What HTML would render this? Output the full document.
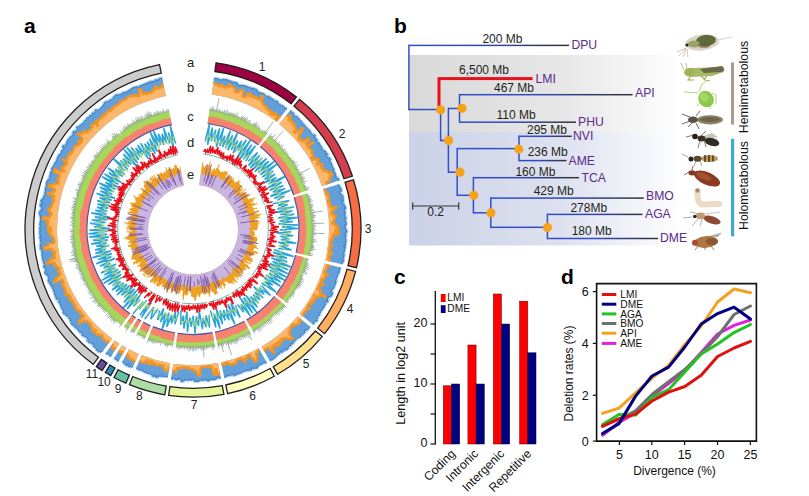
<!DOCTYPE html><html><head><meta charset="utf-8"><style>html,body{margin:0;padding:0;background:#fff;width:809px;height:496px;overflow:hidden;position:relative}</style></head><body><svg width="809" height="496" viewBox="0 0 809 496" style="position:absolute;left:0;top:0">
<rect width="809" height="496" fill="#fff"/>
<path d="M216.1,62.8A168.0,168.0 0 0 1 296.5,96.9L291.1,103.8A159.2,159.2 0 0 0 214.9,71.5Z" fill="#9e0142" stroke="#231f20" stroke-width="1.3"/>
<path d="M299.5,99.3A168.0,168.0 0 0 1 352.4,176.0L344.0,178.8A159.2,159.2 0 0 0 293.9,106.1Z" fill="#d53e4f" stroke="#231f20" stroke-width="1.3"/>
<path d="M353.5,179.7A168.0,168.0 0 0 1 356.5,267.7L348.0,265.7A159.2,159.2 0 0 0 345.1,182.3Z" fill="#f46d43" stroke="#231f20" stroke-width="1.3"/>
<path d="M355.6,271.4A168.0,168.0 0 0 1 324.6,333.7L317.7,328.2A159.2,159.2 0 0 0 347.1,269.2Z" fill="#fdae61" stroke="#231f20" stroke-width="1.3"/>
<path d="M322.2,336.6A168.0,168.0 0 0 1 277.6,374.3L273.2,366.7A159.2,159.2 0 0 0 315.4,331.0Z" fill="#fee08b" stroke="#231f20" stroke-width="1.3"/>
<path d="M274.3,376.2A168.0,168.0 0 0 1 227.6,393.6L225.8,385.0A159.2,159.2 0 0 0 270.1,368.5Z" fill="#ffffbf" stroke="#231f20" stroke-width="1.3"/>
<path d="M223.9,394.3A168.0,168.0 0 0 1 168.6,395.4L169.9,386.7A159.2,159.2 0 0 0 222.3,385.7Z" fill="#e6f598" stroke="#231f20" stroke-width="1.3"/>
<path d="M164.8,394.8A168.0,168.0 0 0 1 129.4,384.7L132.7,376.5A159.2,159.2 0 0 0 166.3,386.1Z" fill="#abdda4" stroke="#231f20" stroke-width="1.3"/>
<path d="M125.9,383.2A168.0,168.0 0 0 1 114.0,377.5L118.1,369.7A159.2,159.2 0 0 0 129.4,375.1Z" fill="#66c2a5" stroke="#231f20" stroke-width="1.3"/>
<path d="M110.7,375.6A168.0,168.0 0 0 1 105.3,372.5L109.9,365.0A159.2,159.2 0 0 0 115.0,368.0Z" fill="#3288bd" stroke="#231f20" stroke-width="1.3"/>
<path d="M102.1,370.5A168.0,168.0 0 0 1 96.3,366.6L101.3,359.4A159.2,159.2 0 0 0 106.9,363.1Z" fill="#5e4fa2" stroke="#231f20" stroke-width="1.3"/>
<path d="M93.2,364.3A168.0,168.0 0 0 1 159.5,64.6L161.3,73.2A159.2,159.2 0 0 0 98.4,357.3Z" fill="#cccccc" stroke="#231f20" stroke-width="1.3"/>
<path d="M213.9,78.5 L215.4,78.7 L215.4,78.3 L216.9,78.5 L216.9,78.8 L218.3,79.1 L218.3,79.2 L219.8,79.5 L219.7,79.9 L221.1,80.2 L221.2,79.9 L222.6,80.2 L222.8,79.3 L224.3,79.6 L224.3,79.7 L225.7,80.0 L225.8,79.6 L227.3,79.9 L227.2,80.3 L228.6,80.7 L228.6,80.7 L230.1,81.1 L230.0,81.2 L231.5,81.6 L231.1,82.8 L232.6,83.1 L232.9,82.0 L234.3,82.4 L234.4,82.2 L235.8,82.6 L235.8,82.6 L237.2,83.0 L236.8,84.3 L238.2,84.7 L238.1,85.2 L239.5,85.7 L239.6,85.3 L241.0,85.8 L241.1,85.4 L242.5,85.9 L242.7,85.3 L244.1,85.8 L244.1,85.8 L245.5,86.3 L245.7,86.0 L247.1,86.5 L246.8,87.1 L248.2,87.6 L248.4,87.2 L249.7,87.8 L249.8,87.6 L251.2,88.1 L251.0,88.7 L252.3,89.3 L252.8,88.1 L254.2,88.7 L254.1,88.9 L255.5,89.5 L255.6,89.2 L256.9,89.9 L256.5,90.8 L257.8,91.4 L257.7,91.8 L259.0,92.5 L259.0,92.4 L260.4,93.0 L260.4,92.9 L261.8,93.5 L262.0,93.1 L263.3,93.7 L263.3,93.8 L264.6,94.5 L264.4,94.9 L265.7,95.6 L265.5,96.0 L266.8,96.7 L266.8,96.6 L268.1,97.4 L268.7,96.4 L270.0,97.1 L269.5,97.9 L270.8,98.6 L271.0,98.3 L272.3,99.1 L272.4,98.9 L273.7,99.7 L273.0,100.6 L274.3,101.4 L274.6,100.9 L275.9,101.7 L276.4,100.9 L277.7,101.7 L276.7,103.2 L277.9,104.0 L278.2,103.6 L279.4,104.5 L279.5,104.2 L280.8,105.1 L280.6,105.3 L281.8,106.2 L282.2,105.6 L283.4,106.5 L283.3,106.6 L284.5,107.5 L283.9,108.2 L285.1,109.1 L285.8,108.2 L287.0,109.1" fill="none" stroke="#a6d0f0" stroke-width="2.8"/>
<path d="M213.9,78.5 L215.4,78.7 L215.4,78.3 L216.9,78.5 L216.9,78.8 L218.3,79.1 L218.3,79.2 L219.8,79.5 L219.7,79.9 L221.1,80.2 L221.2,79.9 L222.6,80.2 L222.8,79.3 L224.3,79.6 L224.3,79.7 L225.7,80.0 L225.8,79.6 L227.3,79.9 L227.2,80.3 L228.6,80.7 L228.6,80.7 L230.1,81.1 L230.0,81.2 L231.5,81.6 L231.1,82.8 L232.6,83.1 L232.9,82.0 L234.3,82.4 L234.4,82.2 L235.8,82.6 L235.8,82.6 L237.2,83.0 L236.8,84.3 L238.2,84.7 L238.1,85.2 L239.5,85.7 L239.6,85.3 L241.0,85.8 L241.1,85.4 L242.5,85.9 L242.7,85.3 L244.1,85.8 L244.1,85.8 L245.5,86.3 L245.7,86.0 L247.1,86.5 L246.8,87.1 L248.2,87.6 L248.4,87.2 L249.7,87.8 L249.8,87.6 L251.2,88.1 L251.0,88.7 L252.3,89.3 L252.8,88.1 L254.2,88.7 L254.1,88.9 L255.5,89.5 L255.6,89.2 L256.9,89.9 L256.5,90.8 L257.8,91.4 L257.7,91.8 L259.0,92.5 L259.0,92.4 L260.4,93.0 L260.4,92.9 L261.8,93.5 L262.0,93.1 L263.3,93.7 L263.3,93.8 L264.6,94.5 L264.4,94.9 L265.7,95.6 L265.5,96.0 L266.8,96.7 L266.8,96.6 L268.1,97.4 L268.7,96.4 L270.0,97.1 L269.5,97.9 L270.8,98.6 L271.0,98.3 L272.3,99.1 L272.4,98.9 L273.7,99.7 L273.0,100.6 L274.3,101.4 L274.6,100.9 L275.9,101.7 L276.4,100.9 L277.7,101.7 L276.7,103.2 L277.9,104.0 L278.2,103.6 L279.4,104.5 L279.5,104.2 L280.8,105.1 L280.6,105.3 L281.8,106.2 L282.2,105.6 L283.4,106.5 L283.3,106.6 L284.5,107.5 L283.9,108.2 L285.1,109.1 L285.8,108.2 L287.0,109.1 L276.8,122.1 A136.0,136.0 0 0 0 211.7,94.5Z" fill="#63a0d9"/>
<path d="M213.9,78.5 L215.4,78.7 L215.4,78.3 L216.9,78.5 L216.9,78.8 L218.3,79.1 L218.3,79.2 L219.8,79.5 L219.7,79.9 L221.1,80.2 L221.2,79.9 L222.6,80.2 L222.8,79.3 L224.3,79.6 L224.3,79.7 L225.7,80.0 L225.8,79.6 L227.3,79.9 L227.2,80.3 L228.6,80.7 L228.6,80.7 L230.1,81.1 L230.0,81.2 L231.5,81.6 L231.1,82.8 L232.6,83.1 L232.9,82.0 L234.3,82.4 L234.4,82.2 L235.8,82.6 L235.8,82.6 L237.2,83.0 L236.8,84.3 L238.2,84.7 L238.1,85.2 L239.5,85.7 L239.6,85.3 L241.0,85.8 L241.1,85.4 L242.5,85.9 L242.7,85.3 L244.1,85.8 L244.1,85.8 L245.5,86.3 L245.7,86.0 L247.1,86.5 L246.8,87.1 L248.2,87.6 L248.4,87.2 L249.7,87.8 L249.8,87.6 L251.2,88.1 L251.0,88.7 L252.3,89.3 L252.8,88.1 L254.2,88.7 L254.1,88.9 L255.5,89.5 L255.6,89.2 L256.9,89.9 L256.5,90.8 L257.8,91.4 L257.7,91.8 L259.0,92.5 L259.0,92.4 L260.4,93.0 L260.4,92.9 L261.8,93.5 L262.0,93.1 L263.3,93.7 L263.3,93.8 L264.6,94.5 L264.4,94.9 L265.7,95.6 L265.5,96.0 L266.8,96.7 L266.8,96.6 L268.1,97.4 L268.7,96.4 L270.0,97.1 L269.5,97.9 L270.8,98.6 L271.0,98.3 L272.3,99.1 L272.4,98.9 L273.7,99.7 L273.0,100.6 L274.3,101.4 L274.6,100.9 L275.9,101.7 L276.4,100.9 L277.7,101.7 L276.7,103.2 L277.9,104.0 L278.2,103.6 L279.4,104.5 L279.5,104.2 L280.8,105.1 L280.6,105.3 L281.8,106.2 L282.2,105.6 L283.4,106.5 L283.3,106.6 L284.5,107.5 L283.9,108.2 L285.1,109.1 L285.8,108.2 L287.0,109.1" fill="none" stroke="#3a7ac4" stroke-width="1.0"/>
<path d="M213.3,83.0 L214.7,83.2 L214.7,83.2 L216.1,83.4 L215.9,84.6 L217.4,84.8 L217.3,85.1 L218.7,85.4 L218.6,85.9 L220.0,86.2 L220.3,84.4 L221.7,84.7 L221.7,85.1 L223.1,85.4 L222.8,86.7 L224.2,87.0 L224.1,87.6 L225.4,87.9 L225.8,86.4 L227.2,86.8 L227.1,86.8 L228.5,87.2 L229.3,84.1 L230.7,84.5 L230.2,86.3 L231.6,86.7 L231.6,86.8 L233.0,87.2 L232.9,87.6 L234.2,88.0 L234.3,87.8 L235.7,88.2 L234.6,91.9 L235.9,92.3 L236.2,91.4 L237.5,91.8 L237.4,92.0 L238.8,92.5 L239.6,89.9 L241.0,90.4 L241.2,89.7 L242.6,90.2 L242.5,90.5 L243.8,91.0 L242.0,95.9 L243.3,96.4 L243.1,96.8 L244.4,97.3 L244.7,96.5 L246.0,97.0 L247.5,93.4 L248.8,93.9 L249.2,93.0 L250.5,93.6 L249.5,95.9 L250.8,96.5 L251.5,94.8 L252.8,95.4 L252.2,96.8 L253.5,97.3 L253.6,97.1 L254.9,97.7 L255.5,96.5 L256.8,97.1 L256.1,98.4 L257.4,99.0 L257.3,99.2 L258.6,99.9 L259.5,98.1 L260.7,98.8 L262.3,95.7 L263.6,96.4 L260.9,101.5 L262.1,102.2 L262.1,102.3 L263.3,103.0 L262.9,103.8 L264.1,104.4 L263.5,105.4 L264.7,106.1 L264.7,106.2 L265.9,106.9 L266.2,106.3 L267.4,107.0 L266.2,109.0 L267.4,109.7 L267.6,109.3 L268.8,110.0 L268.6,110.4 L269.7,111.1 L270.2,110.4 L271.4,111.1 L269.7,113.7 L270.8,114.4 L272.3,112.3 L273.4,113.0 L272.2,114.8 L273.3,115.6 L275.1,113.0 L276.2,113.8 L275.6,114.7 L276.7,115.5 L276.5,115.9 L277.6,116.7 L275.8,119.1 L276.9,119.9 L279.6,116.3 L280.7,117.2 L276.8,122.1 A136.0,136.0 0 0 0 211.7,94.5Z" fill="#fdb76b"/>
<path d="M213.3,83.0 L214.7,83.2 L214.7,83.2 L216.1,83.4 L215.9,84.6 L217.4,84.8 L217.3,85.1 L218.7,85.4 L218.6,85.9 L220.0,86.2 L220.3,84.4 L221.7,84.7 L221.7,85.1 L223.1,85.4 L222.8,86.7 L224.2,87.0 L224.1,87.6 L225.4,87.9 L225.8,86.4 L227.2,86.8 L227.1,86.8 L228.5,87.2 L229.3,84.1 L230.7,84.5 L230.2,86.3 L231.6,86.7 L231.6,86.8 L233.0,87.2 L232.9,87.6 L234.2,88.0 L234.3,87.8 L235.7,88.2 L234.6,91.9 L235.9,92.3 L236.2,91.4 L237.5,91.8 L237.4,92.0 L238.8,92.5 L239.6,89.9 L241.0,90.4 L241.2,89.7 L242.6,90.2 L242.5,90.5 L243.8,91.0 L242.0,95.9 L243.3,96.4 L243.1,96.8 L244.4,97.3 L244.7,96.5 L246.0,97.0 L247.5,93.4 L248.8,93.9 L249.2,93.0 L250.5,93.6 L249.5,95.9 L250.8,96.5 L251.5,94.8 L252.8,95.4 L252.2,96.8 L253.5,97.3 L253.6,97.1 L254.9,97.7 L255.5,96.5 L256.8,97.1 L256.1,98.4 L257.4,99.0 L257.3,99.2 L258.6,99.9 L259.5,98.1 L260.7,98.8 L262.3,95.7 L263.6,96.4 L260.9,101.5 L262.1,102.2 L262.1,102.3 L263.3,103.0 L262.9,103.8 L264.1,104.4 L263.5,105.4 L264.7,106.1 L264.7,106.2 L265.9,106.9 L266.2,106.3 L267.4,107.0 L266.2,109.0 L267.4,109.7 L267.6,109.3 L268.8,110.0 L268.6,110.4 L269.7,111.1 L270.2,110.4 L271.4,111.1 L269.7,113.7 L270.8,114.4 L272.3,112.3 L273.4,113.0 L272.2,114.8 L273.3,115.6 L275.1,113.0 L276.2,113.8 L275.6,114.7 L276.7,115.5 L276.5,115.9 L277.6,116.7 L275.8,119.1 L276.9,119.9 L279.6,116.3 L280.7,117.2" fill="none" stroke="#f39322" stroke-width="2.0"/>
<path d="M290.2,110.6 L291.4,111.6 L290.9,112.1 L292.0,113.1 L292.5,112.5 L293.7,113.5 L293.2,114.0 L294.3,115.0 L293.8,115.5 L294.9,116.5 L295.2,116.2 L296.3,117.2 L296.9,116.5 L298.0,117.5 L297.9,117.7 L298.9,118.7 L298.8,118.8 L299.9,119.8 L299.9,119.9 L300.9,120.9 L301.0,120.9 L302.0,121.9 L301.7,122.2 L302.7,123.3 L302.1,123.9 L303.1,124.9 L303.8,124.3 L304.8,125.4 L304.5,125.6 L305.5,126.7 L305.7,126.6 L306.7,127.7 L306.3,128.1 L307.2,129.2 L307.6,128.8 L308.6,129.9 L308.9,129.7 L309.8,130.8 L309.6,131.0 L310.6,132.1 L310.4,132.3 L311.3,133.4 L311.5,133.3 L312.4,134.4 L312.4,134.4 L313.4,135.6 L314.4,134.8 L315.3,136.0 L314.1,136.8 L315.0,138.0 L315.2,137.9 L316.1,139.0 L316.3,138.9 L317.2,140.1 L316.0,140.9 L316.9,142.1 L316.9,142.1 L317.8,143.3 L318.7,142.6 L319.6,143.9 L319.0,144.2 L319.8,145.5 L320.2,145.2 L321.1,146.4 L321.0,146.4 L321.8,147.7 L321.4,147.9 L322.2,149.2 L322.1,149.3 L322.8,150.5 L323.2,150.3 L324.0,151.5 L325.1,150.9 L325.8,152.2 L325.1,152.6 L325.8,153.9 L326.8,153.3 L327.6,154.6 L326.0,155.5 L326.7,156.8 L327.1,156.6 L327.8,157.9 L328.7,157.4 L329.4,158.7 L330.0,158.4 L330.7,159.7 L329.5,160.3 L330.1,161.7 L330.3,161.6 L330.9,162.9 L331.0,162.9 L331.7,164.2 L331.3,164.4 L331.9,165.7 L332.0,165.7 L332.6,167.0 L332.6,167.0 L333.2,168.4 L333.4,168.3 L334.0,169.7 L333.3,169.9 L333.9,171.3 L333.3,171.6 L333.8,172.9 L334.8,172.5 L335.3,173.9 L335.2,174.0 L335.7,175.4 L335.7,175.4 L336.2,176.8 L335.5,177.0 L336.0,178.4 L337.4,177.9 L337.9,179.3 L338.6,179.0 L339.1,180.5" fill="none" stroke="#a6d0f0" stroke-width="2.8"/>
<path d="M290.2,110.6 L291.4,111.6 L290.9,112.1 L292.0,113.1 L292.5,112.5 L293.7,113.5 L293.2,114.0 L294.3,115.0 L293.8,115.5 L294.9,116.5 L295.2,116.2 L296.3,117.2 L296.9,116.5 L298.0,117.5 L297.9,117.7 L298.9,118.7 L298.8,118.8 L299.9,119.8 L299.9,119.9 L300.9,120.9 L301.0,120.9 L302.0,121.9 L301.7,122.2 L302.7,123.3 L302.1,123.9 L303.1,124.9 L303.8,124.3 L304.8,125.4 L304.5,125.6 L305.5,126.7 L305.7,126.6 L306.7,127.7 L306.3,128.1 L307.2,129.2 L307.6,128.8 L308.6,129.9 L308.9,129.7 L309.8,130.8 L309.6,131.0 L310.6,132.1 L310.4,132.3 L311.3,133.4 L311.5,133.3 L312.4,134.4 L312.4,134.4 L313.4,135.6 L314.4,134.8 L315.3,136.0 L314.1,136.8 L315.0,138.0 L315.2,137.9 L316.1,139.0 L316.3,138.9 L317.2,140.1 L316.0,140.9 L316.9,142.1 L316.9,142.1 L317.8,143.3 L318.7,142.6 L319.6,143.9 L319.0,144.2 L319.8,145.5 L320.2,145.2 L321.1,146.4 L321.0,146.4 L321.8,147.7 L321.4,147.9 L322.2,149.2 L322.1,149.3 L322.8,150.5 L323.2,150.3 L324.0,151.5 L325.1,150.9 L325.8,152.2 L325.1,152.6 L325.8,153.9 L326.8,153.3 L327.6,154.6 L326.0,155.5 L326.7,156.8 L327.1,156.6 L327.8,157.9 L328.7,157.4 L329.4,158.7 L330.0,158.4 L330.7,159.7 L329.5,160.3 L330.1,161.7 L330.3,161.6 L330.9,162.9 L331.0,162.9 L331.7,164.2 L331.3,164.4 L331.9,165.7 L332.0,165.7 L332.6,167.0 L332.6,167.0 L333.2,168.4 L333.4,168.3 L334.0,169.7 L333.3,169.9 L333.9,171.3 L333.3,171.6 L333.8,172.9 L334.8,172.5 L335.3,173.9 L335.2,174.0 L335.7,175.4 L335.7,175.4 L336.2,176.8 L335.5,177.0 L336.0,178.4 L337.4,177.9 L337.9,179.3 L338.6,179.0 L339.1,180.5 L322.0,186.2 A136.0,136.0 0 0 0 279.2,124.0Z" fill="#63a0d9"/>
<path d="M290.2,110.6 L291.4,111.6 L290.9,112.1 L292.0,113.1 L292.5,112.5 L293.7,113.5 L293.2,114.0 L294.3,115.0 L293.8,115.5 L294.9,116.5 L295.2,116.2 L296.3,117.2 L296.9,116.5 L298.0,117.5 L297.9,117.7 L298.9,118.7 L298.8,118.8 L299.9,119.8 L299.9,119.9 L300.9,120.9 L301.0,120.9 L302.0,121.9 L301.7,122.2 L302.7,123.3 L302.1,123.9 L303.1,124.9 L303.8,124.3 L304.8,125.4 L304.5,125.6 L305.5,126.7 L305.7,126.6 L306.7,127.7 L306.3,128.1 L307.2,129.2 L307.6,128.8 L308.6,129.9 L308.9,129.7 L309.8,130.8 L309.6,131.0 L310.6,132.1 L310.4,132.3 L311.3,133.4 L311.5,133.3 L312.4,134.4 L312.4,134.4 L313.4,135.6 L314.4,134.8 L315.3,136.0 L314.1,136.8 L315.0,138.0 L315.2,137.9 L316.1,139.0 L316.3,138.9 L317.2,140.1 L316.0,140.9 L316.9,142.1 L316.9,142.1 L317.8,143.3 L318.7,142.6 L319.6,143.9 L319.0,144.2 L319.8,145.5 L320.2,145.2 L321.1,146.4 L321.0,146.4 L321.8,147.7 L321.4,147.9 L322.2,149.2 L322.1,149.3 L322.8,150.5 L323.2,150.3 L324.0,151.5 L325.1,150.9 L325.8,152.2 L325.1,152.6 L325.8,153.9 L326.8,153.3 L327.6,154.6 L326.0,155.5 L326.7,156.8 L327.1,156.6 L327.8,157.9 L328.7,157.4 L329.4,158.7 L330.0,158.4 L330.7,159.7 L329.5,160.3 L330.1,161.7 L330.3,161.6 L330.9,162.9 L331.0,162.9 L331.7,164.2 L331.3,164.4 L331.9,165.7 L332.0,165.7 L332.6,167.0 L332.6,167.0 L333.2,168.4 L333.4,168.3 L334.0,169.7 L333.3,169.9 L333.9,171.3 L333.3,171.6 L333.8,172.9 L334.8,172.5 L335.3,173.9 L335.2,174.0 L335.7,175.4 L335.7,175.4 L336.2,176.8 L335.5,177.0 L336.0,178.4 L337.4,177.9 L337.9,179.3 L338.6,179.0 L339.1,180.5" fill="none" stroke="#3a7ac4" stroke-width="1.0"/>
<path d="M286.4,115.2 L287.5,116.1 L287.5,116.1 L288.6,117.1 L290.1,115.3 L291.2,116.3 L288.1,119.8 L289.2,120.8 L290.3,119.5 L291.4,120.4 L291.4,120.4 L292.4,121.4 L291.8,122.0 L292.9,123.0 L292.2,123.7 L293.2,124.7 L294.4,123.4 L295.4,124.4 L294.3,125.6 L295.3,126.5 L294.7,127.1 L295.7,128.1 L295.4,128.4 L296.4,129.4 L293.7,132.0 L294.7,132.9 L296.1,131.6 L297.1,132.6 L302.0,128.0 L303.0,129.1 L300.8,131.0 L301.8,132.1 L298.9,134.6 L299.8,135.6 L298.6,136.7 L299.5,137.8 L298.3,138.7 L299.2,139.8 L300.6,138.6 L301.4,139.7 L301.1,139.9 L302.0,141.0 L302.7,140.4 L303.5,141.5 L308.2,137.8 L309.1,138.9 L308.3,139.5 L309.1,140.7 L305.6,143.3 L306.4,144.4 L306.5,144.4 L307.3,145.5 L312.4,141.8 L313.2,142.9 L307.7,146.9 L308.5,148.0 L309.1,147.6 L309.9,148.7 L310.0,148.6 L310.8,149.8 L311.0,149.6 L311.7,150.8 L312.2,150.5 L312.9,151.7 L311.2,152.8 L311.9,153.9 L312.1,153.8 L312.8,155.0 L312.7,155.1 L313.4,156.2 L311.2,157.6 L311.9,158.7 L311.5,158.9 L312.2,160.1 L315.1,158.4 L315.7,159.6 L318.0,158.3 L318.7,159.6 L317.0,160.5 L317.7,161.7 L318.2,161.4 L318.8,162.6 L316.7,163.8 L317.3,165.0 L319.9,163.6 L320.6,164.8 L322.1,164.0 L322.8,165.3 L320.5,166.4 L321.1,167.7 L321.4,167.5 L322.0,168.8 L322.9,168.3 L323.5,169.6 L322.9,169.8 L323.5,171.1 L325.6,170.2 L326.1,171.5 L327.7,170.8 L328.2,172.1 L328.3,172.1 L328.8,173.4 L331.2,172.4 L331.8,173.7 L331.5,173.8 L332.1,175.2 L330.0,176.0 L330.5,177.3 L329.3,177.8 L329.8,179.1 L329.3,179.3 L329.8,180.6 L326.2,181.9 L326.6,183.2 L326.3,183.3 L326.7,184.6 L322.0,186.2 A136.0,136.0 0 0 0 279.2,124.0Z" fill="#fdb76b"/>
<path d="M286.4,115.2 L287.5,116.1 L287.5,116.1 L288.6,117.1 L290.1,115.3 L291.2,116.3 L288.1,119.8 L289.2,120.8 L290.3,119.5 L291.4,120.4 L291.4,120.4 L292.4,121.4 L291.8,122.0 L292.9,123.0 L292.2,123.7 L293.2,124.7 L294.4,123.4 L295.4,124.4 L294.3,125.6 L295.3,126.5 L294.7,127.1 L295.7,128.1 L295.4,128.4 L296.4,129.4 L293.7,132.0 L294.7,132.9 L296.1,131.6 L297.1,132.6 L302.0,128.0 L303.0,129.1 L300.8,131.0 L301.8,132.1 L298.9,134.6 L299.8,135.6 L298.6,136.7 L299.5,137.8 L298.3,138.7 L299.2,139.8 L300.6,138.6 L301.4,139.7 L301.1,139.9 L302.0,141.0 L302.7,140.4 L303.5,141.5 L308.2,137.8 L309.1,138.9 L308.3,139.5 L309.1,140.7 L305.6,143.3 L306.4,144.4 L306.5,144.4 L307.3,145.5 L312.4,141.8 L313.2,142.9 L307.7,146.9 L308.5,148.0 L309.1,147.6 L309.9,148.7 L310.0,148.6 L310.8,149.8 L311.0,149.6 L311.7,150.8 L312.2,150.5 L312.9,151.7 L311.2,152.8 L311.9,153.9 L312.1,153.8 L312.8,155.0 L312.7,155.1 L313.4,156.2 L311.2,157.6 L311.9,158.7 L311.5,158.9 L312.2,160.1 L315.1,158.4 L315.7,159.6 L318.0,158.3 L318.7,159.6 L317.0,160.5 L317.7,161.7 L318.2,161.4 L318.8,162.6 L316.7,163.8 L317.3,165.0 L319.9,163.6 L320.6,164.8 L322.1,164.0 L322.8,165.3 L320.5,166.4 L321.1,167.7 L321.4,167.5 L322.0,168.8 L322.9,168.3 L323.5,169.6 L322.9,169.8 L323.5,171.1 L325.6,170.2 L326.1,171.5 L327.7,170.8 L328.2,172.1 L328.3,172.1 L328.8,173.4 L331.2,172.4 L331.8,173.7 L331.5,173.8 L332.1,175.2 L330.0,176.0 L330.5,177.3 L329.3,177.8 L329.8,179.1 L329.3,179.3 L329.8,180.6 L326.2,181.9 L326.6,183.2 L326.3,183.3 L326.7,184.6" fill="none" stroke="#f39322" stroke-width="2.0"/>
<path d="M338.0,184.4 L338.5,185.8 L339.2,185.6 L339.6,187.0 L339.6,187.0 L340.0,188.5 L340.8,188.2 L341.2,189.7 L341.1,189.7 L341.4,191.1 L339.2,191.7 L339.5,193.1 L340.2,192.9 L340.6,194.4 L341.1,194.2 L341.5,195.7 L342.5,195.4 L342.8,196.9 L342.9,196.9 L343.2,198.3 L342.8,198.4 L343.1,199.8 L343.2,199.8 L343.5,201.3 L341.3,201.7 L341.5,203.1 L342.7,202.9 L343.0,204.3 L344.1,204.2 L344.3,205.6 L344.1,205.7 L344.3,207.1 L345.5,206.9 L345.7,208.4 L344.1,208.6 L344.3,210.1 L344.7,210.0 L344.9,211.5 L345.0,211.5 L345.1,213.0 L345.0,213.0 L345.1,214.4 L344.6,214.5 L344.7,216.0 L344.5,216.0 L344.6,217.4 L345.8,217.3 L345.9,218.8 L345.2,218.9 L345.3,220.3 L345.1,220.3 L345.2,221.8 L345.9,221.8 L346.0,223.3 L346.2,223.2 L346.2,224.7 L344.6,224.8 L344.6,226.2 L345.4,226.2 L345.4,227.7 L345.4,227.7 L345.4,229.2 L345.9,229.2 L345.9,230.6 L346.7,230.6 L346.7,232.1 L345.8,232.1 L345.8,233.6 L344.9,233.6 L344.8,235.0 L346.0,235.1 L345.9,236.5 L345.2,236.5 L345.1,238.0 L345.7,238.0 L345.6,239.5 L345.9,239.5 L345.8,241.0 L345.9,241.0 L345.8,242.5 L345.2,242.4 L345.0,243.9 L345.6,243.9 L345.4,245.4 L343.9,245.2 L343.7,246.7 L345.3,246.9 L345.1,248.3 L344.8,248.3 L344.6,249.8 L344.6,249.8 L344.4,251.2 L344.2,251.2 L344.0,252.7 L343.5,252.6 L343.3,254.0 L344.2,254.2 L343.9,255.6 L343.9,255.6 L343.6,257.1 L343.6,257.1 L343.3,258.5 L342.9,258.4 L342.6,259.9 L343.6,260.1 L343.3,261.5 L342.2,261.3 L341.9,262.8 L342.3,262.8 L342.0,264.3" fill="none" stroke="#a6d0f0" stroke-width="2.8"/>
<path d="M338.0,184.4 L338.5,185.8 L339.2,185.6 L339.6,187.0 L339.6,187.0 L340.0,188.5 L340.8,188.2 L341.2,189.7 L341.1,189.7 L341.4,191.1 L339.2,191.7 L339.5,193.1 L340.2,192.9 L340.6,194.4 L341.1,194.2 L341.5,195.7 L342.5,195.4 L342.8,196.9 L342.9,196.9 L343.2,198.3 L342.8,198.4 L343.1,199.8 L343.2,199.8 L343.5,201.3 L341.3,201.7 L341.5,203.1 L342.7,202.9 L343.0,204.3 L344.1,204.2 L344.3,205.6 L344.1,205.7 L344.3,207.1 L345.5,206.9 L345.7,208.4 L344.1,208.6 L344.3,210.1 L344.7,210.0 L344.9,211.5 L345.0,211.5 L345.1,213.0 L345.0,213.0 L345.1,214.4 L344.6,214.5 L344.7,216.0 L344.5,216.0 L344.6,217.4 L345.8,217.3 L345.9,218.8 L345.2,218.9 L345.3,220.3 L345.1,220.3 L345.2,221.8 L345.9,221.8 L346.0,223.3 L346.2,223.2 L346.2,224.7 L344.6,224.8 L344.6,226.2 L345.4,226.2 L345.4,227.7 L345.4,227.7 L345.4,229.2 L345.9,229.2 L345.9,230.6 L346.7,230.6 L346.7,232.1 L345.8,232.1 L345.8,233.6 L344.9,233.6 L344.8,235.0 L346.0,235.1 L345.9,236.5 L345.2,236.5 L345.1,238.0 L345.7,238.0 L345.6,239.5 L345.9,239.5 L345.8,241.0 L345.9,241.0 L345.8,242.5 L345.2,242.4 L345.0,243.9 L345.6,243.9 L345.4,245.4 L343.9,245.2 L343.7,246.7 L345.3,246.9 L345.1,248.3 L344.8,248.3 L344.6,249.8 L344.6,249.8 L344.4,251.2 L344.2,251.2 L344.0,252.7 L343.5,252.6 L343.3,254.0 L344.2,254.2 L343.9,255.6 L343.9,255.6 L343.6,257.1 L343.6,257.1 L343.3,258.5 L342.9,258.4 L342.6,259.9 L343.6,260.1 L343.3,261.5 L342.2,261.3 L341.9,262.8 L342.3,262.8 L342.0,264.3 L325.4,260.4 A136.0,136.0 0 0 0 323.0,189.1Z" fill="#63a0d9"/>
<path d="M338.0,184.4 L338.5,185.8 L339.2,185.6 L339.6,187.0 L339.6,187.0 L340.0,188.5 L340.8,188.2 L341.2,189.7 L341.1,189.7 L341.4,191.1 L339.2,191.7 L339.5,193.1 L340.2,192.9 L340.6,194.4 L341.1,194.2 L341.5,195.7 L342.5,195.4 L342.8,196.9 L342.9,196.9 L343.2,198.3 L342.8,198.4 L343.1,199.8 L343.2,199.8 L343.5,201.3 L341.3,201.7 L341.5,203.1 L342.7,202.9 L343.0,204.3 L344.1,204.2 L344.3,205.6 L344.1,205.7 L344.3,207.1 L345.5,206.9 L345.7,208.4 L344.1,208.6 L344.3,210.1 L344.7,210.0 L344.9,211.5 L345.0,211.5 L345.1,213.0 L345.0,213.0 L345.1,214.4 L344.6,214.5 L344.7,216.0 L344.5,216.0 L344.6,217.4 L345.8,217.3 L345.9,218.8 L345.2,218.9 L345.3,220.3 L345.1,220.3 L345.2,221.8 L345.9,221.8 L346.0,223.3 L346.2,223.2 L346.2,224.7 L344.6,224.8 L344.6,226.2 L345.4,226.2 L345.4,227.7 L345.4,227.7 L345.4,229.2 L345.9,229.2 L345.9,230.6 L346.7,230.6 L346.7,232.1 L345.8,232.1 L345.8,233.6 L344.9,233.6 L344.8,235.0 L346.0,235.1 L345.9,236.5 L345.2,236.5 L345.1,238.0 L345.7,238.0 L345.6,239.5 L345.9,239.5 L345.8,241.0 L345.9,241.0 L345.8,242.5 L345.2,242.4 L345.0,243.9 L345.6,243.9 L345.4,245.4 L343.9,245.2 L343.7,246.7 L345.3,246.9 L345.1,248.3 L344.8,248.3 L344.6,249.8 L344.6,249.8 L344.4,251.2 L344.2,251.2 L344.0,252.7 L343.5,252.6 L343.3,254.0 L344.2,254.2 L343.9,255.6 L343.9,255.6 L343.6,257.1 L343.6,257.1 L343.3,258.5 L342.9,258.4 L342.6,259.9 L343.6,260.1 L343.3,261.5 L342.2,261.3 L341.9,262.8 L342.3,262.8 L342.0,264.3" fill="none" stroke="#3a7ac4" stroke-width="1.0"/>
<path d="M324.7,188.6 L325.1,189.8 L325.1,189.8 L325.4,191.1 L326.1,190.9 L326.4,192.2 L325.8,192.4 L326.1,193.7 L327.9,193.2 L328.2,194.5 L327.6,194.7 L327.9,196.0 L328.6,195.8 L328.9,197.1 L328.9,197.1 L329.2,198.4 L328.9,198.5 L329.2,199.8 L327.8,200.1 L328.1,201.4 L328.0,201.4 L328.2,202.7 L329.9,202.4 L330.2,203.7 L330.1,203.7 L330.3,205.1 L329.2,205.3 L329.5,206.6 L330.9,206.3 L331.1,207.7 L336.4,206.8 L336.6,208.2 L333.8,208.6 L334.0,210.0 L332.2,210.2 L332.4,211.6 L331.9,211.7 L332.0,213.0 L331.0,213.1 L331.2,214.4 L333.6,214.2 L333.8,215.5 L335.9,215.3 L336.1,216.7 L334.9,216.8 L335.0,218.2 L334.4,218.2 L334.5,219.6 L333.7,219.6 L333.8,221.0 L333.7,221.0 L333.7,222.4 L331.8,222.5 L331.9,223.8 L334.3,223.7 L334.3,225.1 L336.1,225.0 L336.1,226.4 L337.6,226.4 L337.6,227.8 L338.3,227.8 L338.3,229.2 L335.7,229.2 L335.7,230.5 L338.2,230.6 L338.2,232.0 L335.0,231.9 L335.0,233.3 L338.7,233.4 L338.6,234.8 L333.0,234.6 L332.9,235.9 L332.5,235.9 L332.5,237.2 L332.0,237.2 L331.9,238.6 L333.1,238.6 L333.0,240.0 L330.4,239.8 L330.3,241.1 L330.3,241.1 L330.2,242.4 L330.2,242.4 L330.0,243.8 L331.6,243.9 L331.4,245.3 L331.8,245.3 L331.7,246.6 L329.7,246.4 L329.6,247.7 L330.6,247.9 L330.4,249.2 L329.4,249.0 L329.2,250.3 L329.2,250.3 L329.0,251.7 L332.1,252.2 L331.9,253.5 L330.8,253.3 L330.6,254.7 L329.0,254.4 L328.8,255.7 L330.1,255.9 L329.8,257.3 L328.6,257.0 L328.3,258.3 L329.0,258.5 L328.7,259.8 L330.0,260.1 L329.7,261.4 L325.4,260.4 A136.0,136.0 0 0 0 323.0,189.1Z" fill="#fdb76b"/>
<path d="M324.7,188.6 L325.1,189.8 L325.1,189.8 L325.4,191.1 L326.1,190.9 L326.4,192.2 L325.8,192.4 L326.1,193.7 L327.9,193.2 L328.2,194.5 L327.6,194.7 L327.9,196.0 L328.6,195.8 L328.9,197.1 L328.9,197.1 L329.2,198.4 L328.9,198.5 L329.2,199.8 L327.8,200.1 L328.1,201.4 L328.0,201.4 L328.2,202.7 L329.9,202.4 L330.2,203.7 L330.1,203.7 L330.3,205.1 L329.2,205.3 L329.5,206.6 L330.9,206.3 L331.1,207.7 L336.4,206.8 L336.6,208.2 L333.8,208.6 L334.0,210.0 L332.2,210.2 L332.4,211.6 L331.9,211.7 L332.0,213.0 L331.0,213.1 L331.2,214.4 L333.6,214.2 L333.8,215.5 L335.9,215.3 L336.1,216.7 L334.9,216.8 L335.0,218.2 L334.4,218.2 L334.5,219.6 L333.7,219.6 L333.8,221.0 L333.7,221.0 L333.7,222.4 L331.8,222.5 L331.9,223.8 L334.3,223.7 L334.3,225.1 L336.1,225.0 L336.1,226.4 L337.6,226.4 L337.6,227.8 L338.3,227.8 L338.3,229.2 L335.7,229.2 L335.7,230.5 L338.2,230.6 L338.2,232.0 L335.0,231.9 L335.0,233.3 L338.7,233.4 L338.6,234.8 L333.0,234.6 L332.9,235.9 L332.5,235.9 L332.5,237.2 L332.0,237.2 L331.9,238.6 L333.1,238.6 L333.0,240.0 L330.4,239.8 L330.3,241.1 L330.3,241.1 L330.2,242.4 L330.2,242.4 L330.0,243.8 L331.6,243.9 L331.4,245.3 L331.8,245.3 L331.7,246.6 L329.7,246.4 L329.6,247.7 L330.6,247.9 L330.4,249.2 L329.4,249.0 L329.2,250.3 L329.2,250.3 L329.0,251.7 L332.1,252.2 L331.9,253.5 L330.8,253.3 L330.6,254.7 L329.0,254.4 L328.8,255.7 L330.1,255.9 L329.8,257.3 L328.6,257.0 L328.3,258.3 L329.0,258.5 L328.7,259.8 L330.0,260.1 L329.7,261.4" fill="none" stroke="#f39322" stroke-width="2.0"/>
<path d="M340.4,267.5 L340.0,268.9 L339.5,268.8 L339.1,270.2 L339.6,270.3 L339.2,271.7 L339.2,271.7 L338.8,273.1 L338.1,272.9 L337.7,274.3 L337.8,274.4 L337.4,275.8 L337.4,275.8 L336.9,277.2 L336.9,277.2 L336.4,278.6 L336.3,278.5 L335.9,279.9 L335.8,279.9 L335.3,281.3 L336.2,281.6 L335.7,283.0 L335.7,283.0 L335.1,284.4 L334.8,284.3 L334.3,285.6 L334.5,285.7 L333.9,287.1 L334.1,287.2 L333.5,288.5 L332.9,288.3 L332.4,289.6 L332.3,289.6 L331.7,290.9 L331.2,290.7 L330.6,292.1 L332.5,292.9 L331.8,294.3 L332.2,294.4 L331.5,295.8 L331.0,295.5 L330.3,296.8 L329.4,296.4 L328.7,297.7 L327.7,297.2 L327.0,298.5 L327.6,298.8 L326.9,300.1 L328.2,300.8 L327.5,302.1 L326.3,301.4 L325.6,302.7 L325.4,302.6 L324.7,303.9 L325.4,304.3 L324.7,305.6 L324.6,305.6 L323.9,306.8 L324.1,306.9 L323.3,308.2 L323.0,308.0 L322.3,309.3 L322.3,309.3 L321.5,310.5 L321.0,310.2 L320.2,311.5 L320.8,311.9 L320.0,313.1 L319.1,312.5 L318.3,313.7 L319.8,314.7 L318.9,315.9 L318.1,315.4 L317.3,316.6 L317.9,317.0 L317.0,318.2 L317.3,318.4 L316.4,319.6 L317.3,320.2 L316.4,321.4 L315.5,320.8 L314.6,322.0 L314.0,321.5 L313.1,322.7 L313.9,323.3 L313.0,324.5" fill="none" stroke="#a6d0f0" stroke-width="2.8"/>
<path d="M340.4,267.5 L340.0,268.9 L339.5,268.8 L339.1,270.2 L339.6,270.3 L339.2,271.7 L339.2,271.7 L338.8,273.1 L338.1,272.9 L337.7,274.3 L337.8,274.4 L337.4,275.8 L337.4,275.8 L336.9,277.2 L336.9,277.2 L336.4,278.6 L336.3,278.5 L335.9,279.9 L335.8,279.9 L335.3,281.3 L336.2,281.6 L335.7,283.0 L335.7,283.0 L335.1,284.4 L334.8,284.3 L334.3,285.6 L334.5,285.7 L333.9,287.1 L334.1,287.2 L333.5,288.5 L332.9,288.3 L332.4,289.6 L332.3,289.6 L331.7,290.9 L331.2,290.7 L330.6,292.1 L332.5,292.9 L331.8,294.3 L332.2,294.4 L331.5,295.8 L331.0,295.5 L330.3,296.8 L329.4,296.4 L328.7,297.7 L327.7,297.2 L327.0,298.5 L327.6,298.8 L326.9,300.1 L328.2,300.8 L327.5,302.1 L326.3,301.4 L325.6,302.7 L325.4,302.6 L324.7,303.9 L325.4,304.3 L324.7,305.6 L324.6,305.6 L323.9,306.8 L324.1,306.9 L323.3,308.2 L323.0,308.0 L322.3,309.3 L322.3,309.3 L321.5,310.5 L321.0,310.2 L320.2,311.5 L320.8,311.9 L320.0,313.1 L319.1,312.5 L318.3,313.7 L319.8,314.7 L318.9,315.9 L318.1,315.4 L317.3,316.6 L317.9,317.0 L317.0,318.2 L317.3,318.4 L316.4,319.6 L317.3,320.2 L316.4,321.4 L315.5,320.8 L314.6,322.0 L314.0,321.5 L313.1,322.7 L313.9,323.3 L313.0,324.5 L299.5,313.8 A136.0,136.0 0 0 0 324.6,263.4Z" fill="#63a0d9"/>
<path d="M340.4,267.5 L340.0,268.9 L339.5,268.8 L339.1,270.2 L339.6,270.3 L339.2,271.7 L339.2,271.7 L338.8,273.1 L338.1,272.9 L337.7,274.3 L337.8,274.4 L337.4,275.8 L337.4,275.8 L336.9,277.2 L336.9,277.2 L336.4,278.6 L336.3,278.5 L335.9,279.9 L335.8,279.9 L335.3,281.3 L336.2,281.6 L335.7,283.0 L335.7,283.0 L335.1,284.4 L334.8,284.3 L334.3,285.6 L334.5,285.7 L333.9,287.1 L334.1,287.2 L333.5,288.5 L332.9,288.3 L332.4,289.6 L332.3,289.6 L331.7,290.9 L331.2,290.7 L330.6,292.1 L332.5,292.9 L331.8,294.3 L332.2,294.4 L331.5,295.8 L331.0,295.5 L330.3,296.8 L329.4,296.4 L328.7,297.7 L327.7,297.2 L327.0,298.5 L327.6,298.8 L326.9,300.1 L328.2,300.8 L327.5,302.1 L326.3,301.4 L325.6,302.7 L325.4,302.6 L324.7,303.9 L325.4,304.3 L324.7,305.6 L324.6,305.6 L323.9,306.8 L324.1,306.9 L323.3,308.2 L323.0,308.0 L322.3,309.3 L322.3,309.3 L321.5,310.5 L321.0,310.2 L320.2,311.5 L320.8,311.9 L320.0,313.1 L319.1,312.5 L318.3,313.7 L319.8,314.7 L318.9,315.9 L318.1,315.4 L317.3,316.6 L317.9,317.0 L317.0,318.2 L317.3,318.4 L316.4,319.6 L317.3,320.2 L316.4,321.4 L315.5,320.8 L314.6,322.0 L314.0,321.5 L313.1,322.7 L313.9,323.3 L313.0,324.5" fill="none" stroke="#3a7ac4" stroke-width="1.0"/>
<path d="M329.8,264.7 L329.4,266.0 L326.9,265.4 L326.6,266.7 L327.2,266.8 L326.8,268.1 L326.7,268.1 L326.3,269.4 L326.0,269.3 L325.6,270.6 L325.4,270.5 L325.0,271.8 L324.3,271.6 L323.9,272.9 L328.0,274.2 L327.5,275.5 L325.8,274.9 L325.4,276.2 L324.8,276.0 L324.3,277.3 L325.1,277.6 L324.6,278.8 L323.7,278.5 L323.2,279.8 L321.5,279.1 L321.0,280.3 L322.1,280.8 L321.6,282.0 L321.2,281.9 L320.7,283.1 L323.9,284.5 L323.4,285.7 L319.8,284.2 L319.2,285.4 L319.5,285.5 L319.0,286.8 L320.0,287.2 L319.5,288.5 L317.8,287.7 L317.2,288.9 L321.3,290.8 L320.7,292.1 L320.1,291.8 L319.5,293.1 L325.7,296.2 L325.1,297.5 L320.1,294.9 L319.5,296.1 L319.3,296.0 L318.7,297.3 L314.2,294.8 L313.5,296.0 L315.9,297.3 L315.2,298.5 L314.4,298.0 L313.7,299.2 L314.7,299.8 L314.0,301.0 L312.2,299.9 L311.5,301.1 L311.5,301.0 L310.8,302.2 L312.7,303.4 L312.0,304.5 L309.6,303.0 L308.9,304.2 L308.8,304.1 L308.1,305.2 L308.3,305.4 L307.6,306.5 L310.1,308.2 L309.4,309.4 L307.3,307.9 L306.5,309.0 L306.9,309.3 L306.1,310.4 L306.0,310.3 L305.2,311.4 L305.4,311.5 L304.6,312.6 L304.2,312.3 L303.4,313.4 L304.1,313.9 L303.2,315.0 L303.3,315.0 L302.5,316.1 L299.5,313.8 A136.0,136.0 0 0 0 324.6,263.4Z" fill="#fdb76b"/>
<path d="M329.8,264.7 L329.4,266.0 L326.9,265.4 L326.6,266.7 L327.2,266.8 L326.8,268.1 L326.7,268.1 L326.3,269.4 L326.0,269.3 L325.6,270.6 L325.4,270.5 L325.0,271.8 L324.3,271.6 L323.9,272.9 L328.0,274.2 L327.5,275.5 L325.8,274.9 L325.4,276.2 L324.8,276.0 L324.3,277.3 L325.1,277.6 L324.6,278.8 L323.7,278.5 L323.2,279.8 L321.5,279.1 L321.0,280.3 L322.1,280.8 L321.6,282.0 L321.2,281.9 L320.7,283.1 L323.9,284.5 L323.4,285.7 L319.8,284.2 L319.2,285.4 L319.5,285.5 L319.0,286.8 L320.0,287.2 L319.5,288.5 L317.8,287.7 L317.2,288.9 L321.3,290.8 L320.7,292.1 L320.1,291.8 L319.5,293.1 L325.7,296.2 L325.1,297.5 L320.1,294.9 L319.5,296.1 L319.3,296.0 L318.7,297.3 L314.2,294.8 L313.5,296.0 L315.9,297.3 L315.2,298.5 L314.4,298.0 L313.7,299.2 L314.7,299.8 L314.0,301.0 L312.2,299.9 L311.5,301.1 L311.5,301.0 L310.8,302.2 L312.7,303.4 L312.0,304.5 L309.6,303.0 L308.9,304.2 L308.8,304.1 L308.1,305.2 L308.3,305.4 L307.6,306.5 L310.1,308.2 L309.4,309.4 L307.3,307.9 L306.5,309.0 L306.9,309.3 L306.1,310.4 L306.0,310.3 L305.2,311.4 L305.4,311.5 L304.6,312.6 L304.2,312.3 L303.4,313.4 L304.1,313.9 L303.2,315.0 L303.3,315.0 L302.5,316.1" fill="none" stroke="#f39322" stroke-width="2.0"/>
<path d="M309.9,326.4 L308.9,327.5 L309.1,327.7 L308.1,328.8 L308.2,328.8 L307.2,329.9 L306.8,329.6 L305.8,330.7 L304.8,329.8 L303.9,330.9 L305.1,332.0 L304.1,333.1 L304.1,333.1 L303.1,334.2 L302.9,334.0 L301.9,335.1 L301.7,334.9 L300.7,336.0 L300.9,336.2 L299.9,337.2 L299.6,336.9 L298.6,338.0 L298.2,337.6 L297.1,338.6 L297.1,338.6 L296.1,339.6 L296.1,339.7 L295.1,340.7 L295.1,340.7 L294.0,341.7 L293.8,341.4 L292.7,342.4 L293.4,343.2 L292.2,344.2 L291.7,343.5 L290.6,344.4 L291.2,345.2 L290.0,346.1 L289.6,345.5 L288.4,346.5 L288.8,347.0 L287.7,347.9 L288.2,348.6 L287.1,349.5 L286.8,349.1 L285.6,350.0 L285.2,349.4 L284.0,350.3 L284.1,350.5 L283.0,351.4 L283.0,351.5 L281.8,352.4 L281.2,351.4 L280.0,352.3 L280.2,352.5 L279.0,353.4 L279.3,353.9 L278.1,354.7 L278.0,354.5 L276.8,355.4 L276.9,355.6 L275.7,356.4 L276.0,356.8 L274.7,357.6 L274.8,357.8 L273.6,358.6 L273.7,358.7 L272.4,359.5 L272.3,359.4 L271.1,360.2 L270.8,359.6 L269.5,360.4" fill="none" stroke="#a6d0f0" stroke-width="2.8"/>
<path d="M309.9,326.4 L308.9,327.5 L309.1,327.7 L308.1,328.8 L308.2,328.8 L307.2,329.9 L306.8,329.6 L305.8,330.7 L304.8,329.8 L303.9,330.9 L305.1,332.0 L304.1,333.1 L304.1,333.1 L303.1,334.2 L302.9,334.0 L301.9,335.1 L301.7,334.9 L300.7,336.0 L300.9,336.2 L299.9,337.2 L299.6,336.9 L298.6,338.0 L298.2,337.6 L297.1,338.6 L297.1,338.6 L296.1,339.6 L296.1,339.7 L295.1,340.7 L295.1,340.7 L294.0,341.7 L293.8,341.4 L292.7,342.4 L293.4,343.2 L292.2,344.2 L291.7,343.5 L290.6,344.4 L291.2,345.2 L290.0,346.1 L289.6,345.5 L288.4,346.5 L288.8,347.0 L287.7,347.9 L288.2,348.6 L287.1,349.5 L286.8,349.1 L285.6,350.0 L285.2,349.4 L284.0,350.3 L284.1,350.5 L283.0,351.4 L283.0,351.5 L281.8,352.4 L281.2,351.4 L280.0,352.3 L280.2,352.5 L279.0,353.4 L279.3,353.9 L278.1,354.7 L278.0,354.5 L276.8,355.4 L276.9,355.6 L275.7,356.4 L276.0,356.8 L274.7,357.6 L274.8,357.8 L273.6,358.6 L273.7,358.7 L272.4,359.5 L272.3,359.4 L271.1,360.2 L270.8,359.6 L269.5,360.4 L261.5,346.7 A136.0,136.0 0 0 0 297.6,316.2Z" fill="#63a0d9"/>
<path d="M309.9,326.4 L308.9,327.5 L309.1,327.7 L308.1,328.8 L308.2,328.8 L307.2,329.9 L306.8,329.6 L305.8,330.7 L304.8,329.8 L303.9,330.9 L305.1,332.0 L304.1,333.1 L304.1,333.1 L303.1,334.2 L302.9,334.0 L301.9,335.1 L301.7,334.9 L300.7,336.0 L300.9,336.2 L299.9,337.2 L299.6,336.9 L298.6,338.0 L298.2,337.6 L297.1,338.6 L297.1,338.6 L296.1,339.6 L296.1,339.7 L295.1,340.7 L295.1,340.7 L294.0,341.7 L293.8,341.4 L292.7,342.4 L293.4,343.2 L292.2,344.2 L291.7,343.5 L290.6,344.4 L291.2,345.2 L290.0,346.1 L289.6,345.5 L288.4,346.5 L288.8,347.0 L287.7,347.9 L288.2,348.6 L287.1,349.5 L286.8,349.1 L285.6,350.0 L285.2,349.4 L284.0,350.3 L284.1,350.5 L283.0,351.4 L283.0,351.5 L281.8,352.4 L281.2,351.4 L280.0,352.3 L280.2,352.5 L279.0,353.4 L279.3,353.9 L278.1,354.7 L278.0,354.5 L276.8,355.4 L276.9,355.6 L275.7,356.4 L276.0,356.8 L274.7,357.6 L274.8,357.8 L273.6,358.6 L273.7,358.7 L272.4,359.5 L272.3,359.4 L271.1,360.2 L270.8,359.6 L269.5,360.4" fill="none" stroke="#3a7ac4" stroke-width="1.0"/>
<path d="M301.8,319.7 L300.9,320.7 L299.5,319.6 L298.7,320.6 L300.2,322.0 L299.3,323.0 L299.4,323.0 L298.5,324.1 L297.9,323.6 L297.0,324.6 L296.8,324.4 L295.9,325.4 L294.5,324.1 L293.5,325.1 L292.7,324.3 L291.8,325.3 L292.2,325.6 L291.2,326.6 L291.5,326.8 L290.5,327.7 L291.0,328.3 L290.1,329.2 L290.5,329.7 L289.6,330.7 L290.4,331.5 L289.4,332.5 L289.7,332.8 L288.7,333.7 L293.0,338.4 L291.9,339.3 L291.0,338.3 L289.9,339.3 L289.2,338.5 L288.1,339.4 L286.8,337.8 L285.7,338.8 L284.9,337.7 L283.8,338.6 L283.6,338.4 L282.6,339.2 L281.8,338.3 L280.7,339.2 L282.6,341.5 L281.5,342.3 L281.1,341.9 L280.0,342.8 L279.1,341.5 L278.0,342.3 L279.9,344.9 L278.8,345.7 L276.9,343.2 L275.8,344.0 L277.0,345.7 L275.9,346.5 L274.5,344.5 L273.4,345.3 L274.2,346.6 L273.1,347.3 L272.4,346.3 L271.2,347.0 L274.7,352.2 L273.5,353.0 L271.5,350.0 L270.3,350.7 L268.2,347.4 L267.1,348.1 L267.1,348.2 L266.0,348.9 L265.9,348.9 L264.8,349.6 L265.3,350.4 L264.1,351.1 L261.5,346.7 A136.0,136.0 0 0 0 297.6,316.2Z" fill="#fdb76b"/>
<path d="M301.8,319.7 L300.9,320.7 L299.5,319.6 L298.7,320.6 L300.2,322.0 L299.3,323.0 L299.4,323.0 L298.5,324.1 L297.9,323.6 L297.0,324.6 L296.8,324.4 L295.9,325.4 L294.5,324.1 L293.5,325.1 L292.7,324.3 L291.8,325.3 L292.2,325.6 L291.2,326.6 L291.5,326.8 L290.5,327.7 L291.0,328.3 L290.1,329.2 L290.5,329.7 L289.6,330.7 L290.4,331.5 L289.4,332.5 L289.7,332.8 L288.7,333.7 L293.0,338.4 L291.9,339.3 L291.0,338.3 L289.9,339.3 L289.2,338.5 L288.1,339.4 L286.8,337.8 L285.7,338.8 L284.9,337.7 L283.8,338.6 L283.6,338.4 L282.6,339.2 L281.8,338.3 L280.7,339.2 L282.6,341.5 L281.5,342.3 L281.1,341.9 L280.0,342.8 L279.1,341.5 L278.0,342.3 L279.9,344.9 L278.8,345.7 L276.9,343.2 L275.8,344.0 L277.0,345.7 L275.9,346.5 L274.5,344.5 L273.4,345.3 L274.2,346.6 L273.1,347.3 L272.4,346.3 L271.2,347.0 L274.7,352.2 L273.5,353.0 L271.5,350.0 L270.3,350.7 L268.2,347.4 L267.1,348.1 L267.1,348.2 L266.0,348.9 L265.9,348.9 L264.8,349.6 L265.3,350.4 L264.1,351.1" fill="none" stroke="#f39322" stroke-width="2.0"/>
<path d="M266.6,362.3 L265.3,363.1 L264.6,361.8 L263.3,362.5 L263.5,362.8 L262.1,363.5 L262.3,363.8 L261.0,364.5 L260.8,364.1 L259.4,364.8 L259.4,364.8 L258.1,365.4 L258.4,366.1 L257.0,366.7 L257.5,367.6 L256.1,368.3 L255.9,367.8 L254.5,368.4 L254.4,368.1 L253.0,368.7 L252.4,367.4 L251.1,368.0 L251.8,369.7 L250.4,370.2 L250.1,369.7 L248.7,370.3 L248.6,370.0 L247.2,370.6 L247.0,369.8 L245.6,370.4 L245.7,370.7 L244.3,371.2 L244.1,370.8 L242.7,371.3 L242.9,371.8 L241.5,372.3 L241.6,372.7 L240.2,373.2 L240.2,373.1 L238.7,373.5 L238.8,373.6 L237.3,374.1 L237.1,373.4 L235.7,373.9 L236.1,375.0 L234.6,375.5 L234.4,374.6 L232.9,375.0 L232.6,373.9 L231.2,374.3 L231.4,375.0 L229.9,375.4 L229.9,375.2 L228.4,375.6 L228.4,375.4 L226.9,375.7 L227.0,376.1 L225.5,376.4 L225.7,376.9 L224.2,377.2" fill="none" stroke="#a6d0f0" stroke-width="2.8"/>
<path d="M266.6,362.3 L265.3,363.1 L264.6,361.8 L263.3,362.5 L263.5,362.8 L262.1,363.5 L262.3,363.8 L261.0,364.5 L260.8,364.1 L259.4,364.8 L259.4,364.8 L258.1,365.4 L258.4,366.1 L257.0,366.7 L257.5,367.6 L256.1,368.3 L255.9,367.8 L254.5,368.4 L254.4,368.1 L253.0,368.7 L252.4,367.4 L251.1,368.0 L251.8,369.7 L250.4,370.2 L250.1,369.7 L248.7,370.3 L248.6,370.0 L247.2,370.6 L247.0,369.8 L245.6,370.4 L245.7,370.7 L244.3,371.2 L244.1,370.8 L242.7,371.3 L242.9,371.8 L241.5,372.3 L241.6,372.7 L240.2,373.2 L240.2,373.1 L238.7,373.5 L238.8,373.6 L237.3,374.1 L237.1,373.4 L235.7,373.9 L236.1,375.0 L234.6,375.5 L234.4,374.6 L232.9,375.0 L232.6,373.9 L231.2,374.3 L231.4,375.0 L229.9,375.4 L229.9,375.2 L228.4,375.6 L228.4,375.4 L226.9,375.7 L227.0,376.1 L225.5,376.4 L225.7,376.9 L224.2,377.2 L221.0,362.3 A136.0,136.0 0 0 0 258.8,348.2Z" fill="#63a0d9"/>
<path d="M266.6,362.3 L265.3,363.1 L264.6,361.8 L263.3,362.5 L263.5,362.8 L262.1,363.5 L262.3,363.8 L261.0,364.5 L260.8,364.1 L259.4,364.8 L259.4,364.8 L258.1,365.4 L258.4,366.1 L257.0,366.7 L257.5,367.6 L256.1,368.3 L255.9,367.8 L254.5,368.4 L254.4,368.1 L253.0,368.7 L252.4,367.4 L251.1,368.0 L251.8,369.7 L250.4,370.2 L250.1,369.7 L248.7,370.3 L248.6,370.0 L247.2,370.6 L247.0,369.8 L245.6,370.4 L245.7,370.7 L244.3,371.2 L244.1,370.8 L242.7,371.3 L242.9,371.8 L241.5,372.3 L241.6,372.7 L240.2,373.2 L240.2,373.1 L238.7,373.5 L238.8,373.6 L237.3,374.1 L237.1,373.4 L235.7,373.9 L236.1,375.0 L234.6,375.5 L234.4,374.6 L232.9,375.0 L232.6,373.9 L231.2,374.3 L231.4,375.0 L229.9,375.4 L229.9,375.2 L228.4,375.6 L228.4,375.4 L226.9,375.7 L227.0,376.1 L225.5,376.4 L225.7,376.9 L224.2,377.2" fill="none" stroke="#3a7ac4" stroke-width="1.0"/>
<path d="M259.7,349.8 L258.5,350.4 L258.5,350.4 L257.3,351.1 L257.8,352.0 L256.5,352.6 L257.2,353.8 L255.9,354.5 L257.5,357.6 L256.3,358.3 L257.2,360.3 L255.9,360.9 L256.1,361.3 L254.8,361.9 L253.1,358.2 L251.8,358.8 L249.9,354.7 L248.7,355.2 L248.7,355.2 L247.4,355.8 L247.7,356.3 L246.4,356.9 L247.4,359.2 L246.1,359.7 L245.6,358.4 L244.3,359.0 L245.3,361.6 L244.0,362.1 L242.8,359.0 L241.5,359.4 L241.1,358.3 L239.8,358.8 L239.8,358.9 L238.6,359.4 L238.5,359.3 L237.2,359.7 L237.4,360.2 L236.1,360.7 L237.0,363.4 L235.7,363.8 L235.4,363.1 L234.1,363.5 L234.1,363.3 L232.7,363.7 L232.9,364.4 L231.6,364.8 L231.3,363.7 L229.9,364.1 L230.0,364.2 L228.6,364.6 L228.1,362.5 L226.7,362.8 L226.7,362.8 L225.4,363.1 L225.7,364.2 L224.3,364.5 L224.4,364.8 L223.1,365.1 L222.8,363.9 L221.5,364.2 L221.0,362.3 A136.0,136.0 0 0 0 258.8,348.2Z" fill="#fdb76b"/>
<path d="M259.7,349.8 L258.5,350.4 L258.5,350.4 L257.3,351.1 L257.8,352.0 L256.5,352.6 L257.2,353.8 L255.9,354.5 L257.5,357.6 L256.3,358.3 L257.2,360.3 L255.9,360.9 L256.1,361.3 L254.8,361.9 L253.1,358.2 L251.8,358.8 L249.9,354.7 L248.7,355.2 L248.7,355.2 L247.4,355.8 L247.7,356.3 L246.4,356.9 L247.4,359.2 L246.1,359.7 L245.6,358.4 L244.3,359.0 L245.3,361.6 L244.0,362.1 L242.8,359.0 L241.5,359.4 L241.1,358.3 L239.8,358.8 L239.8,358.9 L238.6,359.4 L238.5,359.3 L237.2,359.7 L237.4,360.2 L236.1,360.7 L237.0,363.4 L235.7,363.8 L235.4,363.1 L234.1,363.5 L234.1,363.3 L232.7,363.7 L232.9,364.4 L231.6,364.8 L231.3,363.7 L229.9,364.1 L230.0,364.2 L228.6,364.6 L228.1,362.5 L226.7,362.8 L226.7,362.8 L225.4,363.1 L225.7,364.2 L224.3,364.5 L224.4,364.8 L223.1,365.1 L222.8,363.9 L221.5,364.2" fill="none" stroke="#f39322" stroke-width="2.0"/>
<path d="M220.8,377.8 L219.4,378.1 L219.2,377.0 L217.7,377.3 L217.8,377.6 L216.4,377.9 L216.5,378.7 L215.0,378.9 L215.1,379.6 L213.7,379.8 L213.6,379.4 L212.2,379.6 L212.1,378.9 L210.6,379.1 L210.7,379.8 L209.2,379.9 L209.3,380.7 L207.8,380.9 L207.7,379.9 L206.3,380.1 L206.2,378.9 L204.7,379.0 L204.8,380.2 L203.3,380.3 L203.3,379.8 L201.8,379.9 L201.9,380.3 L200.4,380.3 L200.4,380.3 L198.9,380.4 L198.9,381.3 L197.5,381.3 L197.5,381.3 L196.0,381.3 L196.0,381.3 L194.5,381.3 L194.5,379.8 L193.0,379.8 L193.0,379.1 L191.6,379.1 L191.6,380.1 L190.1,380.1 L190.1,379.6 L188.6,379.6 L188.6,380.2 L187.2,380.2 L187.2,379.3 L185.7,379.2 L185.7,380.0 L184.2,379.9 L184.2,380.7 L182.7,380.6 L182.6,381.6 L181.2,381.5 L181.3,379.2 L179.9,379.0 L180.0,378.2 L178.5,378.0 L178.4,379.5 L176.9,379.3 L176.8,379.8 L175.4,379.6 L175.5,378.9 L174.0,378.7 L174.1,378.0 L172.7,377.8 L172.5,379.1 L171.0,378.9" fill="none" stroke="#a6d0f0" stroke-width="2.8"/>
<path d="M220.8,377.8 L219.4,378.1 L219.2,377.0 L217.7,377.3 L217.8,377.6 L216.4,377.9 L216.5,378.7 L215.0,378.9 L215.1,379.6 L213.7,379.8 L213.6,379.4 L212.2,379.6 L212.1,378.9 L210.6,379.1 L210.7,379.8 L209.2,379.9 L209.3,380.7 L207.8,380.9 L207.7,379.9 L206.3,380.1 L206.2,378.9 L204.7,379.0 L204.8,380.2 L203.3,380.3 L203.3,379.8 L201.8,379.9 L201.9,380.3 L200.4,380.3 L200.4,380.3 L198.9,380.4 L198.9,381.3 L197.5,381.3 L197.5,381.3 L196.0,381.3 L196.0,381.3 L194.5,381.3 L194.5,379.8 L193.0,379.8 L193.0,379.1 L191.6,379.1 L191.6,380.1 L190.1,380.1 L190.1,379.6 L188.6,379.6 L188.6,380.2 L187.2,380.2 L187.2,379.3 L185.7,379.2 L185.7,380.0 L184.2,379.9 L184.2,380.7 L182.7,380.6 L182.6,381.6 L181.2,381.5 L181.3,379.2 L179.9,379.0 L180.0,378.2 L178.5,378.0 L178.4,379.5 L176.9,379.3 L176.8,379.8 L175.4,379.6 L175.5,378.9 L174.0,378.7 L174.1,378.0 L172.7,377.8 L172.5,379.1 L171.0,378.9 L173.3,363.8 A136.0,136.0 0 0 0 218.0,362.9Z" fill="#63a0d9"/>
<path d="M220.8,377.8 L219.4,378.1 L219.2,377.0 L217.7,377.3 L217.8,377.6 L216.4,377.9 L216.5,378.7 L215.0,378.9 L215.1,379.6 L213.7,379.8 L213.6,379.4 L212.2,379.6 L212.1,378.9 L210.6,379.1 L210.7,379.8 L209.2,379.9 L209.3,380.7 L207.8,380.9 L207.7,379.9 L206.3,380.1 L206.2,378.9 L204.7,379.0 L204.8,380.2 L203.3,380.3 L203.3,379.8 L201.8,379.9 L201.9,380.3 L200.4,380.3 L200.4,380.3 L198.9,380.4 L198.9,381.3 L197.5,381.3 L197.5,381.3 L196.0,381.3 L196.0,381.3 L194.5,381.3 L194.5,379.8 L193.0,379.8 L193.0,379.1 L191.6,379.1 L191.6,380.1 L190.1,380.1 L190.1,379.6 L188.6,379.6 L188.6,380.2 L187.2,380.2 L187.2,379.3 L185.7,379.2 L185.7,380.0 L184.2,379.9 L184.2,380.7 L182.7,380.6 L182.6,381.6 L181.2,381.5 L181.3,379.2 L179.9,379.0 L180.0,378.2 L178.5,378.0 L178.4,379.5 L176.9,379.3 L176.8,379.8 L175.4,379.6 L175.5,378.9 L174.0,378.7 L174.1,378.0 L172.7,377.8 L172.5,379.1 L171.0,378.9" fill="none" stroke="#3a7ac4" stroke-width="1.0"/>
<path d="M219.9,372.9 L218.5,373.2 L218.8,374.8 L217.4,375.1 L216.3,368.8 L215.0,369.0 L215.8,374.5 L214.4,374.8 L214.0,372.0 L212.6,372.2 L211.8,366.2 L210.5,366.4 L210.5,367.0 L209.2,367.2 L209.1,366.3 L207.8,366.4 L207.8,366.5 L206.4,366.6 L206.5,366.9 L205.1,367.0 L205.1,367.0 L203.8,367.1 L203.7,366.6 L202.4,366.7 L202.4,367.3 L201.1,367.3 L201.2,369.4 L199.9,369.4 L200.2,375.7 L198.7,375.8 L198.7,375.0 L197.3,375.0 L197.2,372.2 L195.8,372.2 L195.8,370.3 L194.4,370.4 L194.4,370.5 L193.0,370.5 L193.0,368.8 L191.7,368.8 L191.7,369.3 L190.3,369.3 L190.3,368.7 L189.0,368.7 L189.0,367.6 L187.6,367.6 L187.6,368.0 L186.3,367.9 L186.3,367.6 L184.9,367.5 L185.0,367.1 L183.6,367.0 L183.5,368.4 L182.2,368.3 L182.2,367.5 L180.9,367.4 L180.8,368.2 L179.5,368.1 L179.5,367.9 L178.1,367.8 L178.1,368.5 L176.7,368.4 L176.2,372.4 L174.8,372.2 L175.0,370.9 L173.6,370.8 L173.6,371.3 L172.2,371.1 L173.3,363.8 A136.0,136.0 0 0 0 218.0,362.9Z" fill="#fdb76b"/>
<path d="M219.9,372.9 L218.5,373.2 L218.8,374.8 L217.4,375.1 L216.3,368.8 L215.0,369.0 L215.8,374.5 L214.4,374.8 L214.0,372.0 L212.6,372.2 L211.8,366.2 L210.5,366.4 L210.5,367.0 L209.2,367.2 L209.1,366.3 L207.8,366.4 L207.8,366.5 L206.4,366.6 L206.5,366.9 L205.1,367.0 L205.1,367.0 L203.8,367.1 L203.7,366.6 L202.4,366.7 L202.4,367.3 L201.1,367.3 L201.2,369.4 L199.9,369.4 L200.2,375.7 L198.7,375.8 L198.7,375.0 L197.3,375.0 L197.2,372.2 L195.8,372.2 L195.8,370.3 L194.4,370.4 L194.4,370.5 L193.0,370.5 L193.0,368.8 L191.7,368.8 L191.7,369.3 L190.3,369.3 L190.3,368.7 L189.0,368.7 L189.0,367.6 L187.6,367.6 L187.6,368.0 L186.3,367.9 L186.3,367.6 L184.9,367.5 L185.0,367.1 L183.6,367.0 L183.5,368.4 L182.2,368.3 L182.2,367.5 L180.9,367.4 L180.8,368.2 L179.5,368.1 L179.5,367.9 L178.1,367.8 L178.1,368.5 L176.7,368.4 L176.2,372.4 L174.8,372.2 L175.0,370.9 L173.6,370.8 L173.6,371.3 L172.2,371.1" fill="none" stroke="#f39322" stroke-width="2.0"/>
<path d="M167.9,376.9 L166.4,376.6 L166.4,376.6 L164.9,376.3 L165.0,376.3 L163.5,376.0 L163.4,376.4 L161.9,376.1 L161.9,376.4 L160.4,376.1 L160.4,376.1 L158.9,375.7 L158.7,376.6 L157.3,376.2 L157.0,377.5 L155.5,377.1 L155.9,375.5 L154.4,375.1 L154.0,376.6 L152.6,376.2 L152.9,375.1 L151.4,374.7 L151.6,374.0 L150.2,373.6 L150.1,373.8 L148.7,373.4 L148.6,373.6 L147.2,373.1 L147.2,372.9 L145.8,372.4 L145.8,372.5 L144.3,372.1 L144.5,371.6 L143.1,371.1 L143.2,370.7 L141.8,370.2 L141.9,369.9 L140.5,369.4 L140.2,370.2 L138.8,369.7 L138.9,369.5 L137.5,369.0 L137.6,368.6 L136.2,368.1" fill="none" stroke="#a6d0f0" stroke-width="2.8"/>
<path d="M167.9,376.9 L166.4,376.6 L166.4,376.6 L164.9,376.3 L165.0,376.3 L163.5,376.0 L163.4,376.4 L161.9,376.1 L161.9,376.4 L160.4,376.1 L160.4,376.1 L158.9,375.7 L158.7,376.6 L157.3,376.2 L157.0,377.5 L155.5,377.1 L155.9,375.5 L154.4,375.1 L154.0,376.6 L152.6,376.2 L152.9,375.1 L151.4,374.7 L151.6,374.0 L150.2,373.6 L150.1,373.8 L148.7,373.4 L148.6,373.6 L147.2,373.1 L147.2,372.9 L145.8,372.4 L145.8,372.5 L144.3,372.1 L144.5,371.6 L143.1,371.1 L143.2,370.7 L141.8,370.2 L141.9,369.9 L140.5,369.4 L140.2,370.2 L138.8,369.7 L138.9,369.5 L137.5,369.0 L137.6,368.6 L136.2,368.1 L141.5,355.1 A136.0,136.0 0 0 0 170.2,363.3Z" fill="#63a0d9"/>
<path d="M167.9,376.9 L166.4,376.6 L166.4,376.6 L164.9,376.3 L165.0,376.3 L163.5,376.0 L163.4,376.4 L161.9,376.1 L161.9,376.4 L160.4,376.1 L160.4,376.1 L158.9,375.7 L158.7,376.6 L157.3,376.2 L157.0,377.5 L155.5,377.1 L155.9,375.5 L154.4,375.1 L154.0,376.6 L152.6,376.2 L152.9,375.1 L151.4,374.7 L151.6,374.0 L150.2,373.6 L150.1,373.8 L148.7,373.4 L148.6,373.6 L147.2,373.1 L147.2,372.9 L145.8,372.4 L145.8,372.5 L144.3,372.1 L144.5,371.6 L143.1,371.1 L143.2,370.7 L141.8,370.2 L141.9,369.9 L140.5,369.4 L140.2,370.2 L138.8,369.7 L138.9,369.5 L137.5,369.0 L137.6,368.6 L136.2,368.1" fill="none" stroke="#3a7ac4" stroke-width="1.0"/>
<path d="M169.4,367.9 L168.0,367.7 L167.4,370.9 L166.0,370.6 L166.0,370.6 L164.6,370.4 L164.9,369.1 L163.5,368.9 L164.1,365.7 L162.8,365.4 L162.6,366.0 L161.3,365.7 L161.4,365.0 L160.1,364.7 L160.1,364.6 L158.7,364.3 L158.4,365.7 L157.0,365.4 L157.0,365.4 L155.7,365.0 L156.0,363.6 L154.7,363.2 L154.6,363.7 L153.2,363.3 L152.8,364.8 L151.4,364.4 L152.4,361.3 L151.0,360.9 L149.9,364.4 L148.6,364.0 L149.0,362.6 L147.7,362.1 L148.3,360.3 L147.0,359.8 L146.2,362.3 L144.8,361.8 L144.3,363.3 L143.0,362.8 L143.0,362.8 L141.6,362.3 L141.7,362.1 L140.4,361.6 L140.5,361.4 L139.1,360.8 L141.5,355.1 A136.0,136.0 0 0 0 170.2,363.3Z" fill="#fdb76b"/>
<path d="M169.4,367.9 L168.0,367.7 L167.4,370.9 L166.0,370.6 L166.0,370.6 L164.6,370.4 L164.9,369.1 L163.5,368.9 L164.1,365.7 L162.8,365.4 L162.6,366.0 L161.3,365.7 L161.4,365.0 L160.1,364.7 L160.1,364.6 L158.7,364.3 L158.4,365.7 L157.0,365.4 L157.0,365.4 L155.7,365.0 L156.0,363.6 L154.7,363.2 L154.6,363.7 L153.2,363.3 L152.8,364.8 L151.4,364.4 L152.4,361.3 L151.0,360.9 L149.9,364.4 L148.6,364.0 L149.0,362.6 L147.7,362.1 L148.3,360.3 L147.0,359.8 L146.2,362.3 L144.8,361.8 L144.3,363.3 L143.0,362.8 L143.0,362.8 L141.6,362.3 L141.7,362.1 L140.4,361.6 L140.5,361.4 L139.1,360.8" fill="none" stroke="#f39322" stroke-width="2.0"/>
<path d="M132.8,367.2 L131.5,366.7 L131.5,366.7 L130.1,366.1 L129.7,366.9 L128.4,366.3 L129.6,363.7 L128.3,363.0 L127.1,365.6 L125.7,364.9 L126.0,364.5 L124.6,363.8 L124.8,363.5 L123.5,362.8 L123.6,362.5 L122.3,361.8" fill="none" stroke="#a6d0f0" stroke-width="2.8"/>
<path d="M132.8,367.2 L131.5,366.7 L131.5,366.7 L130.1,366.1 L129.7,366.9 L128.4,366.3 L129.6,363.7 L128.3,363.0 L127.1,365.6 L125.7,364.9 L126.0,364.5 L124.6,363.8 L124.8,363.5 L123.5,362.8 L123.6,362.5 L122.3,361.8 L129.0,349.2 A136.0,136.0 0 0 0 138.7,353.9Z" fill="#63a0d9"/>
<path d="M132.8,367.2 L131.5,366.7 L131.5,366.7 L130.1,366.1 L129.7,366.9 L128.4,366.3 L129.6,363.7 L128.3,363.0 L127.1,365.6 L125.7,364.9 L126.0,364.5 L124.6,363.8 L124.8,363.5 L123.5,362.8 L123.6,362.5 L122.3,361.8" fill="none" stroke="#3a7ac4" stroke-width="1.0"/>
<path d="M135.2,361.8 L133.9,361.3 L134.2,360.5 L133.0,359.9 L132.8,360.2 L131.5,359.6 L131.6,359.4 L130.3,358.8 L130.7,358.0 L129.5,357.4 L129.0,358.4 L127.7,357.8 L129.0,355.2 L127.8,354.5 L127.4,355.3 L126.2,354.6 L129.0,349.2 A136.0,136.0 0 0 0 138.7,353.9Z" fill="#fdb76b"/>
<path d="M135.2,361.8 L133.9,361.3 L134.2,360.5 L133.0,359.9 L132.8,360.2 L131.5,359.6 L131.6,359.4 L130.3,358.8 L130.7,358.0 L129.5,357.4 L129.0,358.4 L127.7,357.8 L129.0,355.2 L127.8,354.5 L127.4,355.3 L126.2,354.6" fill="none" stroke="#f39322" stroke-width="2.0"/>
<path d="M118.7,361.3 L117.5,360.6 L117.8,360.1 L116.6,359.4 L116.4,359.7 L115.2,359.0 L115.5,358.6 L114.3,357.8" fill="none" stroke="#a6d0f0" stroke-width="2.8"/>
<path d="M118.7,361.3 L117.5,360.6 L117.8,360.1 L116.6,359.4 L116.4,359.7 L115.2,359.0 L115.5,358.6 L114.3,357.8 L122.0,345.2 A136.0,136.0 0 0 0 126.3,347.7Z" fill="#63a0d9"/>
<path d="M118.7,361.3 L117.5,360.6 L117.8,360.1 L116.6,359.4 L116.4,359.7 L115.2,359.0 L115.5,358.6 L114.3,357.8" fill="none" stroke="#3a7ac4" stroke-width="1.0"/>
<path d="M123.4,352.9 L122.3,352.3 L122.5,352.0 L121.3,351.4 L120.5,352.8 L119.4,352.1 L119.8,351.4 L118.7,350.7 L122.0,345.2 A136.0,136.0 0 0 0 126.3,347.7Z" fill="#fdb76b"/>
<path d="M123.4,352.9 L122.3,352.3 L122.5,352.0 L121.3,351.4 L120.5,352.8 L119.4,352.1 L119.8,351.4 L118.7,350.7" fill="none" stroke="#f39322" stroke-width="2.0"/>
<path d="M111.1,356.6 L109.7,355.7 L110.5,354.6 L109.2,353.7 L108.8,354.3 L107.4,353.4 L107.0,354.1 L105.7,353.2" fill="none" stroke="#a6d0f0" stroke-width="2.8"/>
<path d="M111.1,356.6 L109.7,355.7 L110.5,354.6 L109.2,353.7 L108.8,354.3 L107.4,353.4 L107.0,354.1 L105.7,353.2 L114.7,340.4 A136.0,136.0 0 0 0 119.4,343.6Z" fill="#63a0d9"/>
<path d="M111.1,356.6 L109.7,355.7 L110.5,354.6 L109.2,353.7 L108.8,354.3 L107.4,353.4 L107.0,354.1 L105.7,353.2" fill="none" stroke="#3a7ac4" stroke-width="1.0"/>
<path d="M116.0,348.9 L114.7,348.1 L113.8,349.6 L112.5,348.8 L112.9,348.2 L111.7,347.3 L113.1,345.2 L111.9,344.4 L114.7,340.4 A136.0,136.0 0 0 0 119.4,343.6Z" fill="#fdb76b"/>
<path d="M116.0,348.9 L114.7,348.1 L113.8,349.6 L112.5,348.8 L112.9,348.2 L111.7,347.3 L113.1,345.2 L111.9,344.4" fill="none" stroke="#f39322" stroke-width="2.0"/>
<path d="M102.5,351.7 L101.3,350.9 L100.3,352.2 L99.2,351.3 L99.0,351.5 L97.8,350.6 L97.5,351.0 L96.4,350.0 L97.0,349.2 L95.8,348.3 L95.9,348.2 L94.8,347.3 L94.8,347.3 L93.6,346.4 L94.1,345.8 L93.0,344.9 L93.8,344.0 L92.7,343.0 L92.1,343.7 L91.0,342.7 L90.7,343.0 L89.6,342.0 L89.1,342.6 L88.0,341.6 L88.3,341.3 L87.2,340.3 L88.3,339.2 L87.2,338.2 L87.2,338.2 L86.1,337.2 L86.2,337.1 L85.2,336.1 L84.6,336.6 L83.6,335.6 L83.0,336.1 L82.0,335.1 L82.9,334.2 L81.9,333.1 L82.1,332.9 L81.1,331.9 L80.2,332.7 L79.2,331.6 L79.4,331.4 L78.4,330.4 L78.3,330.5 L77.3,329.4 L77.6,329.1 L76.7,328.0 L77.1,327.7 L76.1,326.5 L75.0,327.5 L74.0,326.4 L74.4,326.1 L73.4,325.0 L73.1,325.3 L72.1,324.1 L71.8,324.4 L70.9,323.2 L71.7,322.6 L70.8,321.5 L70.9,321.4 L70.0,320.2 L71.1,319.4 L70.2,318.2 L69.3,318.9 L68.5,317.7 L68.7,317.5 L67.9,316.3 L68.0,316.2 L67.2,315.0 L66.0,315.8 L65.2,314.6 L65.5,314.4 L64.7,313.1 L63.8,313.7 L63.0,312.5 L63.8,311.9 L63.1,310.7 L63.2,310.6 L62.4,309.3 L62.3,309.4 L61.5,308.2 L62.2,307.8 L61.4,306.5 L61.1,306.7 L60.4,305.4 L60.9,305.1 L60.2,303.9 L60.1,303.9 L59.4,302.6 L59.1,302.8 L58.4,301.5 L59.6,300.9 L58.9,299.6 L58.6,299.7 L58.0,298.4 L56.5,299.2 L55.9,297.8 L56.2,297.7 L55.5,296.4 L55.8,296.2 L55.2,294.9 L55.0,295.0 L54.3,293.7 L54.8,293.5 L54.2,292.1 L54.5,292.0 L53.9,290.7 L53.6,290.8 L53.0,289.5 L53.3,289.4 L52.7,288.0 L53.3,287.8 L52.7,286.4 L51.6,286.9 L51.1,285.5 L51.0,285.5 L50.5,284.2 L50.1,284.3 L49.6,282.9 L49.6,282.9 L49.1,281.5 L48.5,281.8 L48.0,280.4 L49.1,280.0 L48.6,278.6 L48.8,278.5 L48.3,277.1 L48.4,277.1 L47.9,275.7 L47.8,275.8 L47.4,274.4 L46.3,274.7 L45.9,273.3 L45.1,273.5 L44.7,272.1 L45.9,271.8 L45.5,270.4 L46.0,270.2 L45.6,268.8 L45.7,268.8 L45.3,267.3 L44.1,267.7 L43.7,266.2 L44.5,266.0 L44.2,264.6 L44.5,264.5 L44.2,263.1 L43.9,263.2 L43.6,261.7 L43.2,261.8 L42.9,260.4 L43.2,260.3 L42.9,258.9 L42.5,258.9 L42.3,257.5 L42.6,257.4 L42.3,256.0 L42.1,256.0 L41.9,254.6 L42.7,254.4 L42.5,253.0 L42.0,253.1 L41.7,251.6 L42.4,251.5 L42.2,250.1 L41.8,250.1 L41.7,248.7 L40.3,248.8 L40.1,247.4 L41.0,247.3 L40.8,245.8 L40.4,245.9 L40.3,244.4 L41.3,244.3 L41.1,242.8 L41.4,242.8 L41.3,241.4 L40.5,241.4 L40.4,240.0 L41.2,239.9 L41.1,238.4 L39.9,238.5 L39.8,237.0 L40.8,237.0 L40.7,235.5 L40.0,235.6 L39.9,234.1 L40.0,234.1 L39.9,232.6 L39.6,232.6 L39.6,231.2 L40.6,231.1 L40.6,229.7 L39.7,229.7 L39.7,228.2 L40.0,228.2 L40.0,226.7 L40.5,226.7 L40.5,225.3 L39.8,225.3 L39.9,223.8 L39.9,223.8 L40.0,222.3 L40.6,222.4 L40.6,220.9 L41.3,220.9 L41.4,219.5 L40.4,219.4 L40.5,217.9 L40.7,218.0 L40.8,216.5 L40.2,216.4 L40.3,215.0 L39.7,214.9 L39.9,213.5 L39.3,213.4 L39.4,211.9 L40.3,212.0 L40.5,210.5 L42.0,210.7 L42.2,209.3 L41.7,209.2 L41.9,207.8 L41.3,207.7 L41.5,206.2 L40.1,206.0 L40.3,204.5 L42.7,204.9 L42.9,203.5 L41.4,203.2 L41.7,201.8 L40.8,201.6 L41.1,200.2 L41.9,200.3 L42.2,198.9 L43.5,199.1 L43.8,197.7 L43.3,197.6 L43.7,196.2 L44.4,196.3 L44.7,194.9 L45.0,195.0 L45.3,193.5 L44.8,193.4 L45.2,192.0 L45.4,192.1 L45.8,190.6 L45.2,190.5 L45.6,189.1 L45.2,189.0 L45.6,187.6 L46.7,187.9 L47.1,186.5 L46.0,186.1 L46.4,184.7 L46.6,184.8 L47.0,183.4 L46.4,183.2 L46.9,181.8 L47.0,181.8 L47.5,180.4 L48.1,180.7 L48.6,179.3 L49.8,179.7 L50.3,178.3 L49.5,178.0 L50.0,176.6 L49.6,176.5 L50.1,175.1 L50.6,175.3 L51.1,173.9 L50.2,173.6 L50.7,172.2 L51.4,172.5 L52.0,171.1 L51.8,171.1 L52.4,169.7 L51.6,169.4 L52.2,168.0 L52.3,168.1 L52.9,166.7 L53.6,167.0 L54.2,165.7 L54.0,165.6 L54.7,164.3 L54.3,164.1 L54.9,162.8 L55.5,163.1 L56.1,161.8 L56.3,161.8 L56.9,160.5 L56.6,160.4 L57.3,159.1 L57.1,159.0 L57.8,157.7 L57.5,157.5 L58.2,156.2 L58.2,156.2 L58.9,154.9 L59.5,155.3 L60.2,154.0 L60.5,154.1 L61.2,152.9 L61.1,152.8 L61.8,151.5 L61.3,151.2 L62.1,150.0 L63.2,150.6 L63.9,149.4 L63.2,148.9 L64.0,147.7 L62.5,146.8 L63.3,145.5 L65.1,146.7 L65.9,145.5 L65.4,145.1 L66.3,143.9 L66.5,144.1 L67.4,142.9 L66.6,142.4 L67.5,141.2 L67.2,141.0 L68.1,139.8 L68.2,139.9 L69.0,138.7 L68.9,138.6 L69.8,137.4 L70.0,137.6 L70.9,136.4 L71.3,136.7 L72.2,135.5 L72.3,135.6 L73.2,134.4 L72.8,134.1 L73.7,133.0 L72.9,132.3 L73.8,131.2 L75.1,132.2 L76.0,131.1 L76.1,131.2 L77.1,130.1 L76.6,129.6 L77.5,128.5 L76.6,127.7 L77.5,126.6 L78.3,127.2 L79.3,126.1 L79.3,126.2 L80.3,125.1 L81.1,125.8 L82.1,124.7 L81.6,124.3 L82.6,123.2 L82.8,123.4 L83.8,122.3 L83.9,122.4 L84.9,121.3 L84.5,121.0 L85.6,119.9 L86.0,120.4 L87.1,119.4 L86.5,118.7 L87.5,117.7 L87.8,117.9 L88.8,116.9 L88.8,116.9 L89.9,115.9 L89.9,116.0 L91.0,115.0 L91.5,115.6 L92.6,114.6 L91.9,113.7 L93.0,112.8 L94.0,113.9 L95.1,113.0 L94.6,112.4 L95.7,111.5 L95.0,110.5 L96.1,109.6 L97.0,110.7 L98.1,109.8 L98.5,110.2 L99.7,109.3 L99.9,109.7 L101.1,108.8 L100.5,108.1 L101.7,107.2 L101.6,107.1 L102.8,106.2 L102.7,106.1 L103.9,105.3 L103.5,104.7 L104.7,103.9 L104.1,103.0 L105.3,102.2 L105.4,102.3 L106.6,101.4 L107.3,102.4 L108.5,101.6 L108.5,101.6 L109.8,100.8 L109.6,100.5 L110.8,99.7 L111.2,100.3 L112.4,99.6 L112.3,99.3 L113.5,98.5 L113.0,97.6 L114.2,96.9 L114.2,96.8 L115.5,96.0 L115.2,95.5 L116.4,94.7 L116.9,95.5 L118.2,94.8 L118.5,95.3 L119.8,94.6 L119.9,94.9 L121.2,94.2 L121.2,94.2 L122.5,93.5 L122.3,93.1 L123.6,92.4 L123.8,92.9 L125.1,92.2 L125.6,93.1 L126.9,92.4 L126.6,91.9 L127.9,91.2 L127.8,90.9 L129.1,90.3 L129.4,90.9 L130.7,90.3 L130.3,89.4 L131.7,88.8 L131.6,88.6 L132.9,88.1 L132.9,87.9 L134.2,87.3 L134.4,87.7 L135.7,87.1 L135.8,87.2 L137.1,86.7 L137.5,87.5 L138.8,87.0 L138.9,87.3 L140.3,86.8 L139.9,85.8 L141.3,85.3 L141.5,85.8 L142.9,85.3 L142.7,84.8 L144.1,84.3 L144.2,84.7 L145.6,84.3 L145.4,83.6 L146.8,83.1 L147.0,83.7 L148.4,83.3 L148.2,82.6 L149.6,82.2 L149.5,81.9 L150.9,81.5 L151.4,83.1 L152.8,82.7 L152.4,81.5 L153.9,81.1 L154.0,81.7 L155.4,81.3 L155.1,80.1 L156.6,79.7 L156.8,80.9 L158.3,80.5 L158.1,79.7 L159.5,79.3 L159.4,78.7 L160.8,78.4 L160.8,78.4 L162.3,78.1" fill="none" stroke="#a6d0f0" stroke-width="2.8"/>
<path d="M102.5,351.7 L101.3,350.9 L100.3,352.2 L99.2,351.3 L99.0,351.5 L97.8,350.6 L97.5,351.0 L96.4,350.0 L97.0,349.2 L95.8,348.3 L95.9,348.2 L94.8,347.3 L94.8,347.3 L93.6,346.4 L94.1,345.8 L93.0,344.9 L93.8,344.0 L92.7,343.0 L92.1,343.7 L91.0,342.7 L90.7,343.0 L89.6,342.0 L89.1,342.6 L88.0,341.6 L88.3,341.3 L87.2,340.3 L88.3,339.2 L87.2,338.2 L87.2,338.2 L86.1,337.2 L86.2,337.1 L85.2,336.1 L84.6,336.6 L83.6,335.6 L83.0,336.1 L82.0,335.1 L82.9,334.2 L81.9,333.1 L82.1,332.9 L81.1,331.9 L80.2,332.7 L79.2,331.6 L79.4,331.4 L78.4,330.4 L78.3,330.5 L77.3,329.4 L77.6,329.1 L76.7,328.0 L77.1,327.7 L76.1,326.5 L75.0,327.5 L74.0,326.4 L74.4,326.1 L73.4,325.0 L73.1,325.3 L72.1,324.1 L71.8,324.4 L70.9,323.2 L71.7,322.6 L70.8,321.5 L70.9,321.4 L70.0,320.2 L71.1,319.4 L70.2,318.2 L69.3,318.9 L68.5,317.7 L68.7,317.5 L67.9,316.3 L68.0,316.2 L67.2,315.0 L66.0,315.8 L65.2,314.6 L65.5,314.4 L64.7,313.1 L63.8,313.7 L63.0,312.5 L63.8,311.9 L63.1,310.7 L63.2,310.6 L62.4,309.3 L62.3,309.4 L61.5,308.2 L62.2,307.8 L61.4,306.5 L61.1,306.7 L60.4,305.4 L60.9,305.1 L60.2,303.9 L60.1,303.9 L59.4,302.6 L59.1,302.8 L58.4,301.5 L59.6,300.9 L58.9,299.6 L58.6,299.7 L58.0,298.4 L56.5,299.2 L55.9,297.8 L56.2,297.7 L55.5,296.4 L55.8,296.2 L55.2,294.9 L55.0,295.0 L54.3,293.7 L54.8,293.5 L54.2,292.1 L54.5,292.0 L53.9,290.7 L53.6,290.8 L53.0,289.5 L53.3,289.4 L52.7,288.0 L53.3,287.8 L52.7,286.4 L51.6,286.9 L51.1,285.5 L51.0,285.5 L50.5,284.2 L50.1,284.3 L49.6,282.9 L49.6,282.9 L49.1,281.5 L48.5,281.8 L48.0,280.4 L49.1,280.0 L48.6,278.6 L48.8,278.5 L48.3,277.1 L48.4,277.1 L47.9,275.7 L47.8,275.8 L47.4,274.4 L46.3,274.7 L45.9,273.3 L45.1,273.5 L44.7,272.1 L45.9,271.8 L45.5,270.4 L46.0,270.2 L45.6,268.8 L45.7,268.8 L45.3,267.3 L44.1,267.7 L43.7,266.2 L44.5,266.0 L44.2,264.6 L44.5,264.5 L44.2,263.1 L43.9,263.2 L43.6,261.7 L43.2,261.8 L42.9,260.4 L43.2,260.3 L42.9,258.9 L42.5,258.9 L42.3,257.5 L42.6,257.4 L42.3,256.0 L42.1,256.0 L41.9,254.6 L42.7,254.4 L42.5,253.0 L42.0,253.1 L41.7,251.6 L42.4,251.5 L42.2,250.1 L41.8,250.1 L41.7,248.7 L40.3,248.8 L40.1,247.4 L41.0,247.3 L40.8,245.8 L40.4,245.9 L40.3,244.4 L41.3,244.3 L41.1,242.8 L41.4,242.8 L41.3,241.4 L40.5,241.4 L40.4,240.0 L41.2,239.9 L41.1,238.4 L39.9,238.5 L39.8,237.0 L40.8,237.0 L40.7,235.5 L40.0,235.6 L39.9,234.1 L40.0,234.1 L39.9,232.6 L39.6,232.6 L39.6,231.2 L40.6,231.1 L40.6,229.7 L39.7,229.7 L39.7,228.2 L40.0,228.2 L40.0,226.7 L40.5,226.7 L40.5,225.3 L39.8,225.3 L39.9,223.8 L39.9,223.8 L40.0,222.3 L40.6,222.4 L40.6,220.9 L41.3,220.9 L41.4,219.5 L40.4,219.4 L40.5,217.9 L40.7,218.0 L40.8,216.5 L40.2,216.4 L40.3,215.0 L39.7,214.9 L39.9,213.5 L39.3,213.4 L39.4,211.9 L40.3,212.0 L40.5,210.5 L42.0,210.7 L42.2,209.3 L41.7,209.2 L41.9,207.8 L41.3,207.7 L41.5,206.2 L40.1,206.0 L40.3,204.5 L42.7,204.9 L42.9,203.5 L41.4,203.2 L41.7,201.8 L40.8,201.6 L41.1,200.2 L41.9,200.3 L42.2,198.9 L43.5,199.1 L43.8,197.7 L43.3,197.6 L43.7,196.2 L44.4,196.3 L44.7,194.9 L45.0,195.0 L45.3,193.5 L44.8,193.4 L45.2,192.0 L45.4,192.1 L45.8,190.6 L45.2,190.5 L45.6,189.1 L45.2,189.0 L45.6,187.6 L46.7,187.9 L47.1,186.5 L46.0,186.1 L46.4,184.7 L46.6,184.8 L47.0,183.4 L46.4,183.2 L46.9,181.8 L47.0,181.8 L47.5,180.4 L48.1,180.7 L48.6,179.3 L49.8,179.7 L50.3,178.3 L49.5,178.0 L50.0,176.6 L49.6,176.5 L50.1,175.1 L50.6,175.3 L51.1,173.9 L50.2,173.6 L50.7,172.2 L51.4,172.5 L52.0,171.1 L51.8,171.1 L52.4,169.7 L51.6,169.4 L52.2,168.0 L52.3,168.1 L52.9,166.7 L53.6,167.0 L54.2,165.7 L54.0,165.6 L54.7,164.3 L54.3,164.1 L54.9,162.8 L55.5,163.1 L56.1,161.8 L56.3,161.8 L56.9,160.5 L56.6,160.4 L57.3,159.1 L57.1,159.0 L57.8,157.7 L57.5,157.5 L58.2,156.2 L58.2,156.2 L58.9,154.9 L59.5,155.3 L60.2,154.0 L60.5,154.1 L61.2,152.9 L61.1,152.8 L61.8,151.5 L61.3,151.2 L62.1,150.0 L63.2,150.6 L63.9,149.4 L63.2,148.9 L64.0,147.7 L62.5,146.8 L63.3,145.5 L65.1,146.7 L65.9,145.5 L65.4,145.1 L66.3,143.9 L66.5,144.1 L67.4,142.9 L66.6,142.4 L67.5,141.2 L67.2,141.0 L68.1,139.8 L68.2,139.9 L69.0,138.7 L68.9,138.6 L69.8,137.4 L70.0,137.6 L70.9,136.4 L71.3,136.7 L72.2,135.5 L72.3,135.6 L73.2,134.4 L72.8,134.1 L73.7,133.0 L72.9,132.3 L73.8,131.2 L75.1,132.2 L76.0,131.1 L76.1,131.2 L77.1,130.1 L76.6,129.6 L77.5,128.5 L76.6,127.7 L77.5,126.6 L78.3,127.2 L79.3,126.1 L79.3,126.2 L80.3,125.1 L81.1,125.8 L82.1,124.7 L81.6,124.3 L82.6,123.2 L82.8,123.4 L83.8,122.3 L83.9,122.4 L84.9,121.3 L84.5,121.0 L85.6,119.9 L86.0,120.4 L87.1,119.4 L86.5,118.7 L87.5,117.7 L87.8,117.9 L88.8,116.9 L88.8,116.9 L89.9,115.9 L89.9,116.0 L91.0,115.0 L91.5,115.6 L92.6,114.6 L91.9,113.7 L93.0,112.8 L94.0,113.9 L95.1,113.0 L94.6,112.4 L95.7,111.5 L95.0,110.5 L96.1,109.6 L97.0,110.7 L98.1,109.8 L98.5,110.2 L99.7,109.3 L99.9,109.7 L101.1,108.8 L100.5,108.1 L101.7,107.2 L101.6,107.1 L102.8,106.2 L102.7,106.1 L103.9,105.3 L103.5,104.7 L104.7,103.9 L104.1,103.0 L105.3,102.2 L105.4,102.3 L106.6,101.4 L107.3,102.4 L108.5,101.6 L108.5,101.6 L109.8,100.8 L109.6,100.5 L110.8,99.7 L111.2,100.3 L112.4,99.6 L112.3,99.3 L113.5,98.5 L113.0,97.6 L114.2,96.9 L114.2,96.8 L115.5,96.0 L115.2,95.5 L116.4,94.7 L116.9,95.5 L118.2,94.8 L118.5,95.3 L119.8,94.6 L119.9,94.9 L121.2,94.2 L121.2,94.2 L122.5,93.5 L122.3,93.1 L123.6,92.4 L123.8,92.9 L125.1,92.2 L125.6,93.1 L126.9,92.4 L126.6,91.9 L127.9,91.2 L127.8,90.9 L129.1,90.3 L129.4,90.9 L130.7,90.3 L130.3,89.4 L131.7,88.8 L131.6,88.6 L132.9,88.1 L132.9,87.9 L134.2,87.3 L134.4,87.7 L135.7,87.1 L135.8,87.2 L137.1,86.7 L137.5,87.5 L138.8,87.0 L138.9,87.3 L140.3,86.8 L139.9,85.8 L141.3,85.3 L141.5,85.8 L142.9,85.3 L142.7,84.8 L144.1,84.3 L144.2,84.7 L145.6,84.3 L145.4,83.6 L146.8,83.1 L147.0,83.7 L148.4,83.3 L148.2,82.6 L149.6,82.2 L149.5,81.9 L150.9,81.5 L151.4,83.1 L152.8,82.7 L152.4,81.5 L153.9,81.1 L154.0,81.7 L155.4,81.3 L155.1,80.1 L156.6,79.7 L156.8,80.9 L158.3,80.5 L158.1,79.7 L159.5,79.3 L159.4,78.7 L160.8,78.4 L160.8,78.4 L162.3,78.1 L165.9,95.9 A136.0,136.0 0 0 0 112.2,338.6Z" fill="#63a0d9"/>
<path d="M102.5,351.7 L101.3,350.9 L100.3,352.2 L99.2,351.3 L99.0,351.5 L97.8,350.6 L97.5,351.0 L96.4,350.0 L97.0,349.2 L95.8,348.3 L95.9,348.2 L94.8,347.3 L94.8,347.3 L93.6,346.4 L94.1,345.8 L93.0,344.9 L93.8,344.0 L92.7,343.0 L92.1,343.7 L91.0,342.7 L90.7,343.0 L89.6,342.0 L89.1,342.6 L88.0,341.6 L88.3,341.3 L87.2,340.3 L88.3,339.2 L87.2,338.2 L87.2,338.2 L86.1,337.2 L86.2,337.1 L85.2,336.1 L84.6,336.6 L83.6,335.6 L83.0,336.1 L82.0,335.1 L82.9,334.2 L81.9,333.1 L82.1,332.9 L81.1,331.9 L80.2,332.7 L79.2,331.6 L79.4,331.4 L78.4,330.4 L78.3,330.5 L77.3,329.4 L77.6,329.1 L76.7,328.0 L77.1,327.7 L76.1,326.5 L75.0,327.5 L74.0,326.4 L74.4,326.1 L73.4,325.0 L73.1,325.3 L72.1,324.1 L71.8,324.4 L70.9,323.2 L71.7,322.6 L70.8,321.5 L70.9,321.4 L70.0,320.2 L71.1,319.4 L70.2,318.2 L69.3,318.9 L68.5,317.7 L68.7,317.5 L67.9,316.3 L68.0,316.2 L67.2,315.0 L66.0,315.8 L65.2,314.6 L65.5,314.4 L64.7,313.1 L63.8,313.7 L63.0,312.5 L63.8,311.9 L63.1,310.7 L63.2,310.6 L62.4,309.3 L62.3,309.4 L61.5,308.2 L62.2,307.8 L61.4,306.5 L61.1,306.7 L60.4,305.4 L60.9,305.1 L60.2,303.9 L60.1,303.9 L59.4,302.6 L59.1,302.8 L58.4,301.5 L59.6,300.9 L58.9,299.6 L58.6,299.7 L58.0,298.4 L56.5,299.2 L55.9,297.8 L56.2,297.7 L55.5,296.4 L55.8,296.2 L55.2,294.9 L55.0,295.0 L54.3,293.7 L54.8,293.5 L54.2,292.1 L54.5,292.0 L53.9,290.7 L53.6,290.8 L53.0,289.5 L53.3,289.4 L52.7,288.0 L53.3,287.8 L52.7,286.4 L51.6,286.9 L51.1,285.5 L51.0,285.5 L50.5,284.2 L50.1,284.3 L49.6,282.9 L49.6,282.9 L49.1,281.5 L48.5,281.8 L48.0,280.4 L49.1,280.0 L48.6,278.6 L48.8,278.5 L48.3,277.1 L48.4,277.1 L47.9,275.7 L47.8,275.8 L47.4,274.4 L46.3,274.7 L45.9,273.3 L45.1,273.5 L44.7,272.1 L45.9,271.8 L45.5,270.4 L46.0,270.2 L45.6,268.8 L45.7,268.8 L45.3,267.3 L44.1,267.7 L43.7,266.2 L44.5,266.0 L44.2,264.6 L44.5,264.5 L44.2,263.1 L43.9,263.2 L43.6,261.7 L43.2,261.8 L42.9,260.4 L43.2,260.3 L42.9,258.9 L42.5,258.9 L42.3,257.5 L42.6,257.4 L42.3,256.0 L42.1,256.0 L41.9,254.6 L42.7,254.4 L42.5,253.0 L42.0,253.1 L41.7,251.6 L42.4,251.5 L42.2,250.1 L41.8,250.1 L41.7,248.7 L40.3,248.8 L40.1,247.4 L41.0,247.3 L40.8,245.8 L40.4,245.9 L40.3,244.4 L41.3,244.3 L41.1,242.8 L41.4,242.8 L41.3,241.4 L40.5,241.4 L40.4,240.0 L41.2,239.9 L41.1,238.4 L39.9,238.5 L39.8,237.0 L40.8,237.0 L40.7,235.5 L40.0,235.6 L39.9,234.1 L40.0,234.1 L39.9,232.6 L39.6,232.6 L39.6,231.2 L40.6,231.1 L40.6,229.7 L39.7,229.7 L39.7,228.2 L40.0,228.2 L40.0,226.7 L40.5,226.7 L40.5,225.3 L39.8,225.3 L39.9,223.8 L39.9,223.8 L40.0,222.3 L40.6,222.4 L40.6,220.9 L41.3,220.9 L41.4,219.5 L40.4,219.4 L40.5,217.9 L40.7,218.0 L40.8,216.5 L40.2,216.4 L40.3,215.0 L39.7,214.9 L39.9,213.5 L39.3,213.4 L39.4,211.9 L40.3,212.0 L40.5,210.5 L42.0,210.7 L42.2,209.3 L41.7,209.2 L41.9,207.8 L41.3,207.7 L41.5,206.2 L40.1,206.0 L40.3,204.5 L42.7,204.9 L42.9,203.5 L41.4,203.2 L41.7,201.8 L40.8,201.6 L41.1,200.2 L41.9,200.3 L42.2,198.9 L43.5,199.1 L43.8,197.7 L43.3,197.6 L43.7,196.2 L44.4,196.3 L44.7,194.9 L45.0,195.0 L45.3,193.5 L44.8,193.4 L45.2,192.0 L45.4,192.1 L45.8,190.6 L45.2,190.5 L45.6,189.1 L45.2,189.0 L45.6,187.6 L46.7,187.9 L47.1,186.5 L46.0,186.1 L46.4,184.7 L46.6,184.8 L47.0,183.4 L46.4,183.2 L46.9,181.8 L47.0,181.8 L47.5,180.4 L48.1,180.7 L48.6,179.3 L49.8,179.7 L50.3,178.3 L49.5,178.0 L50.0,176.6 L49.6,176.5 L50.1,175.1 L50.6,175.3 L51.1,173.9 L50.2,173.6 L50.7,172.2 L51.4,172.5 L52.0,171.1 L51.8,171.1 L52.4,169.7 L51.6,169.4 L52.2,168.0 L52.3,168.1 L52.9,166.7 L53.6,167.0 L54.2,165.7 L54.0,165.6 L54.7,164.3 L54.3,164.1 L54.9,162.8 L55.5,163.1 L56.1,161.8 L56.3,161.8 L56.9,160.5 L56.6,160.4 L57.3,159.1 L57.1,159.0 L57.8,157.7 L57.5,157.5 L58.2,156.2 L58.2,156.2 L58.9,154.9 L59.5,155.3 L60.2,154.0 L60.5,154.1 L61.2,152.9 L61.1,152.8 L61.8,151.5 L61.3,151.2 L62.1,150.0 L63.2,150.6 L63.9,149.4 L63.2,148.9 L64.0,147.7 L62.5,146.8 L63.3,145.5 L65.1,146.7 L65.9,145.5 L65.4,145.1 L66.3,143.9 L66.5,144.1 L67.4,142.9 L66.6,142.4 L67.5,141.2 L67.2,141.0 L68.1,139.8 L68.2,139.9 L69.0,138.7 L68.9,138.6 L69.8,137.4 L70.0,137.6 L70.9,136.4 L71.3,136.7 L72.2,135.5 L72.3,135.6 L73.2,134.4 L72.8,134.1 L73.7,133.0 L72.9,132.3 L73.8,131.2 L75.1,132.2 L76.0,131.1 L76.1,131.2 L77.1,130.1 L76.6,129.6 L77.5,128.5 L76.6,127.7 L77.5,126.6 L78.3,127.2 L79.3,126.1 L79.3,126.2 L80.3,125.1 L81.1,125.8 L82.1,124.7 L81.6,124.3 L82.6,123.2 L82.8,123.4 L83.8,122.3 L83.9,122.4 L84.9,121.3 L84.5,121.0 L85.6,119.9 L86.0,120.4 L87.1,119.4 L86.5,118.7 L87.5,117.7 L87.8,117.9 L88.8,116.9 L88.8,116.9 L89.9,115.9 L89.9,116.0 L91.0,115.0 L91.5,115.6 L92.6,114.6 L91.9,113.7 L93.0,112.8 L94.0,113.9 L95.1,113.0 L94.6,112.4 L95.7,111.5 L95.0,110.5 L96.1,109.6 L97.0,110.7 L98.1,109.8 L98.5,110.2 L99.7,109.3 L99.9,109.7 L101.1,108.8 L100.5,108.1 L101.7,107.2 L101.6,107.1 L102.8,106.2 L102.7,106.1 L103.9,105.3 L103.5,104.7 L104.7,103.9 L104.1,103.0 L105.3,102.2 L105.4,102.3 L106.6,101.4 L107.3,102.4 L108.5,101.6 L108.5,101.6 L109.8,100.8 L109.6,100.5 L110.8,99.7 L111.2,100.3 L112.4,99.6 L112.3,99.3 L113.5,98.5 L113.0,97.6 L114.2,96.9 L114.2,96.8 L115.5,96.0 L115.2,95.5 L116.4,94.7 L116.9,95.5 L118.2,94.8 L118.5,95.3 L119.8,94.6 L119.9,94.9 L121.2,94.2 L121.2,94.2 L122.5,93.5 L122.3,93.1 L123.6,92.4 L123.8,92.9 L125.1,92.2 L125.6,93.1 L126.9,92.4 L126.6,91.9 L127.9,91.2 L127.8,90.9 L129.1,90.3 L129.4,90.9 L130.7,90.3 L130.3,89.4 L131.7,88.8 L131.6,88.6 L132.9,88.1 L132.9,87.9 L134.2,87.3 L134.4,87.7 L135.7,87.1 L135.8,87.2 L137.1,86.7 L137.5,87.5 L138.8,87.0 L138.9,87.3 L140.3,86.8 L139.9,85.8 L141.3,85.3 L141.5,85.8 L142.9,85.3 L142.7,84.8 L144.1,84.3 L144.2,84.7 L145.6,84.3 L145.4,83.6 L146.8,83.1 L147.0,83.7 L148.4,83.3 L148.2,82.6 L149.6,82.2 L149.5,81.9 L150.9,81.5 L151.4,83.1 L152.8,82.7 L152.4,81.5 L153.9,81.1 L154.0,81.7 L155.4,81.3 L155.1,80.1 L156.6,79.7 L156.8,80.9 L158.3,80.5 L158.1,79.7 L159.5,79.3 L159.4,78.7 L160.8,78.4 L160.8,78.4 L162.3,78.1" fill="none" stroke="#3a7ac4" stroke-width="1.0"/>
<path d="M108.7,343.3 L107.6,342.5 L108.5,341.4 L107.4,340.6 L106.6,341.6 L105.6,340.7 L105.5,340.8 L104.4,340.0 L104.7,339.6 L103.6,338.8 L103.4,339.1 L102.3,338.2 L102.9,337.5 L101.9,336.6 L102.7,335.7 L101.7,334.8 L100.9,335.8 L99.8,334.9 L99.6,335.1 L98.6,334.2 L97.6,335.3 L96.6,334.4 L96.6,334.4 L95.6,333.5 L95.8,333.2 L94.9,332.3 L96.4,330.7 L95.4,329.7 L93.5,331.7 L92.5,330.7 L92.5,330.7 L91.6,329.7 L92.5,328.8 L91.5,327.9 L92.3,327.1 L91.3,326.2 L91.1,326.4 L90.1,325.4 L91.2,324.5 L90.3,323.5 L90.4,323.4 L89.5,322.4 L88.9,322.9 L88.0,321.9 L88.1,321.8 L87.2,320.8 L85.9,321.9 L85.0,320.9 L84.7,321.2 L83.8,320.2 L79.8,323.5 L78.9,322.4 L79.9,321.6 L79.0,320.5 L84.1,316.4 L83.3,315.4 L83.2,315.4 L82.4,314.4 L82.3,314.4 L81.5,313.4 L80.4,314.2 L79.6,313.1 L80.9,312.1 L80.1,311.0 L79.1,311.8 L78.3,310.7 L78.4,310.6 L77.6,309.5 L76.9,310.0 L76.1,308.9 L76.0,309.0 L75.2,307.9 L75.4,307.7 L74.7,306.6 L75.9,305.8 L75.1,304.7 L74.5,305.1 L73.8,304.0 L74.0,303.8 L73.3,302.7 L72.9,302.9 L72.2,301.8 L73.1,301.2 L72.4,300.1 L71.3,300.7 L70.6,299.6 L69.6,300.2 L68.9,299.0 L71.0,297.8 L70.3,296.6 L70.3,296.6 L69.7,295.5 L69.0,295.8 L68.4,294.6 L65.7,296.0 L65.1,294.8 L67.2,293.7 L66.6,292.5 L66.2,292.7 L65.6,291.4 L66.0,291.3 L65.4,290.0 L64.6,290.4 L64.0,289.2 L65.4,288.5 L64.8,287.3 L64.4,287.5 L63.9,286.3 L62.9,286.7 L62.4,285.4 L62.4,285.4 L61.8,284.2 L64.0,283.2 L63.5,282.0 L63.4,282.1 L62.9,280.8 L62.9,280.8 L62.4,279.5 L54.2,282.7 L53.7,281.4 L55.3,280.8 L54.8,279.5 L57.1,278.6 L56.6,277.3 L59.6,276.3 L59.1,275.0 L60.5,274.5 L60.1,273.3 L60.0,273.3 L59.6,272.0 L58.4,272.4 L58.0,271.1 L58.9,270.8 L58.5,269.5 L59.6,269.2 L59.2,267.9 L58.0,268.2 L57.7,266.9 L56.6,267.2 L56.2,265.9 L54.0,266.5 L53.7,265.2 L55.3,264.8 L54.9,263.5 L54.4,263.6 L54.1,262.3 L46.7,264.0 L46.4,262.6 L49.1,262.0 L48.8,260.6 L51.5,260.0 L51.2,258.7 L55.0,257.9 L54.8,256.5 L53.3,256.8 L53.0,255.5 L54.1,255.3 L53.9,253.9 L55.0,253.7 L54.8,252.4 L54.8,252.4 L54.5,251.1 L51.8,251.5 L51.6,250.2 L52.1,250.1 L51.9,248.7 L44.6,249.7 L44.4,248.3 L43.9,248.4 L43.7,247.0 L48.0,246.4 L47.8,245.1 L48.2,245.0 L48.0,243.6 L54.1,243.0 L54.0,241.7 L54.4,241.6 L54.3,240.3 L54.0,240.3 L53.9,239.0 L53.8,239.0 L53.7,237.7 L52.6,237.7 L52.5,236.4 L51.2,236.5 L51.2,235.1 L50.1,235.1 L50.1,233.8 L50.5,233.8 L50.5,232.4 L48.8,232.4 L48.8,231.0 L51.2,231.0 L51.2,229.6 L47.8,229.7 L47.8,228.3 L50.8,228.3 L50.8,226.9 L47.4,226.9 L47.5,225.5 L47.5,225.5 L47.6,224.1 L48.3,224.1 L48.3,222.7 L46.7,222.6 L46.7,221.2 L48.5,221.3 L48.6,219.9 L42.6,219.5 L42.7,218.1 L43.8,218.2 L43.9,216.8 L50.2,217.3 L50.3,215.9 L50.1,215.9 L50.2,214.5 L51.7,214.7 L51.8,213.3 L50.4,213.1 L50.5,211.8 L49.2,211.6 L49.4,210.2 L48.1,210.1 L48.3,208.7 L49.7,208.9 L49.9,207.5 L51.4,207.7 L51.6,206.4 L51.3,206.3 L51.5,205.0 L51.9,205.0 L52.2,203.7 L52.6,203.8 L52.9,202.4 L52.8,202.4 L53.1,201.1 L53.9,201.2 L54.2,199.9 L52.8,199.6 L53.1,198.3 L52.6,198.1 L52.9,196.8 L54.1,197.1 L54.4,195.7 L47.6,194.1 L47.9,192.7 L50.9,193.4 L51.2,192.1 L53.3,192.6 L53.7,191.3 L54.6,191.5 L55.0,190.2 L54.3,190.0 L54.7,188.7 L48.1,186.7 L48.5,185.4 L50.1,185.9 L50.6,184.5 L52.3,185.0 L52.8,183.7 L55.2,184.5 L55.7,183.2 L58.3,184.1 L58.7,182.8 L58.3,182.6 L58.7,181.3 L57.9,181.0 L58.3,179.7 L57.4,179.4 L57.9,178.1 L59.3,178.6 L59.8,177.3 L58.6,176.8 L59.1,175.6 L59.3,175.6 L59.8,174.3 L53.8,171.9 L54.4,170.6 L53.7,170.3 L54.2,168.9 L60.9,171.8 L61.5,170.6 L64.0,171.7 L64.5,170.4 L61.5,169.1 L62.1,167.8 L61.5,167.5 L62.1,166.3 L63.5,166.9 L64.1,165.7 L64.5,165.9 L65.1,164.6 L66.2,165.2 L66.9,164.0 L66.3,163.7 L66.9,162.5 L62.6,160.2 L63.3,159.0 L66.8,160.9 L67.5,159.7 L67.0,159.4 L67.7,158.2 L67.2,157.9 L67.9,156.7 L67.9,156.7 L68.6,155.5 L68.0,155.2 L68.7,154.0 L70.2,154.9 L70.9,153.7 L70.4,153.4 L71.1,152.2 L72.1,152.8 L72.8,151.7 L72.3,151.3 L73.1,150.2 L73.1,150.2 L73.8,149.0 L73.8,149.0 L74.5,147.8 L74.0,147.5 L74.8,146.4 L75.0,146.5 L75.8,145.4 L76.8,146.0 L77.6,144.9 L78.3,145.4 L79.1,144.3 L79.3,144.5 L80.1,143.4 L77.7,141.6 L78.5,140.5 L81.4,142.7 L82.2,141.6 L80.9,140.6 L81.8,139.5 L82.0,139.7 L82.9,138.6 L77.6,134.3 L78.6,133.2 L79.7,134.2 L80.7,133.1 L81.7,134.0 L82.6,132.9 L83.1,133.3 L84.0,132.3 L83.2,131.6 L84.1,130.5 L86.5,132.7 L87.5,131.7 L87.4,131.7 L88.4,130.7 L88.6,130.9 L89.6,129.9 L90.0,130.3 L91.0,129.4 L90.4,128.8 L91.4,127.8 L91.4,127.9 L92.4,126.9 L90.9,125.3 L91.9,124.4 L92.5,125.0 L93.5,124.0 L93.7,124.3 L94.8,123.3 L97.2,126.0 L98.2,125.1 L95.2,121.8 L96.2,120.8 L97.5,122.2 L98.5,121.3 L97.8,120.5 L98.8,119.5 L98.9,119.7 L100.0,118.8 L100.4,119.2 L101.4,118.3 L100.8,117.6 L101.9,116.7 L102.2,117.2 L103.3,116.3 L102.5,115.2 L103.6,114.3 L104.4,115.4 L105.5,114.6 L105.3,114.4 L106.4,113.5 L105.8,112.7 L106.9,111.8 L107.2,112.2 L108.3,111.4 L108.0,111.0 L109.2,110.2 L110.0,111.4 L111.2,110.6 L110.9,110.3 L112.1,109.5 L111.3,108.3 L112.5,107.6 L112.7,107.9 L113.9,107.2 L113.7,106.8 L114.8,106.1 L114.6,105.6 L115.8,104.9 L116.3,105.8 L117.5,105.1 L117.6,105.1 L118.7,104.4 L118.5,104.0 L119.7,103.3 L119.5,103.0 L120.7,102.3 L120.1,101.2 L121.4,100.5 L121.8,101.3 L123.0,100.6 L123.1,100.7 L124.3,100.1 L124.4,100.2 L125.6,99.6 L125.6,99.6 L126.9,98.9 L126.4,97.9 L127.6,97.3 L127.5,96.9 L128.7,96.3 L129.0,96.8 L130.2,96.2 L130.3,96.4 L131.6,95.8 L131.8,96.3 L133.1,95.7 L132.9,95.2 L134.2,94.6 L134.8,96.1 L136.1,95.6 L136.1,95.5 L137.4,94.9 L138.1,96.6 L139.4,96.1 L138.9,94.9 L140.2,94.4 L138.3,89.6 L139.6,89.1 L139.7,89.4 L141.1,88.9 L143.2,94.5 L144.5,94.0 L144.1,93.1 L145.4,92.6 L146.0,94.2 L147.3,93.8 L147.0,92.8 L148.3,92.4 L148.7,93.5 L150.0,93.1 L149.9,93.0 L151.2,92.6 L151.1,92.2 L152.4,91.8 L152.0,90.5 L153.4,90.1 L153.5,90.6 L154.8,90.2 L154.3,88.3 L155.7,87.9 L155.3,86.4 L156.7,86.1 L157.4,89.0 L158.7,88.7 L158.6,88.0 L159.9,87.7 L159.9,87.6 L161.3,87.3 L161.3,87.5 L162.7,87.2 L162.0,84.2 L163.4,83.9 L165.9,95.9 A136.0,136.0 0 0 0 112.2,338.6Z" fill="#fdb76b"/>
<path d="M108.7,343.3 L107.6,342.5 L108.5,341.4 L107.4,340.6 L106.6,341.6 L105.6,340.7 L105.5,340.8 L104.4,340.0 L104.7,339.6 L103.6,338.8 L103.4,339.1 L102.3,338.2 L102.9,337.5 L101.9,336.6 L102.7,335.7 L101.7,334.8 L100.9,335.8 L99.8,334.9 L99.6,335.1 L98.6,334.2 L97.6,335.3 L96.6,334.4 L96.6,334.4 L95.6,333.5 L95.8,333.2 L94.9,332.3 L96.4,330.7 L95.4,329.7 L93.5,331.7 L92.5,330.7 L92.5,330.7 L91.6,329.7 L92.5,328.8 L91.5,327.9 L92.3,327.1 L91.3,326.2 L91.1,326.4 L90.1,325.4 L91.2,324.5 L90.3,323.5 L90.4,323.4 L89.5,322.4 L88.9,322.9 L88.0,321.9 L88.1,321.8 L87.2,320.8 L85.9,321.9 L85.0,320.9 L84.7,321.2 L83.8,320.2 L79.8,323.5 L78.9,322.4 L79.9,321.6 L79.0,320.5 L84.1,316.4 L83.3,315.4 L83.2,315.4 L82.4,314.4 L82.3,314.4 L81.5,313.4 L80.4,314.2 L79.6,313.1 L80.9,312.1 L80.1,311.0 L79.1,311.8 L78.3,310.7 L78.4,310.6 L77.6,309.5 L76.9,310.0 L76.1,308.9 L76.0,309.0 L75.2,307.9 L75.4,307.7 L74.7,306.6 L75.9,305.8 L75.1,304.7 L74.5,305.1 L73.8,304.0 L74.0,303.8 L73.3,302.7 L72.9,302.9 L72.2,301.8 L73.1,301.2 L72.4,300.1 L71.3,300.7 L70.6,299.6 L69.6,300.2 L68.9,299.0 L71.0,297.8 L70.3,296.6 L70.3,296.6 L69.7,295.5 L69.0,295.8 L68.4,294.6 L65.7,296.0 L65.1,294.8 L67.2,293.7 L66.6,292.5 L66.2,292.7 L65.6,291.4 L66.0,291.3 L65.4,290.0 L64.6,290.4 L64.0,289.2 L65.4,288.5 L64.8,287.3 L64.4,287.5 L63.9,286.3 L62.9,286.7 L62.4,285.4 L62.4,285.4 L61.8,284.2 L64.0,283.2 L63.5,282.0 L63.4,282.1 L62.9,280.8 L62.9,280.8 L62.4,279.5 L54.2,282.7 L53.7,281.4 L55.3,280.8 L54.8,279.5 L57.1,278.6 L56.6,277.3 L59.6,276.3 L59.1,275.0 L60.5,274.5 L60.1,273.3 L60.0,273.3 L59.6,272.0 L58.4,272.4 L58.0,271.1 L58.9,270.8 L58.5,269.5 L59.6,269.2 L59.2,267.9 L58.0,268.2 L57.7,266.9 L56.6,267.2 L56.2,265.9 L54.0,266.5 L53.7,265.2 L55.3,264.8 L54.9,263.5 L54.4,263.6 L54.1,262.3 L46.7,264.0 L46.4,262.6 L49.1,262.0 L48.8,260.6 L51.5,260.0 L51.2,258.7 L55.0,257.9 L54.8,256.5 L53.3,256.8 L53.0,255.5 L54.1,255.3 L53.9,253.9 L55.0,253.7 L54.8,252.4 L54.8,252.4 L54.5,251.1 L51.8,251.5 L51.6,250.2 L52.1,250.1 L51.9,248.7 L44.6,249.7 L44.4,248.3 L43.9,248.4 L43.7,247.0 L48.0,246.4 L47.8,245.1 L48.2,245.0 L48.0,243.6 L54.1,243.0 L54.0,241.7 L54.4,241.6 L54.3,240.3 L54.0,240.3 L53.9,239.0 L53.8,239.0 L53.7,237.7 L52.6,237.7 L52.5,236.4 L51.2,236.5 L51.2,235.1 L50.1,235.1 L50.1,233.8 L50.5,233.8 L50.5,232.4 L48.8,232.4 L48.8,231.0 L51.2,231.0 L51.2,229.6 L47.8,229.7 L47.8,228.3 L50.8,228.3 L50.8,226.9 L47.4,226.9 L47.5,225.5 L47.5,225.5 L47.6,224.1 L48.3,224.1 L48.3,222.7 L46.7,222.6 L46.7,221.2 L48.5,221.3 L48.6,219.9 L42.6,219.5 L42.7,218.1 L43.8,218.2 L43.9,216.8 L50.2,217.3 L50.3,215.9 L50.1,215.9 L50.2,214.5 L51.7,214.7 L51.8,213.3 L50.4,213.1 L50.5,211.8 L49.2,211.6 L49.4,210.2 L48.1,210.1 L48.3,208.7 L49.7,208.9 L49.9,207.5 L51.4,207.7 L51.6,206.4 L51.3,206.3 L51.5,205.0 L51.9,205.0 L52.2,203.7 L52.6,203.8 L52.9,202.4 L52.8,202.4 L53.1,201.1 L53.9,201.2 L54.2,199.9 L52.8,199.6 L53.1,198.3 L52.6,198.1 L52.9,196.8 L54.1,197.1 L54.4,195.7 L47.6,194.1 L47.9,192.7 L50.9,193.4 L51.2,192.1 L53.3,192.6 L53.7,191.3 L54.6,191.5 L55.0,190.2 L54.3,190.0 L54.7,188.7 L48.1,186.7 L48.5,185.4 L50.1,185.9 L50.6,184.5 L52.3,185.0 L52.8,183.7 L55.2,184.5 L55.7,183.2 L58.3,184.1 L58.7,182.8 L58.3,182.6 L58.7,181.3 L57.9,181.0 L58.3,179.7 L57.4,179.4 L57.9,178.1 L59.3,178.6 L59.8,177.3 L58.6,176.8 L59.1,175.6 L59.3,175.6 L59.8,174.3 L53.8,171.9 L54.4,170.6 L53.7,170.3 L54.2,168.9 L60.9,171.8 L61.5,170.6 L64.0,171.7 L64.5,170.4 L61.5,169.1 L62.1,167.8 L61.5,167.5 L62.1,166.3 L63.5,166.9 L64.1,165.7 L64.5,165.9 L65.1,164.6 L66.2,165.2 L66.9,164.0 L66.3,163.7 L66.9,162.5 L62.6,160.2 L63.3,159.0 L66.8,160.9 L67.5,159.7 L67.0,159.4 L67.7,158.2 L67.2,157.9 L67.9,156.7 L67.9,156.7 L68.6,155.5 L68.0,155.2 L68.7,154.0 L70.2,154.9 L70.9,153.7 L70.4,153.4 L71.1,152.2 L72.1,152.8 L72.8,151.7 L72.3,151.3 L73.1,150.2 L73.1,150.2 L73.8,149.0 L73.8,149.0 L74.5,147.8 L74.0,147.5 L74.8,146.4 L75.0,146.5 L75.8,145.4 L76.8,146.0 L77.6,144.9 L78.3,145.4 L79.1,144.3 L79.3,144.5 L80.1,143.4 L77.7,141.6 L78.5,140.5 L81.4,142.7 L82.2,141.6 L80.9,140.6 L81.8,139.5 L82.0,139.7 L82.9,138.6 L77.6,134.3 L78.6,133.2 L79.7,134.2 L80.7,133.1 L81.7,134.0 L82.6,132.9 L83.1,133.3 L84.0,132.3 L83.2,131.6 L84.1,130.5 L86.5,132.7 L87.5,131.7 L87.4,131.7 L88.4,130.7 L88.6,130.9 L89.6,129.9 L90.0,130.3 L91.0,129.4 L90.4,128.8 L91.4,127.8 L91.4,127.9 L92.4,126.9 L90.9,125.3 L91.9,124.4 L92.5,125.0 L93.5,124.0 L93.7,124.3 L94.8,123.3 L97.2,126.0 L98.2,125.1 L95.2,121.8 L96.2,120.8 L97.5,122.2 L98.5,121.3 L97.8,120.5 L98.8,119.5 L98.9,119.7 L100.0,118.8 L100.4,119.2 L101.4,118.3 L100.8,117.6 L101.9,116.7 L102.2,117.2 L103.3,116.3 L102.5,115.2 L103.6,114.3 L104.4,115.4 L105.5,114.6 L105.3,114.4 L106.4,113.5 L105.8,112.7 L106.9,111.8 L107.2,112.2 L108.3,111.4 L108.0,111.0 L109.2,110.2 L110.0,111.4 L111.2,110.6 L110.9,110.3 L112.1,109.5 L111.3,108.3 L112.5,107.6 L112.7,107.9 L113.9,107.2 L113.7,106.8 L114.8,106.1 L114.6,105.6 L115.8,104.9 L116.3,105.8 L117.5,105.1 L117.6,105.1 L118.7,104.4 L118.5,104.0 L119.7,103.3 L119.5,103.0 L120.7,102.3 L120.1,101.2 L121.4,100.5 L121.8,101.3 L123.0,100.6 L123.1,100.7 L124.3,100.1 L124.4,100.2 L125.6,99.6 L125.6,99.6 L126.9,98.9 L126.4,97.9 L127.6,97.3 L127.5,96.9 L128.7,96.3 L129.0,96.8 L130.2,96.2 L130.3,96.4 L131.6,95.8 L131.8,96.3 L133.1,95.7 L132.9,95.2 L134.2,94.6 L134.8,96.1 L136.1,95.6 L136.1,95.5 L137.4,94.9 L138.1,96.6 L139.4,96.1 L138.9,94.9 L140.2,94.4 L138.3,89.6 L139.6,89.1 L139.7,89.4 L141.1,88.9 L143.2,94.5 L144.5,94.0 L144.1,93.1 L145.4,92.6 L146.0,94.2 L147.3,93.8 L147.0,92.8 L148.3,92.4 L148.7,93.5 L150.0,93.1 L149.9,93.0 L151.2,92.6 L151.1,92.2 L152.4,91.8 L152.0,90.5 L153.4,90.1 L153.5,90.6 L154.8,90.2 L154.3,88.3 L155.7,87.9 L155.3,86.4 L156.7,86.1 L157.4,89.0 L158.7,88.7 L158.6,88.0 L159.9,87.7 L159.9,87.6 L161.3,87.3 L161.3,87.5 L162.7,87.2 L162.0,84.2 L163.4,83.9" fill="none" stroke="#f39322" stroke-width="2.0"/>
<path d="M209.5,109.3 L210.8,109.5 L210.9,109.1 L212.1,109.3 L212.2,108.8 L213.5,109.0 L213.3,109.8 L214.6,110.1 L214.6,109.7 L215.9,109.9 L215.9,109.9 L217.1,110.2 L217.0,110.7 L218.2,111.0 L218.4,110.3 L219.6,110.6 L219.5,111.3 L220.7,111.6 L220.7,111.7 L221.9,112.0 L221.9,111.8 L223.2,112.1 L223.2,111.9 L224.4,112.3 L224.3,112.7 L225.5,113.0 L225.5,113.0 L226.8,113.4 L227.0,112.5 L228.2,112.8 L228.2,113.0 L229.4,113.3 L229.4,113.3 L230.6,113.7 L230.6,113.9 L231.8,114.3 L231.9,113.8 L233.1,114.2 L233.3,113.8 L234.5,114.3 L234.3,114.8 L235.5,115.3 L235.6,115.0 L236.8,115.5 L236.5,116.2 L237.6,116.7 L237.7,116.6 L238.8,117.1 L238.6,117.7 L239.8,118.2 L239.8,118.2 L240.9,118.7 L241.8,116.7 L243.0,117.2 L242.5,118.4 L243.6,118.9 L243.9,118.3 L245.0,118.8 L244.9,119.1 L246.1,119.6 L246.0,119.8 L247.1,120.3 L246.5,121.6 L247.6,122.2 L247.9,121.6 L249.0,122.2 L248.7,122.8 L249.8,123.4 L249.9,123.3 L251.0,123.9 L251.0,123.9 L252.1,124.5 L252.2,124.3 L253.3,124.9 L254.0,123.7 L255.1,124.4 L255.4,123.8 L256.5,124.5 L255.6,126.0 L256.7,126.6 L256.7,126.7 L257.8,127.3 L257.6,127.6 L258.7,128.3 L258.9,127.9 L259.9,128.6 L259.5,129.3 L260.5,130.0 L260.3,130.3 L261.4,131.0 L261.7,130.5 L262.8,131.2 L262.7,131.2 L263.7,132.0 L264.4,131.1 L265.4,131.9 L265.2,132.1 L266.2,132.9 L266.3,132.8 L267.3,133.5 L258.5,144.8 A106.3,106.3 0 0 0 207.6,123.2Z" fill="#a6d75b"/>
<path d="M208.5,116.8 L209.7,117.0 L209.7,116.7 L210.9,116.8 L210.9,116.5 L212.1,116.7 L212.1,117.0 L213.3,117.2 L213.3,116.9 L214.5,117.1 L214.5,117.2 L215.6,117.4 L215.7,117.3 L216.8,117.5 L216.8,117.5 L218.0,117.8 L218.0,117.9 L219.1,118.2 L219.1,118.4 L220.2,118.7 L220.3,118.4 L221.5,118.7 L221.4,119.0 L222.5,119.3 L222.5,119.3 L223.7,119.6 L223.7,119.5 L224.9,119.9 L224.7,120.3 L225.9,120.7 L225.9,120.4 L227.1,120.8 L227.0,120.9 L228.2,121.2 L228.2,121.3 L229.3,121.6 L229.3,121.5 L230.5,121.9 L230.5,121.9 L231.6,122.3 L231.6,122.2 L232.7,122.6 L232.7,122.8 L233.8,123.2 L233.7,123.4 L234.8,123.8 L234.8,123.8 L235.9,124.2 L235.9,124.2 L237.0,124.7 L237.0,124.8 L238.0,125.3 L238.2,124.9 L239.3,125.4 L239.4,125.1 L240.5,125.6 L240.3,126.0 L241.4,126.5 L241.4,126.5 L242.5,127.0 L242.6,126.8 L243.6,127.4 L243.4,127.9 L244.4,128.4 L244.6,128.1 L245.7,128.6 L245.7,128.6 L246.7,129.2 L246.8,129.0 L247.9,129.6 L247.9,129.4 L249.0,130.0 L249.1,129.8 L250.1,130.4 L249.9,130.8 L250.9,131.4 L251.0,131.3 L252.0,131.9 L252.0,131.9 L253.0,132.6 L253.1,132.5 L254.1,133.1 L253.8,133.4 L254.8,134.1 L254.8,134.2 L255.7,134.9 L255.9,134.7 L256.9,135.3 L257.0,135.1 L258.0,135.8 L258.2,135.5 L259.1,136.2 L258.8,136.7 L259.8,137.4 L260.0,137.1 L260.9,137.8 L260.8,138.0 L261.8,138.7 L261.7,138.8 L262.7,139.5 L258.5,144.8 A106.3,106.3 0 0 0 207.6,123.2Z" fill="#f8826f"/>
<path d="M210.1,111.2L210.5,108.1M211.6,111.5L212.5,106.1M213.1,111.7L213.9,107.5M214.7,112.0L215.2,109.0M216.2,112.3L216.8,109.2M217.7,112.6L218.4,109.3M219.3,112.9L220.2,108.7M220.8,113.3L221.4,110.8M222.3,113.7L223.0,110.7M223.8,114.1L224.9,109.8M225.3,114.5L226.5,110.1M226.8,114.9L228.1,110.6M228.3,115.4L229.2,112.5M229.8,115.8L231.1,111.7M231.2,116.3L232.4,112.9M232.7,116.9L234.2,112.8M234.2,117.4L235.3,114.5M235.6,117.9L237.7,112.7M237.1,118.5L238.2,115.7M238.5,119.1L239.6,116.4M240.0,119.7L241.5,116.3M241.4,120.3L243.5,115.7M242.8,121.0L244.7,117.0M244.2,121.6L246.4,117.0M245.6,122.3L247.8,117.9M247.0,123.0L248.5,120.2M248.4,123.7L250.4,119.9M249.8,124.5L250.9,122.4M251.1,125.2L252.2,123.4M252.5,126.0L254.6,122.4M253.8,126.8L256.8,121.9M255.2,127.6L257.7,123.6M256.5,128.4L258.6,125.2M257.8,129.3L259.8,126.2M259.1,130.1L260.4,128.2M260.4,131.0L261.2,129.8M261.7,131.9L263.2,129.8M262.9,132.8L264.9,130.2M264.2,133.8L266.6,130.6M265.4,134.7L267.8,131.6" stroke="#8c99ad" stroke-width="0.8" fill="none"/>
<path d="M216.4,111.3L219.1,97.7M264.8,133.0L273.4,121.5" stroke="#9aae92" stroke-width="0.9" fill="none"/>
<path d="M269.4,135.3 L270.4,136.1 L270.4,136.2 L271.3,137.0 L272.4,135.7 L273.4,136.6 L272.2,137.9 L273.2,138.8 L273.2,138.8 L274.1,139.6 L273.7,140.1 L274.6,140.9 L275.4,140.1 L276.4,140.9 L275.8,141.5 L276.7,142.4 L276.9,142.3 L277.8,143.1 L278.0,143.0 L278.9,143.9 L278.7,144.1 L279.6,145.0 L279.6,145.0 L280.4,145.9 L280.3,146.1 L281.2,147.0 L281.0,147.2 L281.8,148.1 L281.7,148.3 L282.5,149.2 L282.9,148.9 L283.7,149.8 L283.7,149.9 L284.5,150.8 L284.2,151.1 L285.0,152.1 L285.1,152.0 L285.9,153.0 L287.1,152.0 L287.9,153.0 L287.0,153.8 L287.8,154.8 L287.6,154.9 L288.4,155.9 L288.3,155.9 L289.1,157.0 L289.3,156.8 L290.0,157.8 L290.5,157.5 L291.3,158.5 L290.8,158.8 L291.5,159.9 L291.8,159.7 L292.5,160.8 L292.7,160.6 L293.4,161.7 L294.1,161.2 L294.8,162.3 L294.1,162.8 L294.8,163.9 L294.3,164.1 L295.0,165.2 L295.5,164.9 L296.1,166.0 L296.0,166.1 L296.7,167.2 L296.3,167.4 L297.0,168.5 L296.9,168.5 L297.6,169.6 L298.4,169.1 L299.0,170.3 L297.9,170.9 L298.5,172.0 L298.7,171.9 L299.3,173.0 L300.4,172.5 L300.9,173.6 L300.8,173.7 L301.4,174.8 L300.7,175.2 L301.2,176.3 L301.0,176.4 L301.5,177.6 L302.3,177.2 L302.8,178.4 L302.9,178.4 L303.4,179.5 L303.0,179.7 L303.5,180.9 L303.2,181.0 L303.7,182.2 L303.1,182.4 L303.6,183.6 L303.3,183.7 L303.8,184.9 L304.6,184.6 L305.0,185.8 L305.5,185.6 L306.0,186.8 L305.6,186.9 L306.1,188.1 L306.6,187.9 L307.0,189.1 L306.5,189.3 L306.9,190.5 L293.8,194.9 A106.3,106.3 0 0 0 260.4,146.3Z" fill="#a6d75b"/>
<path d="M264.8,140.9 L265.8,141.7 L265.8,141.6 L266.7,142.4 L266.6,142.5 L267.5,143.3 L267.3,143.5 L268.2,144.3 L268.3,144.2 L269.2,145.0 L269.3,145.0 L270.1,145.8 L270.3,145.6 L271.2,146.4 L271.3,146.3 L272.2,147.1 L272.3,147.0 L273.2,147.8 L273.2,147.8 L274.0,148.7 L273.7,149.0 L274.5,149.9 L274.6,149.8 L275.4,150.7 L275.1,150.9 L276.0,151.8 L275.8,151.9 L276.7,152.8 L276.6,152.9 L277.4,153.8 L277.2,153.9 L278.0,154.8 L278.0,154.8 L278.8,155.7 L279.1,155.4 L279.9,156.3 L279.9,156.3 L280.7,157.2 L280.9,157.0 L281.7,157.9 L281.6,158.0 L282.4,158.9 L282.0,159.2 L282.7,160.2 L282.7,160.2 L283.4,161.2 L283.8,160.9 L284.5,161.9 L284.6,161.8 L285.3,162.7 L285.2,162.8 L285.9,163.8 L285.8,163.9 L286.5,164.8 L286.7,164.7 L287.4,165.7 L287.4,165.7 L288.0,166.7 L287.9,166.8 L288.6,167.8 L288.7,167.7 L289.4,168.7 L289.3,168.8 L289.9,169.8 L289.6,170.0 L290.3,171.0 L290.0,171.1 L290.6,172.2 L290.3,172.4 L290.9,173.4 L291.5,173.0 L292.1,174.1 L292.1,174.1 L292.7,175.1 L293.0,174.9 L293.6,176.0 L293.5,176.0 L294.0,177.1 L294.0,177.2 L294.5,178.2 L294.5,178.2 L295.0,179.3 L295.0,179.3 L295.5,180.4 L295.2,180.6 L295.7,181.6 L295.7,181.6 L296.2,182.7 L296.4,182.6 L296.9,183.7 L297.3,183.5 L297.8,184.7 L297.6,184.8 L298.0,185.9 L298.0,185.9 L298.5,187.0 L298.5,187.0 L299.0,188.1 L299.2,188.0 L299.6,189.1 L299.5,189.2 L299.9,190.3 L299.7,190.4 L300.1,191.5 L300.4,191.4 L300.8,192.5 L293.8,194.9 A106.3,106.3 0 0 0 260.4,146.3Z" fill="#f8826f"/>
<path d="M268.6,137.5L271.7,133.8M269.8,138.5L271.9,136.1M271.0,139.6L275.6,134.3M272.2,140.6L274.0,138.7M273.4,141.7L276.5,138.4M274.5,142.8L277.0,140.2M275.7,143.9L277.5,142.1M276.8,145.0L279.9,141.9M277.9,146.1L280.3,143.8M279.0,147.3L282.2,144.3M280.1,148.4L283.7,145.1M281.1,149.6L283.1,147.8M282.2,150.8L285.3,148.1M283.2,152.0L286.0,149.7M284.2,153.2L286.5,151.3M285.2,154.4L286.8,153.2M286.2,155.7L288.7,153.7M287.2,156.9L289.1,155.5M288.1,158.2L290.0,156.8M289.1,159.5L291.3,157.9M290.0,160.8L292.2,159.2M290.9,162.1L294.1,159.9M291.8,163.4L294.9,161.3M292.6,164.7L297.0,161.9M293.5,166.0L295.9,164.6M294.3,167.4L298.7,164.7M295.1,168.8L298.0,167.1M295.9,170.1L298.4,168.7M296.7,171.5L299.5,169.9M297.4,172.9L300.1,171.5M298.2,174.3L300.9,172.9M298.9,175.7L303.2,173.5M299.6,177.1L303.0,175.5M300.2,178.6L304.5,176.6M300.9,180.0L305.3,178.0M301.5,181.5L304.6,180.1M302.2,182.9L306.6,181.1M302.8,184.4L305.2,183.4M303.3,185.8L304.9,185.2M303.9,187.3L306.4,186.4M304.4,188.8L309.0,187.2M305.0,190.3L309.2,188.9" stroke="#8c99ad" stroke-width="0.8" fill="none"/>
<path d="M274.1,141.0L283.7,130.5M299.0,173.8L309.9,168.3" stroke="#9aae92" stroke-width="0.9" fill="none"/>
<path d="M307.3,193.2 L307.6,194.5 L307.1,194.6 L307.5,195.8 L309.0,195.4 L309.3,196.6 L308.5,196.9 L308.8,198.1 L309.6,197.9 L309.9,199.1 L310.0,199.1 L310.3,200.3 L310.7,200.2 L310.9,201.5 L309.7,201.8 L309.9,203.0 L310.5,202.9 L310.8,204.2 L311.0,204.1 L311.3,205.4 L311.2,205.4 L311.4,206.6 L311.6,206.6 L311.9,207.9 L311.0,208.0 L311.2,209.3 L312.3,209.1 L312.5,210.3 L311.6,210.5 L311.8,211.7 L311.9,211.7 L312.0,213.0 L312.7,212.9 L312.8,214.2 L313.0,214.2 L313.1,215.4 L313.8,215.4 L313.9,216.6 L313.3,216.7 L313.4,218.0 L312.5,218.1 L312.6,219.3 L313.0,219.3 L313.1,220.6 L313.4,220.6 L313.4,221.8 L312.3,221.9 L312.4,223.2 L313.3,223.1 L313.4,224.4 L314.0,224.4 L314.1,225.7 L313.2,225.7 L313.2,227.0 L313.8,227.0 L313.8,228.2 L313.6,228.2 L313.6,229.5 L314.0,229.5 L314.0,230.8 L313.3,230.8 L313.3,232.1 L313.8,232.1 L313.7,233.4 L313.9,233.4 L313.8,234.6 L313.5,234.6 L313.4,235.9 L313.1,235.9 L313.0,237.2 L312.9,237.2 L312.8,238.4 L313.3,238.5 L313.1,239.7 L313.8,239.8 L313.7,241.1 L313.1,241.0 L313.0,242.3 L313.3,242.3 L313.1,243.6 L312.8,243.6 L312.6,244.8 L313.5,245.0 L313.4,246.2 L313.4,246.2 L313.2,247.5 L313.0,247.5 L312.8,248.8 L312.4,248.7 L312.2,250.0 L311.5,249.8 L311.3,251.1 L310.3,250.9 L310.0,252.2 L311.0,252.3 L310.7,253.6 L310.3,253.5 L310.0,254.7 L309.8,254.7 L309.5,255.9 L296.5,252.9 A106.3,106.3 0 0 0 294.6,197.2Z" fill="#a6d75b"/>
<path d="M301.5,195.0 L301.8,196.2 L302.0,196.1 L302.3,197.3 L302.6,197.2 L302.9,198.4 L303.0,198.3 L303.4,199.5 L303.3,199.5 L303.6,200.7 L303.0,200.9 L303.2,202.0 L303.6,201.9 L303.9,203.1 L303.9,203.1 L304.2,204.3 L303.9,204.3 L304.2,205.5 L304.5,205.5 L304.7,206.6 L304.4,206.7 L304.7,207.9 L304.6,207.9 L304.8,209.1 L304.8,209.1 L305.0,210.3 L305.0,210.3 L305.2,211.5 L305.2,211.5 L305.4,212.6 L304.9,212.7 L305.1,213.9 L304.9,213.9 L305.1,215.1 L305.2,215.1 L305.4,216.3 L305.7,216.2 L305.8,217.4 L305.8,217.4 L306.0,218.6 L305.7,218.7 L305.8,219.9 L305.7,219.9 L305.7,221.1 L305.6,221.1 L305.7,222.3 L306.1,222.2 L306.2,223.4 L306.0,223.5 L306.1,224.6 L306.4,224.6 L306.4,225.8 L306.2,225.8 L306.2,227.1 L306.0,227.1 L306.1,228.3 L306.0,228.3 L306.0,229.5 L306.5,229.5 L306.5,230.7 L306.3,230.7 L306.3,231.9 L306.3,231.9 L306.2,233.1 L306.2,233.1 L306.1,234.3 L306.1,234.3 L306.0,235.5 L306.3,235.5 L306.2,236.7 L306.1,236.7 L306.0,237.9 L306.0,237.9 L305.9,239.1 L305.6,239.0 L305.5,240.2 L305.5,240.2 L305.3,241.4 L305.5,241.4 L305.3,242.6 L305.8,242.7 L305.6,243.9 L306.0,243.9 L305.8,245.1 L305.4,245.1 L305.2,246.3 L305.1,246.2 L304.9,247.4 L304.5,247.4 L304.3,248.5 L304.3,248.6 L304.1,249.7 L304.2,249.8 L304.0,250.9 L304.2,251.0 L304.0,252.2 L304.1,252.2 L303.8,253.4 L303.6,253.3 L303.3,254.5 L296.5,252.9 A106.3,106.3 0 0 0 294.6,197.2Z" fill="#f8826f"/>
<path d="M306.3,194.4L308.1,193.8M306.7,195.9L308.9,195.3M307.1,197.4L310.6,196.4M307.5,198.9L311.1,198.0M307.9,200.4L311.6,199.5M308.3,201.9L312.9,200.9M308.6,203.5L311.0,203.0M308.9,205.0L313.2,204.2M309.2,206.6L313.6,205.7M309.5,208.1L312.5,207.6M309.8,209.6L312.8,209.2M310.0,211.2L314.4,210.5M310.2,212.8L314.5,212.2M310.4,214.3L314.5,213.8M310.6,215.9L315.9,215.3M310.8,217.4L315.7,217.0M310.9,219.0L314.2,218.7M311.0,220.6L314.9,220.3M311.1,222.1L315.8,221.9M311.2,223.7L314.0,223.6M311.3,225.3L316.1,225.1M311.3,226.8L315.8,226.8M311.3,228.4L314.9,228.4M311.3,230.0L316.3,230.0M311.3,231.5L314.0,231.6M311.2,233.1L315.8,233.3M311.1,234.7L316.2,234.9M311.0,236.2L314.1,236.4M310.9,237.8L314.5,238.1M310.8,239.4L316.3,239.9M310.6,240.9L316.5,241.5M310.5,242.5L314.3,242.9M310.3,244.0L313.2,244.4M310.1,245.6L314.6,246.3M309.8,247.1L314.5,247.9M309.6,248.7L315.5,249.7M309.3,250.2L313.2,251.0M309.0,251.8L310.7,252.1M308.7,253.3L313.4,254.3M308.3,254.9L312.6,255.8" stroke="#8c99ad" stroke-width="0.8" fill="none"/>
<path d="M311.2,212.6L322.5,211.1M312.2,223.6L324.3,223.2M312.2,233.1L324.3,233.6" stroke="#9aae92" stroke-width="0.9" fill="none"/>
<path d="M308.0,258.4 L307.7,259.6 L307.6,259.6 L307.3,260.8 L306.9,260.7 L306.5,261.9 L307.0,262.0 L306.6,263.2 L307.3,263.5 L306.9,264.7 L307.1,264.7 L306.7,265.9 L306.3,265.8 L305.9,267.0 L306.3,267.2 L305.9,268.4 L305.6,268.3 L305.2,269.5 L305.4,269.6 L305.0,270.8 L305.0,270.8 L304.6,272.0 L304.8,272.1 L304.3,273.2 L302.7,272.6 L302.3,273.8 L302.1,273.7 L301.6,274.9 L302.7,275.3 L302.2,276.5 L302.2,276.5 L301.7,277.7 L303.0,278.3 L302.4,279.5 L301.8,279.1 L301.2,280.3 L300.7,280.1 L300.2,281.2 L301.0,281.6 L300.4,282.8 L300.3,282.7 L299.7,283.9 L300.4,284.2 L299.8,285.4 L299.4,285.1 L298.8,286.3 L298.2,286.0 L297.6,287.1 L297.8,287.2 L297.2,288.3 L296.5,287.9 L295.9,289.0 L295.7,289.0 L295.0,290.0 L294.9,290.0 L294.2,291.1 L294.3,291.1 L293.7,292.2 L294.2,292.5 L293.5,293.6 L293.2,293.4 L292.5,294.5 L292.7,294.6 L292.0,295.7 L291.7,295.5 L291.0,296.5 L291.5,296.9 L290.8,297.9 L289.3,296.9 L288.5,297.9 L289.0,298.3 L288.3,299.3 L288.7,299.6 L287.9,300.6 L287.5,300.3 L286.8,301.3 L287.5,301.9 L286.7,302.9 L276.2,294.6 A106.3,106.3 0 0 0 295.9,255.2Z" fill="#a6d75b"/>
<path d="M303.4,257.1 L303.1,258.3 L303.1,258.3 L302.8,259.5 L302.6,259.5 L302.2,260.6 L302.2,260.6 L301.9,261.8 L301.7,261.7 L301.3,262.9 L301.5,262.9 L301.1,264.1 L301.0,264.1 L300.6,265.2 L300.6,265.2 L300.2,266.4 L300.3,266.4 L299.9,267.5 L299.8,267.5 L299.4,268.7 L299.7,268.8 L299.3,269.9 L299.1,269.9 L298.7,271.0 L298.9,271.1 L298.4,272.2 L298.4,272.2 L298.0,273.3 L297.7,273.2 L297.2,274.3 L297.2,274.3 L296.7,275.5 L296.6,275.4 L296.1,276.5 L296.1,276.5 L295.6,277.6 L295.6,277.6 L295.1,278.7 L295.5,278.9 L295.0,280.0 L294.8,279.9 L294.3,281.0 L294.5,281.2 L294.0,282.3 L294.0,282.3 L293.4,283.3 L293.0,283.1 L292.4,284.2 L292.0,284.0 L291.4,285.0 L291.7,285.2 L291.0,286.2 L290.7,286.0 L290.1,287.1 L290.4,287.2 L289.8,288.3 L290.0,288.4 L289.4,289.5 L289.4,289.5 L288.8,290.5 L288.7,290.5 L288.0,291.5 L288.0,291.5 L287.3,292.5 L287.4,292.5 L286.7,293.5 L286.6,293.5 L285.9,294.5 L285.8,294.4 L285.1,295.4 L285.1,295.4 L284.4,296.4 L284.6,296.6 L283.9,297.5 L283.7,297.4 L283.0,298.4 L283.1,298.5 L282.3,299.4 L276.2,294.6 A106.3,106.3 0 0 0 295.9,255.2Z" fill="#f8826f"/>
<path d="M306.5,258.8L308.9,259.4M306.1,260.3L308.0,260.8M305.7,261.8L308.8,262.8M305.2,263.3L308.7,264.4M304.7,264.8L309.4,266.4M304.2,266.3L308.8,267.9M303.7,267.8L308.7,269.6M303.2,269.3L306.2,270.4M302.6,270.8L307.1,272.5M302.0,272.3L307.1,274.3M301.4,273.7L303.8,274.7M300.8,275.2L303.3,276.3M300.2,276.6L302.5,277.7M299.5,278.1L303.6,280.0M298.9,279.5L303.6,281.8M298.2,280.9L302.5,283.1M297.4,282.3L301.8,284.6M296.7,283.7L301.0,286.0M296.0,285.1L300.6,287.7M295.2,286.5L298.5,288.4M294.4,287.9L297.0,289.4M293.6,289.2L295.8,290.6M292.8,290.6L295.1,292.1M291.9,291.9L295.0,293.9M291.1,293.2L294.3,295.4M290.2,294.6L293.7,296.9M289.3,295.9L291.2,297.2M288.4,297.2L290.9,299.0M287.4,298.4L289.1,299.6M286.5,299.7L289.0,301.6M285.5,300.9L288.3,303.1" stroke="#8c99ad" stroke-width="0.8" fill="none"/>
<path d="M285.6,305.6 L284.8,306.5 L284.6,306.4 L283.8,307.3 L283.8,307.3 L283.0,308.3 L283.1,308.4 L282.3,309.4 L282.0,309.1 L281.2,310.1 L280.6,309.5 L279.7,310.5 L279.7,310.5 L278.9,311.4 L279.1,311.6 L278.2,312.5 L278.0,312.3 L277.1,313.2 L276.9,313.0 L276.0,313.9 L276.0,313.9 L275.1,314.8 L274.6,314.3 L273.7,315.1 L273.7,315.1 L272.8,315.9 L273.1,316.3 L272.2,317.2 L272.2,317.2 L271.3,318.1 L271.5,318.3 L270.5,319.1 L271.1,319.8 L270.2,320.6 L270.1,320.5 L269.1,321.3 L268.9,321.1 L267.9,321.9 L267.4,321.3 L266.4,322.1 L266.2,321.8 L265.2,322.6 L265.6,323.1 L264.6,323.9 L264.4,323.5 L263.4,324.3 L263.7,324.7 L262.7,325.5 L262.4,325.0 L261.3,325.7 L261.6,326.1 L260.5,326.8 L260.6,326.9 L259.5,327.6 L259.9,328.1 L258.8,328.8 L258.6,328.4 L257.5,329.1 L257.4,328.9 L256.3,329.6 L256.5,329.8 L255.4,330.5 L255.4,330.5 L254.3,331.1 L254.8,332.0 L253.7,332.6 L246.6,320.3 A106.3,106.3 0 0 0 274.7,296.5Z" fill="#a6d75b"/>
<path d="M280.9,301.6 L280.1,302.5 L280.4,302.8 L279.6,303.7 L279.3,303.4 L278.5,304.3 L278.7,304.5 L277.9,305.4 L277.9,305.4 L277.1,306.3 L276.8,306.1 L276.0,307.0 L276.0,307.0 L275.2,307.8 L275.2,307.8 L274.3,308.7 L274.3,308.7 L273.5,309.6 L273.4,309.5 L272.5,310.3 L272.3,310.1 L271.4,310.9 L271.5,311.0 L270.6,311.8 L270.8,312.0 L269.9,312.8 L270.0,312.9 L269.1,313.7 L269.1,313.8 L268.2,314.6 L268.3,314.7 L267.4,315.5 L267.2,315.2 L266.3,316.0 L266.2,315.9 L265.3,316.7 L265.3,316.8 L264.4,317.5 L264.5,317.7 L263.6,318.4 L263.5,318.4 L262.6,319.1 L262.6,319.1 L261.6,319.9 L261.6,319.8 L260.6,320.6 L260.9,320.9 L259.9,321.6 L259.5,321.0 L258.5,321.7 L258.5,321.7 L257.5,322.4 L257.9,322.9 L256.9,323.6 L256.8,323.5 L255.8,324.2 L255.5,323.7 L254.5,324.4 L254.5,324.4 L253.5,325.1 L253.3,324.8 L252.3,325.4 L252.3,325.4 L251.3,326.0 L251.4,326.2 L250.3,326.8 L246.6,320.3 A106.3,106.3 0 0 0 274.7,296.5Z" fill="#f8826f"/>
<path d="M282.8,304.2L286.9,307.7M281.8,305.4L285.0,308.2M280.8,306.6L283.6,309.2M279.7,307.8L282.9,310.7M278.6,309.0L282.3,312.4M277.5,310.1L280.2,312.6M276.4,311.2L279.8,314.5M275.3,312.3L278.4,315.5M274.2,313.4L276.0,315.3M273.0,314.5L275.6,317.2M271.9,315.6L273.0,316.8M270.7,316.6L272.6,318.7M269.5,317.7L272.7,321.4M268.3,318.7L271.7,322.7M267.1,319.7L270.4,323.8M265.9,320.7L268.6,324.1M264.6,321.6L267.0,324.7M263.4,322.6L265.7,325.7M262.1,323.5L264.5,326.9M260.8,324.5L263.2,327.9M259.5,325.4L262.3,329.4M258.2,326.2L260.9,330.3M256.9,327.1L259.9,331.8M255.6,328.0L257.1,330.5M254.2,328.8L255.9,331.5M252.9,329.6L254.8,332.9" stroke="#8c99ad" stroke-width="0.8" fill="none"/>
<path d="M250.5,332.4 L249.4,333.1 L250.0,334.2 L248.9,334.8 L248.6,334.2 L247.4,334.8 L247.3,334.5 L246.2,335.1 L246.4,335.6 L245.3,336.2 L245.4,336.3 L244.2,336.9 L244.1,336.5 L242.9,337.1 L242.6,336.5 L241.5,337.0 L241.4,336.8 L240.2,337.3 L240.0,336.8 L238.9,337.3 L239.4,338.6 L238.2,339.1 L238.5,339.7 L237.3,340.2 L237.6,340.9 L236.4,341.3 L236.2,341.0 L235.0,341.4 L234.9,341.1 L233.7,341.6 L233.8,341.7 L232.6,342.1 L232.6,342.2 L231.4,342.7 L231.2,342.1 L230.0,342.5 L230.0,342.5 L228.8,342.9 L229.1,343.9 L227.9,344.3 L227.4,342.7 L226.2,343.0 L226.0,342.4 L224.8,342.7 L224.8,342.6 L223.5,343.0 L223.8,343.9 L222.6,344.2 L222.7,344.9 L221.5,345.2 L221.4,344.7 L220.2,345.0 L220.2,345.3 L219.0,345.6 L218.9,345.4 L217.7,345.6 L214.9,332.5 A106.3,106.3 0 0 0 244.5,321.5Z" fill="#a6d75b"/>
<path d="M247.9,327.8 L246.9,328.4 L247.0,328.5 L245.9,329.1 L245.9,329.1 L244.8,329.6 L244.7,329.4 L243.6,330.0 L243.6,329.9 L242.5,330.4 L242.7,330.8 L241.6,331.3 L241.7,331.5 L240.6,332.0 L240.4,331.7 L239.3,332.2 L239.6,332.7 L238.5,333.2 L238.4,333.0 L237.3,333.5 L237.2,333.4 L236.1,333.9 L236.2,334.0 L235.0,334.4 L234.9,334.2 L233.8,334.6 L233.7,334.4 L232.6,334.8 L232.6,334.8 L231.5,335.2 L231.6,335.6 L230.5,336.0 L230.5,336.3 L229.4,336.7 L229.3,336.3 L228.1,336.7 L228.2,337.0 L227.1,337.4 L227.1,337.4 L225.9,337.7 L225.9,337.8 L224.8,338.1 L224.8,338.1 L223.6,338.4 L223.6,338.5 L222.4,338.8 L222.4,338.5 L221.2,338.9 L221.2,338.7 L220.0,339.0 L220.0,338.9 L218.8,339.2 L218.8,339.2 L217.6,339.5 L217.7,339.7 L216.5,340.0 L214.9,332.5 A106.3,106.3 0 0 0 244.5,321.5Z" fill="#f8826f"/>
<path d="M249.2,331.7L251.1,335.2M247.8,332.5L249.9,336.4M246.4,333.2L248.6,337.6M244.9,333.9L246.8,337.8M243.5,334.6L245.2,338.0M242.1,335.3L243.7,338.9M240.6,335.9L241.9,338.9M239.2,336.5L240.8,340.3M237.7,337.2L239.3,341.1M236.2,337.8L238.0,342.2M234.7,338.3L237.1,344.4M233.3,338.9L235.0,343.6M231.8,339.4L233.2,343.5M230.3,339.9L231.9,344.9M228.7,340.4L230.0,344.4M227.2,340.9L229.1,347.2M225.7,341.4L226.8,345.3M224.2,341.8L224.9,344.4M222.6,342.2L223.6,345.9M221.1,342.6L222.3,347.6M219.6,343.0L220.2,345.9M218.0,343.3L219.1,348.5" stroke="#8c99ad" stroke-width="0.8" fill="none"/>
<path d="M248.2,333.3L251.8,340.0M227.5,341.9L231.5,354.8M221.3,343.6L223.5,352.2" stroke="#9aae92" stroke-width="0.9" fill="none"/>
<path d="M215.1,346.4 L213.8,346.6 L213.9,346.9 L212.6,347.1 L212.6,346.9 L211.3,347.1 L211.1,345.7 L209.8,345.9 L210.0,347.4 L208.8,347.6 L208.8,347.6 L207.5,347.8 L207.5,347.4 L206.2,347.5 L206.1,346.9 L204.8,347.0 L205.0,348.6 L203.7,348.7 L203.7,348.3 L202.4,348.4 L202.4,348.5 L201.1,348.6 L201.1,347.9 L199.8,348.0 L199.8,348.0 L198.5,348.1 L198.5,347.9 L197.3,348.0 L197.3,348.6 L196.0,348.6 L196.0,347.1 L194.7,347.1 L194.7,348.6 L193.4,348.6 L193.4,348.3 L192.2,348.3 L192.2,348.5 L190.9,348.5 L190.9,348.8 L189.6,348.8 L189.6,348.0 L188.3,348.0 L188.3,348.4 L187.0,348.3 L187.1,347.4 L185.8,347.3 L185.8,347.6 L184.5,347.5 L184.6,347.1 L183.3,347.0 L183.2,347.9 L181.9,347.8 L181.9,348.5 L180.6,348.3 L180.7,347.1 L179.5,347.0 L179.4,347.2 L178.2,347.1 L178.2,346.6 L177.0,346.4 L177.1,345.8 L175.8,345.6 L177.6,333.7 A106.3,106.3 0 0 0 212.6,333.0Z" fill="#a6d75b"/>
<path d="M213.9,340.3 L212.7,340.5 L212.7,340.4 L211.5,340.6 L211.6,341.0 L210.4,341.2 L210.4,341.2 L209.2,341.4 L209.2,341.4 L208.0,341.5 L207.9,341.2 L206.7,341.4 L206.7,341.4 L205.5,341.5 L205.6,342.0 L204.4,342.1 L204.3,342.0 L203.1,342.1 L203.2,342.4 L201.9,342.5 L201.9,341.8 L200.7,341.9 L200.7,342.3 L199.5,342.4 L199.5,342.1 L198.3,342.2 L198.3,341.9 L197.0,342.0 L197.0,342.0 L195.8,342.0 L195.8,342.0 L194.6,342.0 L194.6,342.5 L193.4,342.5 L193.4,342.4 L192.2,342.4 L192.2,342.4 L191.0,342.4 L191.0,342.2 L189.8,342.2 L189.8,342.4 L188.6,342.4 L188.5,342.7 L187.3,342.6 L187.3,342.7 L186.1,342.6 L186.1,342.2 L184.9,342.1 L184.9,342.1 L183.7,342.0 L183.7,342.1 L182.5,342.0 L182.5,341.5 L181.3,341.4 L181.3,341.5 L180.1,341.4 L180.1,341.7 L178.9,341.6 L178.8,341.9 L177.6,341.7 L177.6,341.7 L176.4,341.6 L177.6,333.7 A106.3,106.3 0 0 0 212.6,333.0Z" fill="#f8826f"/>
<path d="M213.8,344.1L214.5,347.8M212.3,344.4L213.3,350.0M210.8,344.6L211.4,348.4M209.2,344.9L209.6,347.1M207.7,345.1L208.1,348.3M206.2,345.3L206.6,349.5M204.6,345.4L205.1,350.0M203.1,345.6L203.4,349.9M201.5,345.7L201.9,351.0M200.0,345.8L200.2,349.6M198.4,345.9L198.6,348.9M196.9,345.9L197.0,350.2M195.3,346.0L195.4,350.8M193.8,346.0L193.8,351.2M192.2,346.0L192.2,351.3M190.6,346.0L190.6,349.9M189.1,345.9L188.9,351.4M187.5,345.9L187.4,349.3M186.0,345.8L185.8,349.2M184.4,345.7L184.1,349.8M182.9,345.6L182.7,347.8M181.3,345.4L181.0,349.1M179.8,345.3L179.4,348.8M178.2,345.1L177.7,349.3M176.7,344.9L176.3,347.9" stroke="#8c99ad" stroke-width="0.8" fill="none"/>
<path d="M203.2,346.6L204.1,357.5" stroke="#9aae92" stroke-width="0.9" fill="none"/>
<path d="M173.1,345.4 L171.8,345.2 L171.9,345.0 L170.6,344.7 L170.5,345.2 L169.2,345.0 L169.1,345.7 L167.8,345.4 L167.8,345.4 L166.5,345.1 L166.5,345.3 L165.2,345.0 L165.4,344.2 L164.1,343.9 L164.4,342.7 L163.1,342.4 L162.9,343.4 L161.6,343.1 L161.7,342.9 L160.4,342.5 L160.3,342.9 L159.0,342.5 L159.0,342.6 L157.8,342.2 L157.6,342.7 L156.4,342.3 L156.5,341.8 L155.3,341.4 L154.9,342.4 L153.7,342.0 L153.8,341.7 L152.5,341.3 L152.5,341.4 L151.3,341.0 L151.2,341.1 L150.0,340.6 L149.9,340.9 L148.6,340.4 L148.7,340.2 L147.5,339.7 L152.7,326.9 A106.3,106.3 0 0 0 175.2,333.3Z" fill="#a6d75b"/>
<path d="M173.9,340.6 L172.7,340.4 L172.6,340.9 L171.4,340.6 L171.4,340.6 L170.2,340.4 L170.3,339.8 L169.0,339.6 L169.0,339.8 L167.8,339.6 L167.7,339.8 L166.5,339.5 L166.5,339.4 L165.3,339.1 L165.4,338.8 L164.2,338.5 L164.1,338.9 L162.8,338.6 L163.0,338.2 L161.7,337.9 L161.7,337.9 L160.5,337.5 L160.7,337.1 L159.5,336.8 L159.5,336.6 L158.3,336.2 L158.4,336.1 L157.2,335.7 L157.0,336.1 L155.9,335.7 L155.7,336.1 L154.6,335.7 L154.6,335.6 L153.4,335.1 L153.5,334.9 L152.4,334.4 L152.3,334.5 L151.2,334.1 L151.1,334.2 L149.9,333.7 L152.7,326.9 A106.3,106.3 0 0 0 175.2,333.3Z" fill="#f8826f"/>
<path d="M172.5,344.2L172.0,347.3M170.9,343.9L170.6,345.4M169.3,343.6L168.9,345.7M167.8,343.3L166.8,347.5M166.2,342.9L165.3,346.5M164.6,342.5L164.0,345.0M163.0,342.1L162.7,343.4M161.5,341.7L160.4,345.5M159.9,341.3L159.4,343.2M158.4,340.8L157.8,342.8M156.8,340.3L155.7,343.8M155.3,339.8L154.1,343.4M153.8,339.3L152.3,343.4M152.3,338.7L150.8,342.8M150.8,338.1L149.4,341.6M149.3,337.6L147.0,343.2" stroke="#8c99ad" stroke-width="0.8" fill="none"/>
<path d="M145.0,338.6 L143.8,338.0 L143.9,337.7 L142.7,337.2 L143.0,336.6 L141.8,336.0 L141.7,336.2 L140.5,335.6 L140.2,336.1 L139.0,335.5 L139.2,335.1 L138.0,334.5 L137.8,334.9 L136.6,334.3 L143.0,322.3 A106.3,106.3 0 0 0 150.5,325.9Z" fill="#a6d75b"/>
<path d="M147.6,332.7 L146.4,332.2 L146.4,332.1 L145.3,331.6 L145.3,331.6 L144.1,331.1 L144.1,331.1 L143.0,330.5 L143.1,330.4 L141.9,329.8 L141.9,329.8 L140.8,329.2 L140.9,329.0 L139.8,328.4 L143.0,322.3 A106.3,106.3 0 0 0 150.5,325.9Z" fill="#f8826f"/>
<path d="M145.1,336.1L143.7,339.1M143.4,335.3L141.8,338.8M141.7,334.6L140.7,336.7M140.1,333.7L138.7,336.5M138.4,332.9L136.7,336.1" stroke="#8c99ad" stroke-width="0.8" fill="none"/>
<path d="M134.4,332.8 L133.4,332.2 L133.8,331.5 L132.9,330.9 L132.4,331.7 L131.5,331.2 L131.4,331.3 L130.4,330.8 L137.5,319.2 A106.3,106.3 0 0 0 140.9,321.2Z" fill="#a6d75b"/>
<path d="M137.2,327.8 L136.3,327.2 L136.4,327.1 L135.5,326.6 L135.2,326.9 L134.3,326.4 L134.5,326.1 L133.6,325.6 L137.5,319.2 A106.3,106.3 0 0 0 140.9,321.2Z" fill="#f8826f"/>
<path d="M134.6,330.8L133.5,332.9M133.4,330.1L131.7,333.1M132.2,329.4L130.6,332.0" stroke="#8c99ad" stroke-width="0.8" fill="none"/>
<path d="M128.0,329.6 L126.9,328.9 L127.0,328.8 L125.9,328.1 L126.5,327.3 L125.4,326.6 L124.7,327.7 L123.6,327.0 L131.8,315.4 A106.3,106.3 0 0 0 135.5,317.9Z" fill="#a6d75b"/>
<path d="M131.5,324.1 L130.5,323.5 L130.4,323.6 L129.4,323.0 L129.3,323.0 L128.4,322.4 L128.4,322.2 L127.5,321.6 L131.8,315.4 A106.3,106.3 0 0 0 135.5,317.9Z" fill="#f8826f"/>
<path d="M128.6,327.1L125.8,331.3M127.2,326.2L125.5,328.8M125.9,325.3L124.6,327.1" stroke="#8c99ad" stroke-width="0.8" fill="none"/>
<path d="M121.4,325.4 L120.4,324.6 L120.8,324.1 L119.8,323.3 L119.5,323.7 L118.5,322.9 L119.0,322.4 L118.0,321.6 L117.6,322.1 L116.6,321.3 L116.1,321.9 L115.2,321.1 L114.6,321.7 L113.7,320.9 L113.9,320.6 L112.9,319.8 L113.1,319.7 L112.1,318.8 L111.9,319.0 L111.0,318.1 L110.7,318.5 L109.7,317.6 L110.3,317.1 L109.3,316.2 L110.0,315.5 L109.1,314.6 L109.2,314.5 L108.3,313.6 L108.6,313.3 L107.7,312.4 L107.7,312.5 L106.8,311.6 L106.5,311.9 L105.6,311.0 L105.2,311.3 L104.4,310.4 L104.3,310.5 L103.4,309.6 L103.4,309.6 L102.5,308.7 L102.7,308.5 L101.9,307.5 L101.6,307.8 L100.8,306.8 L100.5,307.1 L99.6,306.1 L99.5,306.2 L98.7,305.2 L98.3,305.6 L97.5,304.6 L98.2,304.1 L97.4,303.1 L97.7,302.8 L96.9,301.8 L96.1,302.4 L95.3,301.4 L95.7,301.2 L94.9,300.1 L95.0,300.1 L94.2,299.1 L94.6,298.8 L93.9,297.7 L93.5,298.0 L92.7,297.0 L93.2,296.7 L92.5,295.6 L93.0,295.3 L92.3,294.2 L92.1,294.4 L91.4,293.3 L91.5,293.2 L90.9,292.2 L90.2,292.6 L89.6,291.5 L89.9,291.3 L89.2,290.2 L89.1,290.3 L88.5,289.2 L88.6,289.1 L88.0,288.0 L87.8,288.1 L87.2,287.0 L87.6,286.8 L86.9,285.7 L86.2,286.1 L85.6,285.0 L86.6,284.4 L86.0,283.3 L86.0,283.4 L85.4,282.2 L85.6,282.2 L85.0,281.0 L84.3,281.4 L83.8,280.2 L83.8,280.2 L83.2,279.1 L83.0,279.2 L82.5,278.0 L82.8,277.9 L82.3,276.7 L82.7,276.6 L82.2,275.4 L82.6,275.2 L82.1,274.1 L81.9,274.2 L81.4,273.0 L81.4,273.0 L80.9,271.8 L80.5,272.0 L80.0,270.8 L79.7,270.9 L79.3,269.7 L78.8,269.9 L78.4,268.7 L78.8,268.6 L78.4,267.4 L78.9,267.2 L78.5,266.0 L79.0,265.9 L78.6,264.7 L78.2,264.8 L77.8,263.6 L77.4,263.7 L77.0,262.5 L75.9,262.8 L75.6,261.6 L76.0,261.5 L75.7,260.2 L75.0,260.4 L74.7,259.2 L74.3,259.3 L74.0,258.0 L75.5,257.7 L75.2,256.4 L74.6,256.6 L74.3,255.3 L74.1,255.4 L73.8,254.1 L73.6,254.2 L73.3,252.9 L74.0,252.8 L73.7,251.5 L73.5,251.6 L73.3,250.3 L74.0,250.2 L73.8,249.0 L73.9,248.9 L73.7,247.7 L73.7,247.7 L73.5,246.4 L72.5,246.6 L72.3,245.3 L72.9,245.2 L72.8,244.0 L72.4,244.0 L72.3,242.8 L72.6,242.7 L72.5,241.5 L73.1,241.4 L73.0,240.1 L72.7,240.1 L72.6,238.9 L72.2,238.9 L72.1,237.7 L72.8,237.6 L72.7,236.3 L72.2,236.4 L72.1,235.1 L72.7,235.1 L72.6,233.8 L73.0,233.8 L72.9,232.5 L72.5,232.6 L72.4,231.3 L72.5,231.3 L72.5,230.0 L72.9,230.0 L72.9,228.8 L73.5,228.8 L73.5,227.5 L72.9,227.5 L72.9,226.3 L72.4,226.2 L72.4,225.0 L72.6,225.0 L72.7,223.7 L72.4,223.7 L72.4,222.5 L73.3,222.5 L73.4,221.2 L72.7,221.2 L72.7,219.9 L72.4,219.9 L72.5,218.6 L72.4,218.6 L72.5,217.4 L73.0,217.4 L73.1,216.2 L72.9,216.1 L73.0,214.9 L72.9,214.9 L73.1,213.6 L72.5,213.5 L72.6,212.3 L72.8,212.3 L73.0,211.0 L73.1,211.1 L73.2,209.8 L73.9,209.9 L74.1,208.7 L73.4,208.6 L73.7,207.3 L73.2,207.2 L73.4,206.0 L74.1,206.1 L74.4,204.9 L74.1,204.8 L74.3,203.5 L74.4,203.6 L74.6,202.3 L74.9,202.4 L75.2,201.1 L76.0,201.3 L76.3,200.1 L74.9,199.8 L75.2,198.5 L76.7,198.9 L77.0,197.7 L76.4,197.5 L76.8,196.3 L76.9,196.4 L77.2,195.1 L76.4,194.9 L76.8,193.7 L77.3,193.8 L77.6,192.6 L77.6,192.6 L78.0,191.4 L77.7,191.3 L78.1,190.1 L78.0,190.1 L78.4,188.9 L78.9,189.0 L79.3,187.9 L78.9,187.7 L79.3,186.5 L79.3,186.5 L79.7,185.3 L79.4,185.2 L79.8,184.0 L80.5,184.2 L81.0,183.1 L81.0,183.1 L81.5,181.9 L81.7,182.0 L82.2,180.8 L82.6,181.0 L83.1,179.8 L82.7,179.7 L83.2,178.5 L82.9,178.4 L83.4,177.2 L82.7,176.9 L83.3,175.7 L83.9,176.0 L84.4,174.9 L84.4,174.9 L84.9,173.7 L84.5,173.5 L85.1,172.4 L85.5,172.6 L86.1,171.5 L86.2,171.5 L86.8,170.4 L86.9,170.4 L87.5,169.3 L87.9,169.6 L88.5,168.5 L88.9,168.7 L89.5,167.6 L88.6,167.1 L89.3,166.0 L89.3,166.0 L90.0,164.9 L90.1,165.0 L90.8,163.9 L91.5,164.4 L92.1,163.3 L91.8,163.1 L92.5,162.0 L91.8,161.5 L92.5,160.5 L93.3,161.0 L94.0,160.0 L94.3,160.2 L95.0,159.2 L94.1,158.6 L94.9,157.5 L94.3,157.1 L95.1,156.1 L94.7,155.8 L95.5,154.8 L96.3,155.4 L97.1,154.4 L97.0,154.3 L97.7,153.3 L98.3,153.8 L99.1,152.8 L98.8,152.5 L99.6,151.5 L99.9,151.8 L100.7,150.8 L100.5,150.7 L101.3,149.7 L100.8,149.2 L101.6,148.2 L101.8,148.4 L102.6,147.4 L102.9,147.7 L103.8,146.8 L103.8,146.8 L104.7,145.9 L104.6,145.8 L105.5,144.9 L105.8,145.2 L106.7,144.3 L106.5,144.1 L107.4,143.2 L107.1,143.0 L108.0,142.1 L107.5,141.6 L108.4,140.7 L109.7,142.0 L110.6,141.1 L110.9,141.4 L111.8,140.5 L111.9,140.7 L112.8,139.8 L112.1,139.0 L113.0,138.1 L112.0,137.0 L113.0,136.1 L113.4,136.6 L114.3,135.8 L114.5,136.0 L115.5,135.2 L115.2,134.9 L116.2,134.0 L117.4,135.5 L118.4,134.8 L118.2,134.5 L119.2,133.7 L120.1,134.9 L121.1,134.2 L120.4,133.2 L121.4,132.5 L121.3,132.3 L122.3,131.6 L122.2,131.5 L123.2,130.7 L122.9,130.3 L124.0,129.6 L124.1,129.8 L125.1,129.1 L124.7,128.3 L125.7,127.6 L125.8,127.8 L126.9,127.1 L126.8,127.0 L127.9,126.3 L127.2,125.2 L128.3,124.5 L128.8,125.5 L129.9,124.8 L129.8,124.6 L130.9,123.9 L131.4,124.7 L132.4,124.1 L132.0,123.4 L133.2,122.7 L133.0,122.6 L134.2,121.9 L134.3,122.3 L135.5,121.7 L135.3,121.4 L136.4,120.8 L136.2,120.3 L137.3,119.7 L137.3,119.6 L138.4,119.0 L138.7,119.7 L139.9,119.2 L140.1,119.5 L141.2,119.0 L141.0,118.5 L142.2,118.0 L142.7,119.2 L143.9,118.7 L143.9,118.8 L145.1,118.3 L144.8,117.7 L146.0,117.2 L145.9,116.9 L147.0,116.4 L146.7,115.5 L147.9,115.1 L147.7,114.7 L148.9,114.2 L149.1,114.8 L150.3,114.4 L150.4,114.6 L151.6,114.2 L152.0,115.3 L153.2,114.9 L153.2,114.8 L154.4,114.4 L154.3,114.1 L155.5,113.7 L155.5,113.8 L156.7,113.4 L156.7,113.3 L157.9,112.9 L157.8,112.6 L159.0,112.2 L159.2,112.9 L160.4,112.6 L160.5,112.7 L161.7,112.4 L161.9,113.2 L163.1,112.8 L162.7,111.5 L164.0,111.2 L164.1,111.8 L165.4,111.5 L165.5,112.2 L166.7,112.0 L166.5,110.9 L167.7,110.6 L167.7,110.6 L169.0,110.4 L171.8,124.3 A106.3,106.3 0 0 0 129.8,314.0Z" fill="#a6d75b"/>
<path d="M126.3,318.8 L125.3,318.1 L125.1,318.4 L124.2,317.7 L123.9,318.0 L123.0,317.3 L123.1,317.1 L122.2,316.4 L122.4,316.1 L121.5,315.3 L121.4,315.5 L120.5,314.8 L120.4,314.9 L119.5,314.1 L119.4,314.2 L118.5,313.4 L118.7,313.3 L117.8,312.5 L117.8,312.5 L116.9,311.7 L116.8,311.8 L116.0,311.0 L115.8,311.1 L115.0,310.3 L114.6,310.7 L113.8,309.8 L113.8,309.8 L113.0,308.9 L113.2,308.7 L112.3,307.9 L112.8,307.5 L111.9,306.6 L111.7,306.9 L110.9,306.0 L110.9,306.0 L110.1,305.2 L110.1,305.2 L109.3,304.3 L109.4,304.1 L108.6,303.3 L108.4,303.4 L107.7,302.5 L108.0,302.3 L107.2,301.4 L107.1,301.5 L106.3,300.6 L106.2,300.6 L105.5,299.7 L105.4,299.8 L104.7,298.9 L104.4,299.1 L103.7,298.1 L103.8,298.1 L103.0,297.1 L103.1,297.1 L102.3,296.2 L102.2,296.3 L101.5,295.3 L101.9,295.1 L101.2,294.1 L101.2,294.1 L100.5,293.1 L100.5,293.2 L99.8,292.2 L99.6,292.3 L98.9,291.3 L99.1,291.2 L98.5,290.2 L98.3,290.3 L97.6,289.4 L97.6,289.4 L97.0,288.4 L97.3,288.2 L96.7,287.2 L96.9,287.0 L96.3,286.0 L96.5,285.9 L95.9,284.9 L95.7,285.0 L95.1,284.0 L94.9,284.1 L94.3,283.1 L94.1,283.2 L93.6,282.1 L93.4,282.2 L92.8,281.2 L93.0,281.1 L92.4,280.0 L92.2,280.2 L91.7,279.1 L91.6,279.2 L91.1,278.1 L91.1,278.1 L90.5,277.0 L90.5,277.0 L90.0,275.9 L90.4,275.8 L89.9,274.7 L89.8,274.7 L89.4,273.6 L89.6,273.5 L89.1,272.5 L89.3,272.4 L88.9,271.3 L88.8,271.3 L88.4,270.2 L88.2,270.3 L87.8,269.2 L87.8,269.2 L87.3,268.1 L87.4,268.1 L87.0,267.0 L87.1,266.9 L86.7,265.8 L86.6,265.8 L86.2,264.7 L86.3,264.7 L85.9,263.6 L86.1,263.5 L85.8,262.4 L85.6,262.4 L85.2,261.3 L84.8,261.4 L84.5,260.3 L84.6,260.3 L84.3,259.1 L84.5,259.1 L84.2,257.9 L83.8,258.0 L83.5,256.9 L83.1,257.0 L82.9,255.8 L83.1,255.8 L82.8,254.6 L82.9,254.6 L82.6,253.4 L82.6,253.4 L82.4,252.3 L81.8,252.4 L81.5,251.3 L81.7,251.2 L81.5,250.0 L81.4,250.1 L81.2,248.9 L81.3,248.9 L81.1,247.7 L81.7,247.6 L81.5,246.4 L81.7,246.4 L81.5,245.2 L81.7,245.2 L81.6,244.0 L81.3,244.1 L81.2,242.9 L81.1,242.9 L80.9,241.7 L80.5,241.8 L80.3,240.6 L80.5,240.6 L80.4,239.4 L80.3,239.4 L80.2,238.2 L80.3,238.2 L80.2,237.0 L80.2,237.0 L80.1,235.9 L79.6,235.9 L79.5,234.7 L79.7,234.7 L79.6,233.5 L79.4,233.5 L79.4,232.3 L79.3,232.3 L79.2,231.1 L79.6,231.1 L79.6,229.9 L79.6,229.9 L79.6,228.8 L79.8,228.8 L79.8,227.6 L79.8,227.6 L79.8,226.4 L79.9,226.4 L79.9,225.2 L79.9,225.2 L80.0,224.0 L80.1,224.0 L80.2,222.8 L79.8,222.8 L79.9,221.6 L80.0,221.6 L80.1,220.5 L80.0,220.5 L80.1,219.3 L79.8,219.2 L79.9,218.1 L79.9,218.1 L80.0,216.9 L80.0,216.9 L80.1,215.7 L80.0,215.7 L80.1,214.5 L80.1,214.5 L80.2,213.3 L80.1,213.3 L80.2,212.1 L80.8,212.2 L81.0,211.0 L80.7,211.0 L80.9,209.8 L81.1,209.8 L81.3,208.6 L81.8,208.7 L82.0,207.6 L82.1,207.6 L82.4,206.4 L82.6,206.5 L82.9,205.3 L82.7,205.3 L83.0,204.2 L83.2,204.2 L83.5,203.1 L83.5,203.1 L83.8,201.9 L83.6,201.9 L83.9,200.7 L83.7,200.7 L84.0,199.5 L84.1,199.6 L84.4,198.4 L84.4,198.4 L84.7,197.3 L84.6,197.3 L85.0,196.1 L84.9,196.1 L85.2,195.0 L85.2,195.0 L85.6,193.8 L85.6,193.8 L85.9,192.7 L85.7,192.6 L86.1,191.5 L86.5,191.7 L86.9,190.5 L86.9,190.6 L87.3,189.4 L87.2,189.4 L87.6,188.3 L87.6,188.3 L88.1,187.2 L88.1,187.2 L88.6,186.1 L88.6,186.1 L89.0,185.0 L88.9,185.0 L89.3,183.9 L89.0,183.8 L89.5,182.7 L89.6,182.7 L90.1,181.6 L90.2,181.7 L90.7,180.6 L90.6,180.6 L91.1,179.5 L91.2,179.5 L91.7,178.5 L92.1,178.7 L92.6,177.6 L92.4,177.5 L93.0,176.5 L93.0,176.5 L93.5,175.4 L93.6,175.5 L94.1,174.4 L93.9,174.3 L94.5,173.3 L94.5,173.3 L95.1,172.2 L95.2,172.3 L95.8,171.3 L96.1,171.5 L96.8,170.5 L96.9,170.6 L97.5,169.6 L97.3,169.5 L98.0,168.5 L97.8,168.4 L98.5,167.4 L98.3,167.3 L98.9,166.3 L98.8,166.2 L99.5,165.2 L99.6,165.3 L100.2,164.3 L100.4,164.4 L101.1,163.5 L101.2,163.5 L101.9,162.6 L101.8,162.5 L102.5,161.6 L102.6,161.6 L103.3,160.7 L103.0,160.5 L103.7,159.6 L103.9,159.7 L104.7,158.8 L104.9,158.9 L105.6,158.0 L105.5,157.9 L106.2,157.0 L106.4,157.2 L107.2,156.3 L106.7,155.9 L107.5,155.0 L107.6,155.1 L108.4,154.2 L108.3,154.1 L109.1,153.2 L109.1,153.2 L109.8,152.3 L109.9,152.4 L110.7,151.6 L111.0,151.8 L111.8,150.9 L111.9,151.1 L112.7,150.2 L112.4,149.9 L113.2,149.1 L113.0,148.8 L113.8,148.0 L113.5,147.6 L114.3,146.8 L114.6,147.1 L115.5,146.3 L115.4,146.2 L116.3,145.4 L116.3,145.4 L117.2,144.6 L117.1,144.5 L117.9,143.7 L118.1,143.8 L119.0,143.1 L118.9,142.9 L119.8,142.2 L119.7,142.1 L120.6,141.3 L120.6,141.3 L121.5,140.5 L121.3,140.4 L122.3,139.6 L122.4,139.8 L123.3,139.0 L123.2,138.9 L124.1,138.1 L124.3,138.4 L125.3,137.7 L125.1,137.4 L126.1,136.7 L126.5,137.4 L127.5,136.7 L127.5,136.6 L128.4,136.0 L128.5,136.1 L129.5,135.4 L129.4,135.3 L130.4,134.7 L130.2,134.4 L131.2,133.8 L131.2,133.7 L132.1,133.0 L132.2,133.1 L133.2,132.4 L133.0,132.1 L134.0,131.5 L134.3,131.9 L135.3,131.3 L135.4,131.5 L136.4,130.9 L136.2,130.5 L137.2,130.0 L137.2,130.0 L138.3,129.4 L138.5,129.9 L139.6,129.3 L139.5,129.1 L140.5,128.6 L140.6,128.8 L141.7,128.2 L141.5,127.8 L142.5,127.3 L142.4,127.1 L143.5,126.6 L143.6,126.8 L144.7,126.3 L144.5,126.0 L145.6,125.5 L145.7,125.8 L146.8,125.3 L146.7,125.1 L147.8,124.6 L147.8,124.6 L148.9,124.1 L148.9,124.2 L150.0,123.8 L150.2,124.1 L151.3,123.7 L151.3,123.7 L152.4,123.3 L152.6,123.7 L153.7,123.3 L153.6,123.2 L154.7,122.8 L154.8,123.0 L155.9,122.7 L155.7,122.1 L156.9,121.8 L156.9,121.9 L158.0,121.5 L158.2,121.9 L159.3,121.6 L159.2,121.2 L160.3,120.8 L160.2,120.6 L161.4,120.3 L161.4,120.3 L162.5,120.0 L162.3,119.4 L163.5,119.1 L163.5,119.0 L164.6,118.7 L164.6,118.8 L165.8,118.5 L165.8,118.8 L167.0,118.5 L167.2,119.2 L168.3,118.9 L168.2,118.6 L169.4,118.3 L169.3,118.0 L170.5,117.8 L171.8,124.3 A106.3,106.3 0 0 0 129.8,314.0Z" fill="#f8826f"/>
<path d="M121.8,323.6L119.0,327.3M120.6,322.7L119.6,323.9M119.3,321.7L117.9,323.5M118.1,320.7L116.9,322.3M116.9,319.7L113.5,323.8M115.7,318.7L112.7,322.2M114.5,317.7L111.0,321.8M113.4,316.7L110.2,320.2M112.2,315.6L109.5,318.6M111.1,314.6L107.9,318.0M110.0,313.5L107.1,316.4M108.9,312.4L105.8,315.5M107.8,311.3L106.6,312.4M106.7,310.2L104.2,312.5M105.7,309.0L102.5,311.9M104.6,307.9L102.2,310.0M103.6,306.7L100.8,309.2M102.6,305.5L100.4,307.4M101.6,304.3L97.9,307.4M100.6,303.1L96.6,306.3M99.6,301.9L97.2,303.8M98.6,300.7L95.1,303.4M97.7,299.4L93.4,302.6M96.8,298.2L92.1,301.6M95.9,296.9L93.3,298.8M95.0,295.6L90.3,298.9M94.1,294.4L91.1,296.4M93.3,293.1L89.6,295.4M92.4,291.7L89.0,293.9M91.6,290.4L87.7,292.8M90.8,289.1L88.4,290.5M90.0,287.7L87.3,289.3M89.3,286.4L86.9,287.7M88.5,285.0L85.6,286.6M87.8,283.7L84.9,285.2M87.1,282.3L83.1,284.3M86.4,280.9L83.9,282.1M85.7,279.5L82.3,281.1M85.0,278.1L81.5,279.7M84.4,276.7L80.2,278.5M83.8,275.2L81.0,276.4M83.2,273.8L79.8,275.2M82.6,272.4L79.3,273.7M82.0,270.9L78.5,272.2M81.5,269.4L78.5,270.5M81.0,268.0L77.2,269.3M80.4,266.5L75.7,268.1M80.0,265.0L75.7,266.4M79.5,263.6L75.9,264.7M79.0,262.1L76.6,262.8M78.6,260.6L73.2,262.1M78.2,259.1L74.9,259.9M77.8,257.6L71.8,259.1M77.4,256.1L74.0,256.9M77.1,254.5L71.2,255.9M76.8,253.0L72.9,253.8M76.4,251.5L70.8,252.6M76.2,250.0L71.9,250.7M75.9,248.4L72.4,249.0M75.6,246.9L71.8,247.5M75.4,245.4L71.7,245.9M75.2,243.8L71.9,244.2M75.0,242.3L70.1,242.8M74.8,240.7L71.2,241.1M74.7,239.2L70.2,239.6M74.6,237.6L70.3,238.0M74.4,236.1L69.7,236.4M74.4,234.5L71.4,234.7M74.3,233.0L70.6,233.1M74.2,231.4L70.0,231.5M74.2,229.9L69.8,229.9M74.2,228.3L72.2,228.3M74.2,226.7L71.9,226.7M74.2,225.2L69.8,225.1M74.3,223.6L71.5,223.5M74.4,222.1L70.2,221.9M74.5,220.5L71.8,220.4M74.6,219.0L70.4,218.6M74.7,217.4L70.3,217.0M74.9,215.9L71.9,215.6M75.0,214.3L71.1,213.9M75.2,212.8L72.0,212.4M75.5,211.3L71.9,210.7M75.7,209.7L71.1,209.0M76.0,208.2L71.5,207.4M76.2,206.6L72.3,205.9M76.5,205.1L72.2,204.2M76.8,203.6L73.5,202.9M77.2,202.1L72.5,201.0M77.5,200.6L73.9,199.7M77.9,199.1L72.7,197.7M78.3,197.6L75.8,196.9M78.7,196.1L76.5,195.4M79.2,194.6L76.0,193.6M79.6,193.1L75.9,191.9M80.1,191.6L75.3,190.0M80.6,190.1L76.6,188.8M81.1,188.6L78.5,187.7M81.6,187.2L77.6,185.7M82.2,185.7L77.6,184.0M82.7,184.3L78.4,182.5M83.3,182.8L80.8,181.8M83.9,181.4L80.6,180.0M84.6,180.0L81.2,178.5M85.2,178.6L82.0,177.1M85.9,177.2L81.0,174.8M86.5,175.8L83.2,174.1M87.2,174.4L82.5,171.9M88.0,173.0L84.0,170.9M88.7,171.6L85.2,169.7M89.5,170.3L86.5,168.6M90.2,168.9L86.0,166.5M91.0,167.6L88.3,166.0M91.8,166.2L88.1,163.9M92.6,164.9L90.3,163.4M93.5,163.6L90.2,161.5M94.3,162.3L91.6,160.5M95.2,161.0L93.3,159.7M96.1,159.8L94.6,158.7M97.0,158.5L93.1,155.6M97.9,157.2L94.6,154.7M98.9,156.0L96.2,154.0M99.8,154.8L95.7,151.5M100.8,153.6L98.7,151.8M101.8,152.4L99.1,150.1M102.8,151.2L100.6,149.3M103.8,150.0L99.4,146.1M104.9,148.8L102.0,146.3M105.9,147.7L102.2,144.3M107.0,146.6L104.1,143.8M108.1,145.4L105.3,142.7M109.2,144.3L106.5,141.7M110.3,143.2L106.4,139.2M111.4,142.2L109.8,140.5M112.5,141.1L111.4,139.8M113.7,140.1L112.3,138.5M114.8,139.0L111.8,135.6M116.0,138.0L112.1,133.4M117.2,137.0L113.8,132.9M118.4,136.0L116.0,133.0M119.6,135.1L117.9,132.8M120.9,134.1L120.0,133.0M122.1,133.2L119.8,130.1M123.4,132.2L122.4,130.9M124.6,131.3L122.3,128.1M125.9,130.5L123.3,126.6M127.2,129.6L124.3,125.2M128.5,128.7L126.6,125.8M129.8,127.9L127.0,123.5M131.1,127.1L129.0,123.6M132.5,126.3L130.5,122.9M133.8,125.5L132.1,122.4M135.2,124.7L132.3,119.6M136.5,124.0L134.8,120.7M137.9,123.2L135.3,118.3M139.3,122.5L136.6,117.3M140.7,121.8L138.3,116.9M142.1,121.2L140.1,117.0M143.5,120.5L141.2,115.4M144.9,119.9L143.5,116.7M146.3,119.2L144.5,114.9M147.8,118.6L145.8,113.9M149.2,118.1L146.9,112.3M150.7,117.5L148.3,111.2M152.1,117.0L150.4,112.2M153.6,116.4L152.8,114.3M155.1,115.9L153.9,112.4M156.5,115.4L155.5,112.2M158.0,115.0L156.7,110.6M159.5,114.5L158.5,111.2M161.0,114.1L160.3,111.4M162.5,113.7L161.8,110.9M164.0,113.3L162.9,108.8M165.5,112.9L165.0,110.9M167.0,112.6L166.3,109.5M168.6,112.2L167.8,108.8" stroke="#8c99ad" stroke-width="0.8" fill="none"/>
<path d="M77.2,259.3L69.9,261.3M76.8,257.8L69.0,259.8" stroke="#9aae92" stroke-width="0.9" fill="none"/>
<path d="M203.4,153.8A75.4,75.4 0 0 1 239.5,169.1" fill="none" stroke="#55b0a0" stroke-width="0.9"/>
<path d="M205.2,140.8 L209.4,124.0 L207.6,144.9 L212.5,127.5 L211.4,141.2 L215.7,129.7 L214.5,141.9 L219.7,128.3 L216.3,146.9 L223.6,128.0 L219.8,145.9 L224.8,135.8 L222.7,146.8 L230.4,130.8 L225.3,148.4 L232.6,135.1 L227.8,150.3 L237.4,133.2 L231.3,149.9 L237.9,140.4 L233.0,153.3 L241.7,140.7 L237.9,150.8 L246.3,139.9 L237.2,157.8 L250.4,140.1 L239.3,159.9 L251.8,144.6 L243.4,159.2 L255.4,145.8 L245.8,161.0" stroke="#2aa5d8" stroke-width="1.5" fill="none" stroke-linejoin="miter" stroke-miterlimit="3"/>
<path d="M204.9,142.9 L209.0,134.7 L210.9,140.2 L215.3,133.8 L215.7,143.7 L219.8,139.7 L221.5,143.4 L226.8,137.1 L225.8,147.8 L232.7,138.8 L232.4,146.5 L236.5,144.6 L235.9,151.8 L242.7,145.6 L242.0,152.2 L245.5,152.2 L244.8,158.0 L250.7,154.8" stroke="#b2d874" stroke-width="1.2" fill="none" opacity="0.8"/>
<path d="M203.6,152.0 L205.2,149.1 L205.8,152.5 L207.5,149.8 L208.0,153.2 L210.7,145.8 L210.2,153.7 L213.1,146.6 L212.6,153.2 L214.8,149.5 L214.8,153.9 L218.1,147.0 L217.0,154.5 L219.7,150.0 L219.0,155.5 L221.7,151.7 L220.6,157.7 L223.9,152.6 L222.5,159.0 L224.9,156.2 L225.2,158.2 L227.7,155.7 L226.6,160.7 L231.0,154.5 L229.1,160.7 L233.5,154.9 L231.2,161.4 L234.1,158.8 L232.2,164.2 L238.6,156.0 L234.1,165.3 L240.1,158.3 L236.5,165.6 L241.5,160.6 L238.9,166.2 L241.8,164.2 L240.1,168.4" stroke="#e3121e" stroke-width="1.45" fill="none" stroke-linejoin="miter" stroke-miterlimit="3"/>
<path d="M207.6,123.5A106.0,106.0 0 0 1 258.3,145.0" fill="none" stroke="#4d55a8" stroke-width="1.2"/>
<path d="M240.8,170.2A75.4,75.4 0 0 1 264.5,204.6" fill="none" stroke="#55b0a0" stroke-width="0.9"/>
<path d="M248.2,161.1 L257.6,152.5 L248.3,165.7 L259.7,155.3 L250.1,168.1 L262.1,157.9 L253.4,168.9 L266.6,158.4 L254.7,171.7 L268.8,161.2 L258.2,172.7 L274.7,161.0 L260.3,174.8 L276.8,164.1 L262.1,177.2 L273.4,171.0 L264.6,179.2 L275.0,174.2 L263.6,183.4 L276.3,177.4 L268.6,183.9 L285.2,176.3 L268.2,187.7 L281.9,182.2 L269.7,190.3 L283.5,185.4 L272.8,192.2 L285.3,188.4 L270.3,196.5 L290.7,190.1 L274.3,198.2 L284.5,196.2 L277.3,200.4" stroke="#2aa5d8" stroke-width="1.5" fill="none" stroke-linejoin="miter" stroke-miterlimit="3"/>
<path d="M249.8,159.2 L254.6,157.7 L253.5,163.0 L261.9,158.3 L256.4,167.5 L263.0,165.1 L259.5,171.7 L267.4,168.7 L264.2,174.6 L272.0,172.4 L268.5,178.1 L271.2,179.7 L268.8,184.2 L278.9,181.7 L273.2,187.8 L279.6,187.7 L275.0,192.8 L280.0,193.6 L278.2,197.3 L283.5,198.3" stroke="#b2d874" stroke-width="1.2" fill="none" opacity="0.8"/>
<path d="M241.4,169.5 L246.5,165.1 L243.8,170.1 L245.8,169.5 L244.9,172.2 L249.1,169.3 L246.6,173.6 L253.6,168.2 L247.7,175.6 L252.5,172.5 L249.1,177.3 L254.0,174.4 L251.9,177.8 L256.5,175.4 L253.2,179.6 L255.9,178.9 L253.1,182.5 L256.7,181.1 L254.5,184.2 L258.1,183.0 L256.9,185.2 L264.3,181.6 L258.6,186.7 L260.8,186.7 L258.0,189.7 L265.9,186.4 L258.9,191.7 L267.9,188.1 L262.1,192.5 L264.1,192.7 L260.7,195.6 L269.1,192.9 L262.0,197.5 L266.7,196.6 L264.9,198.6 L268.7,198.3 L264.3,201.2 L268.9,200.7 L266.6,202.8 L272.6,201.9" stroke="#e3121e" stroke-width="1.45" fill="none" stroke-linejoin="miter" stroke-miterlimit="3"/>
<path d="M260.2,146.5A106.0,106.0 0 0 1 293.6,195.0" fill="none" stroke="#4d55a8" stroke-width="1.2"/>
<path d="M265.0,206.3A75.4,75.4 0 0 1 266.4,245.8" fill="none" stroke="#55b0a0" stroke-width="0.9"/>
<path d="M272.9,203.8 L289.3,200.6 L278.0,205.5 L287.6,204.7 L277.2,208.9 L294.0,206.9 L274.2,212.6 L292.5,210.9 L280.3,214.6 L294.3,214.2 L278.2,218.0 L297.5,217.5 L279.7,220.9 L292.9,221.6 L278.4,224.1 L298.6,224.9 L281.9,227.0 L298.4,228.6 L279.7,230.1 L291.2,232.1 L276.7,233.1 L293.3,235.7 L280.3,236.4 L289.5,238.9 L280.8,239.5 L296.2,243.3 L278.3,242.3 L288.5,245.7 L279.8,245.7 L291.5,249.9 L278.2,248.6" stroke="#2aa5d8" stroke-width="1.5" fill="none" stroke-linejoin="miter" stroke-miterlimit="3"/>
<path d="M277.9,202.3 L286.4,202.8 L278.6,207.8 L289.6,208.3 L282.4,212.7 L290.4,214.4 L281.5,218.5 L286.2,220.9 L280.8,224.1 L286.1,226.8 L283.5,229.7 L290.2,232.8 L282.7,235.3 L290.0,238.9 L283.1,241.0 L288.1,244.7 L278.8,245.9 L287.5,250.7" stroke="#b2d874" stroke-width="1.2" fill="none" opacity="0.8"/>
<path d="M265.6,206.1 L272.9,205.1 L266.8,208.1 L271.3,208.1 L268.6,210.0 L275.2,209.6 L268.1,212.4 L276.7,211.9 L269.5,214.5 L271.5,215.3 L268.1,217.0 L272.0,217.6 L269.7,219.1 L273.3,219.8 L268.1,221.5 L275.2,222.1 L269.9,223.6 L273.8,224.6 L270.8,225.9 L279.0,226.8 L270.5,228.1 L277.3,229.4 L269.3,230.4 L278.6,231.9 L270.2,232.7 L272.8,234.0 L270.7,235.0 L275.4,236.7 L269.5,237.2 L274.0,238.9 L267.5,239.2 L276.8,241.8 L269.6,241.8 L270.9,243.2 L268.6,244.0 L275.1,246.6 L266.7,245.9" stroke="#e3121e" stroke-width="1.45" fill="none" stroke-linejoin="miter" stroke-miterlimit="3"/>
<path d="M294.3,197.2A106.0,106.0 0 0 1 296.2,252.8" fill="none" stroke="#4d55a8" stroke-width="1.2"/>
<path d="M266.0,247.4A75.4,75.4 0 0 1 252.0,275.4" fill="none" stroke="#55b0a0" stroke-width="0.9"/>
<path d="M273.8,249.5 L293.7,256.5 L272.9,252.2 L287.1,258.2 L274.8,255.9 L287.3,262.0 L271.4,257.9 L291.2,267.2 L272.5,261.5 L288.6,270.1 L269.8,263.5 L288.1,273.9 L268.3,266.1 L286.4,277.1 L269.5,270.0 L285.2,280.6 L269.1,273.3 L280.7,282.2 L266.0,274.9 L280.5,286.3 L263.8,277.1 L272.7,285.3 L264.9,281.6 L275.9,292.0 L261.6,283.0" stroke="#2aa5d8" stroke-width="1.5" fill="none" stroke-linejoin="miter" stroke-miterlimit="3"/>
<path d="M279.8,251.0 L282.1,254.7 L276.9,256.1 L284.7,262.0 L277.3,262.4 L283.1,268.1 L271.3,266.0 L278.6,272.9 L270.4,271.9 L273.7,277.2 L265.9,275.7 L268.6,281.0 L263.9,281.2 L267.4,287.5" stroke="#b2d874" stroke-width="1.2" fill="none" opacity="0.8"/>
<path d="M266.5,247.6 L271.6,250.2 L266.8,250.0 L269.6,252.1 L267.1,252.5 L274.3,256.2 L266.4,254.7 L269.5,257.1 L263.1,255.9 L267.5,258.9 L263.8,258.7 L268.8,262.2 L262.2,260.5 L270.2,265.6 L262.5,263.1 L267.3,267.0 L260.0,264.4 L268.0,270.2 L258.3,266.1 L260.9,268.9 L258.2,268.7 L260.3,271.4 L257.4,270.9 L263.7,276.5 L256.2,272.8 L258.0,275.6 L255.4,275.1 L257.3,278.0 L252.8,276.0" stroke="#e3121e" stroke-width="1.45" fill="none" stroke-linejoin="miter" stroke-miterlimit="3"/>
<path d="M295.6,255.1A106.0,106.0 0 0 1 276.0,294.4" fill="none" stroke="#4d55a8" stroke-width="1.2"/>
<path d="M251.0,276.7A75.4,75.4 0 0 1 231.0,293.6" fill="none" stroke="#55b0a0" stroke-width="0.9"/>
<path d="M261.6,285.6 L270.6,295.4 L259.2,287.6 L264.3,294.4 L253.7,286.6 L263.1,298.0 L254.9,292.1 L260.1,299.8 L253.2,294.7 L258.6,303.3 L250.6,296.5 L257.4,307.3 L245.6,295.2 L257.1,312.8 L243.6,297.5 L252.7,313.0 L239.7,297.1 L250.4,316.0 L241.0,304.5 L243.8,312.3 L237.4,304.6" stroke="#2aa5d8" stroke-width="1.5" fill="none" stroke-linejoin="miter" stroke-miterlimit="3"/>
<path d="M260.2,284.4 L262.0,289.7 L256.8,288.8 L260.8,296.8 L254.9,294.9 L258.1,303.0 L250.7,298.9 L251.5,304.6 L245.1,301.0 L244.5,305.1 L240.6,304.5 L241.1,310.9" stroke="#b2d874" stroke-width="1.2" fill="none" opacity="0.8"/>
<path d="M251.6,277.2 L257.8,284.0 L249.7,278.5 L252.3,282.3 L248.3,280.2 L252.4,285.7 L247.2,282.3 L251.1,287.8 L245.7,283.8 L247.8,287.7 L244.8,286.2 L247.0,290.4 L242.3,286.7 L244.7,291.3 L241.1,288.8 L244.9,295.6 L239.7,290.7 L242.0,295.8 L236.5,290.1 L240.1,297.2 L235.3,292.1 L236.9,296.8 L233.1,292.9 L234.3,297.1 L232.2,295.7" stroke="#e3121e" stroke-width="1.45" fill="none" stroke-linejoin="miter" stroke-miterlimit="3"/>
<path d="M274.5,296.3A106.0,106.0 0 0 1 246.4,320.1" fill="none" stroke="#4d55a8" stroke-width="1.2"/>
<path d="M229.5,294.5A75.4,75.4 0 0 1 208.5,302.3" fill="none" stroke="#55b0a0" stroke-width="0.9"/>
<path d="M235.5,305.3 L240.2,317.7 L230.8,303.2 L235.3,316.2 L227.8,304.3 L235.0,324.5 L226.5,309.2 L229.1,320.1 L223.4,310.2 L225.3,320.5 L220.1,310.4 L222.6,324.1 L216.2,308.5 L220.0,328.7 L214.3,313.8 L215.8,327.6 L210.3,310.5" stroke="#2aa5d8" stroke-width="1.5" fill="none" stroke-linejoin="miter" stroke-miterlimit="3"/>
<path d="M236.2,306.7 L236.0,312.6 L231.0,309.3 L229.2,312.8 L226.0,312.8 L223.4,314.3 L219.3,311.5 L218.5,319.2 L213.7,313.0 L211.9,318.2" stroke="#b2d874" stroke-width="1.2" fill="none" opacity="0.8"/>
<path d="M230.3,296.0 L233.5,304.3 L228.3,297.0 L228.8,300.7 L225.9,297.4 L227.1,302.7 L224.5,299.8 L226.9,308.5 L221.8,299.4 L222.2,303.4 L220.0,301.1 L220.1,304.9 L217.6,301.0 L217.5,304.6 L215.6,302.2 L216.3,309.1 L212.9,301.2 L214.0,309.8 L210.9,302.5 L210.5,305.9 L208.7,303.0" stroke="#e3121e" stroke-width="1.45" fill="none" stroke-linejoin="miter" stroke-miterlimit="3"/>
<path d="M244.3,321.3A106.0,106.0 0 0 1 214.9,332.2" fill="none" stroke="#4d55a8" stroke-width="1.2"/>
<path d="M206.9,302.6A75.4,75.4 0 0 1 182.1,303.1" fill="none" stroke="#55b0a0" stroke-width="0.9"/>
<path d="M209.1,314.7 L209.6,327.5 L206.0,315.4 L205.9,327.2 L203.0,317.8 L202.4,329.1 L199.2,310.8 L198.5,326.2 L196.3,316.4 L195.1,333.4 L193.1,315.8 L191.3,326.9 L189.8,317.5 L187.4,331.9 L187.0,311.6 L183.9,328.6 L183.5,315.5 L180.7,324.7 L181.0,310.4" stroke="#2aa5d8" stroke-width="1.5" fill="none" stroke-linejoin="miter" stroke-miterlimit="3"/>
<path d="M209.1,314.8 L207.8,325.4 L203.8,318.8 L201.0,321.7 L197.8,318.9 L194.9,325.8 L191.8,318.8 L188.6,324.1 L185.8,319.1 L182.2,324.0 L179.8,318.3" stroke="#b2d874" stroke-width="1.2" fill="none" opacity="0.8"/>
<path d="M207.1,304.0 L206.6,307.7 L204.8,303.7 L204.4,309.3 L202.4,303.7 L201.9,309.0 L200.2,304.5 L199.7,311.9 L197.9,304.3 L197.2,312.8 L195.7,305.1 L194.6,309.2 L193.4,304.7 L192.2,309.5 L191.0,306.0 L189.7,310.8 L188.8,304.8 L187.3,309.8 L186.4,305.5 L184.5,312.2 L184.1,305.4 L182.1,311.4 L181.8,304.8" stroke="#e3121e" stroke-width="1.45" fill="none" stroke-linejoin="miter" stroke-miterlimit="3"/>
<path d="M212.5,332.7A106.0,106.0 0 0 1 177.6,333.4" fill="none" stroke="#4d55a8" stroke-width="1.2"/>
<path d="M180.4,302.8A75.4,75.4 0 0 1 164.4,298.3" fill="none" stroke="#55b0a0" stroke-width="0.9"/>
<path d="M178.8,311.8 L174.9,324.4 L175.6,311.9 L171.4,323.4 L171.5,315.6 L166.8,326.9 L168.9,312.7 L162.0,329.8 L165.6,312.7 L160.6,322.2 L163.7,308.3 L157.6,319.9 L159.5,310.4" stroke="#2aa5d8" stroke-width="1.5" fill="none" stroke-linejoin="miter" stroke-miterlimit="3"/>
<path d="M178.0,316.9 L173.7,321.4 L172.0,313.8 L167.4,318.1 L165.6,312.6 L159.7,319.3 L158.7,312.2" stroke="#b2d874" stroke-width="1.2" fill="none" opacity="0.8"/>
<path d="M180.0,305.0 L177.4,312.1 L177.9,303.1 L174.6,312.3 L175.6,302.5 L172.1,311.4 L172.9,303.4 L169.6,310.5 L170.6,302.5 L167.3,308.8 L168.6,300.9 L165.6,305.6 L166.7,299.0 L163.2,304.6 L164.1,299.1" stroke="#e3121e" stroke-width="1.45" fill="none" stroke-linejoin="miter" stroke-miterlimit="3"/>
<path d="M175.2,333.0A106.0,106.0 0 0 1 152.9,326.6" fill="none" stroke="#4d55a8" stroke-width="1.2"/>
<path d="M162.9,297.6A75.4,75.4 0 0 1 157.5,295.0" fill="none" stroke="#55b0a0" stroke-width="0.9"/>
<path d="M157.8,309.4 L150.6,319.2 L153.8,306.9 L144.7,319.2" stroke="#2aa5d8" stroke-width="1.5" fill="none" stroke-linejoin="miter" stroke-miterlimit="3"/>
<path d="M158.3,308.2 L154.4,311.1 L153.1,308.4 L147.9,313.1" stroke="#b2d874" stroke-width="1.2" fill="none" opacity="0.8"/>
<path d="M162.6,298.2 L159.4,301.6 L160.0,296.8 L155.4,302.6 L157.6,295.0" stroke="#e3121e" stroke-width="1.45" fill="none" stroke-linejoin="miter" stroke-miterlimit="3"/>
<path d="M150.6,325.7A106.0,106.0 0 0 1 143.2,322.0" fill="none" stroke="#4d55a8" stroke-width="1.2"/>
<path d="M156.0,294.2A75.4,75.4 0 0 1 153.7,292.8" fill="none" stroke="#55b0a0" stroke-width="0.9"/>
<path d="M151.4,302.5 L141.5,317.6 L148.5,303.3 L139.9,315.3" stroke="#2aa5d8" stroke-width="1.5" fill="none" stroke-linejoin="miter" stroke-miterlimit="3"/>
<path d="M150.5,304.0 L146.6,308.7 L148.2,303.7 L143.8,309.0" stroke="#b2d874" stroke-width="1.2" fill="none" opacity="0.8"/>
<path d="M155.6,294.9 L148.8,304.9 L154.2,293.7 L148.7,301.0" stroke="#e3121e" stroke-width="1.45" fill="none" stroke-linejoin="miter" stroke-miterlimit="3"/>
<path d="M141.0,320.9A106.0,106.0 0 0 1 137.7,318.9" fill="none" stroke="#4d55a8" stroke-width="1.2"/>
<path d="M152.2,291.9A75.4,75.4 0 0 1 149.6,290.2" fill="none" stroke="#55b0a0" stroke-width="0.9"/>
<path d="M146.8,300.3 L139.2,309.6 L143.1,301.5 L132.9,313.9" stroke="#2aa5d8" stroke-width="1.5" fill="none" stroke-linejoin="miter" stroke-miterlimit="3"/>
<path d="M145.7,302.0 L139.3,309.5 L143.1,301.5 L136.1,309.4" stroke="#b2d874" stroke-width="1.2" fill="none" opacity="0.8"/>
<path d="M152.2,291.9 L147.9,296.6 L149.3,292.4 L144.1,297.9" stroke="#e3121e" stroke-width="1.45" fill="none" stroke-linejoin="miter" stroke-miterlimit="3"/>
<path d="M135.7,317.7A106.0,106.0 0 0 1 132.0,315.2" fill="none" stroke="#4d55a8" stroke-width="1.2"/>
<path d="M148.2,289.1A75.4,75.4 0 0 1 178.0,154.6" fill="none" stroke="#55b0a0" stroke-width="0.9"/>
<path d="M140.4,299.7 L133.5,306.3 L140.6,294.7 L127.1,308.9 L137.5,294.0 L123.0,308.3 L137.1,290.1 L123.8,302.4 L134.5,288.9 L124.3,297.0 L133.1,286.3 L121.5,295.3 L129.7,285.6 L116.9,294.9 L127.0,284.2 L115.8,291.5 L124.1,282.8 L112.0,290.1 L120.6,281.7 L112.6,285.5 L121.8,277.3 L108.3,284.5 L121.1,274.3 L103.6,283.4 L120.6,271.3 L101.7,280.4 L118.3,269.4 L104.4,275.0 L115.2,267.7 L101.0,273.0 L116.2,264.1 L103.6,268.1 L110.4,263.4 L99.9,266.1 L115.2,258.4 L96.2,263.8 L111.3,256.8 L98.0,259.6 L111.8,253.6 L92.4,257.8 L111.0,250.9 L95.3,253.4 L105.8,249.2 L95.0,250.0 L109.2,245.5 L96.2,246.4 L106.7,243.0 L91.0,243.9 L107.9,239.9 L92.9,240.2 L109.2,236.9 L89.1,237.1 L107.3,234.2 L88.5,233.7 L107.7,231.3 L89.3,230.2 L110.3,228.4 L94.0,226.8 L103.3,225.4 L89.9,223.3 L105.6,222.6 L91.8,220.0 L107.4,219.8 L94.9,216.9 L110.0,217.3 L91.2,213.0 L106.5,213.9 L95.3,210.3 L107.4,211.1 L97.1,207.3 L108.3,208.3 L97.5,204.0 L109.8,205.7 L97.1,200.5 L110.3,202.8 L99.7,197.8 L111.7,200.2 L96.6,193.2 L115.1,198.5 L100.5,191.0 L112.4,194.3 L99.8,187.1 L114.0,191.8 L99.3,183.0 L115.6,189.3 L105.4,182.3 L117.8,187.2 L102.1,176.7 L118.4,184.3 L104.5,174.0 L121.2,182.6 L108.7,172.6 L119.0,177.7 L107.8,167.9 L122.7,176.6 L115.1,169.1 L124.7,174.5 L117.7,166.9 L124.7,170.7 L113.3,158.7 L127.8,169.5 L120.4,160.5 L129.1,166.7 L123.3,158.7 L131.3,164.7 L123.5,154.1 L137.6,167.2 L123.8,149.3 L137.6,163.0 L126.8,147.5 L138.7,159.7 L131.2,147.5 L140.2,156.9 L135.7,147.9 L142.5,154.9 L137.7,145.0 L148.5,158.8 L140.6,143.2 L150.7,157.1 L144.6,143.7 L151.1,152.0 L147.3,141.7 L155.2,153.8 L149.5,138.8 L157.4,151.8 L150.2,132.1 L158.1,146.3 L153.6,131.2 L160.7,144.6 L158.3,133.6 L164.0,144.9 L161.9,133.9 L166.5,143.1 L163.7,128.2 L169.7,143.6 L168.4,132.5 L173.7,147.6 L170.2,125.5 L175.7,143.6" stroke="#2aa5d8" stroke-width="1.5" fill="none" stroke-linejoin="miter" stroke-miterlimit="3"/>
<path d="M140.1,300.1 L132.6,305.6 L137.6,295.2 L129.2,301.0 L132.8,293.1 L124.7,297.8 L129.2,289.6 L124.4,290.6 L124.0,287.5 L120.4,287.0 L121.6,282.8 L113.6,285.4 L120.7,277.3 L111.4,280.2 L117.4,273.5 L111.9,273.6 L115.7,268.7 L104.2,271.5 L112.9,264.5 L105.2,265.0 L110.3,260.1 L106.9,258.7 L107.5,255.8 L99.8,255.3 L105.5,251.0 L101.5,249.3 L107.6,245.4 L100.5,244.0 L104.2,240.8 L97.3,239.0 L105.3,235.6 L97.9,233.5 L106.3,230.6 L94.7,228.1 L104.7,225.6 L98.1,222.7 L103.4,220.4 L101.1,217.6 L104.3,215.4 L100.6,212.2 L104.8,210.3 L103.7,207.4 L108.6,206.0 L100.9,201.1 L109.0,200.9 L104.5,196.6 L110.3,196.0 L107.7,192.2 L112.9,191.6 L111.4,188.1 L113.5,186.3 L112.1,182.6 L115.9,181.8 L112.8,176.7 L119.6,178.1 L115.4,171.9 L124.5,175.5 L117.8,166.8 L127.0,171.1 L121.0,162.2 L128.6,165.7 L125.9,159.3 L132.2,162.1 L131.2,157.0 L136.5,159.3 L132.8,150.3 L142.0,158.1 L141.2,152.7 L145.4,154.4 L143.9,147.1 L150.4,153.0 L149.7,146.4 L153.2,147.4 L153.9,142.9 L159.2,148.6 L159.4,142.3 L163.1,144.8 L164.4,140.5 L168.1,143.7 L168.7,136.3 L173.0,142.6 L174.1,135.4" stroke="#b2d874" stroke-width="1.2" fill="none" opacity="0.8"/>
<path d="M146.9,290.9 L145.1,291.5 L146.6,287.8 L140.1,294.2 L144.6,286.9 L138.2,292.8 L143.0,285.5 L137.4,290.1 L140.9,284.6 L138.1,285.9 L140.0,282.4 L134.1,286.8 L137.1,282.3 L130.3,287.1 L137.2,279.2 L131.4,283.0 L135.4,278.0 L130.7,280.5 L132.9,277.3 L126.5,281.0 L133.3,274.2 L126.1,278.3 L130.3,273.8 L122.6,277.8 L129.1,272.0 L124.7,273.6 L128.9,269.5 L125.4,270.4 L127.5,267.9 L122.1,269.8 L126.3,266.1 L122.5,266.9 L125.5,264.1 L118.5,266.4 L124.1,262.4 L120.1,263.1 L124.4,259.9 L118.3,261.4 L123.7,257.8 L115.8,259.9 L121.7,256.3 L118.2,256.5 L120.3,254.6 L116.9,254.6 L119.8,252.5 L117.4,252.1 L119.3,250.3 L114.7,250.5 L119.6,248.0 L111.0,249.1 L117.6,246.3 L115.1,245.8 L116.8,244.3 L115.2,243.4 L118.5,241.7 L112.3,241.7 L118.3,239.6 L111.1,239.5 L117.3,237.6 L111.4,237.1 L117.2,235.4 L109.7,235.0 L115.8,233.4 L112.0,232.5 L116.6,231.2 L107.9,230.3 L115.7,229.1 L112.1,227.9 L116.6,226.9 L107.5,225.5 L116.3,224.7 L109.9,223.2 L115.5,222.5 L112.2,221.1 L118.0,220.6 L107.2,218.2 L116.5,218.2 L114.7,216.9 L117.5,216.2 L115.1,214.7 L118.9,214.3 L115.0,212.4 L119.2,212.2 L110.5,209.0 L119.4,210.0 L108.8,206.1 L120.3,208.1 L110.9,204.2 L118.9,205.4 L115.3,203.1 L120.3,203.6 L113.9,200.1 L122.1,201.9 L116.6,198.6 L122.6,199.8 L118.5,197.0 L122.1,197.3 L118.0,194.2 L123.8,195.7 L118.9,192.1 L124.9,193.9 L117.6,188.8 L124.8,191.3 L118.1,186.3 L126.0,189.5 L121.6,185.6 L127.5,187.9 L121.7,182.9 L128.2,185.8 L126.7,183.4 L131.0,185.0 L126.3,180.4 L131.2,182.5 L129.7,180.0 L132.4,180.8 L131.4,178.5 L134.4,179.6 L130.8,175.1 L135.1,177.3 L131.2,172.3 L137.0,176.2 L135.1,172.8 L138.0,174.1 L132.7,167.2 L140.6,173.7 L135.7,166.8 L141.0,171.0 L136.8,164.5 L143.3,170.3 L141.2,166.0 L144.3,168.1 L140.6,161.7 L147.2,168.3 L143.7,161.8 L149.0,167.2 L147.2,162.8 L149.6,164.2 L148.4,160.5 L152.3,164.4 L149.4,157.8 L153.9,163.0 L153.4,160.0 L156.3,162.9 L152.2,153.1 L158.1,161.8 L157.1,157.4 L159.4,159.6 L158.6,155.5 L161.5,159.1 L158.6,149.7 L163.0,157.0 L163.4,155.1 L165.1,156.6 L164.2,150.8 L167.3,156.2 L167.0,151.9 L169.2,155.1 L168.5,149.2 L171.4,154.7 L170.1,146.2 L173.7,154.9 L172.4,145.5 L175.7,154.4 L175.1,146.5 L177.6,153.0" stroke="#e3121e" stroke-width="1.45" fill="none" stroke-linejoin="miter" stroke-miterlimit="3"/>
<path d="M130.0,313.8A106.0,106.0 0 0 1 171.9,124.6" fill="none" stroke="#4d55a8" stroke-width="1.2"/>
<path d="M202.3,162.3 L203.3,162.5 L202.9,165.3 L203.9,165.4 L203.5,167.3 L204.5,167.5 L204.8,165.8 L205.7,166.0 L206.1,164.0 L207.1,164.2 L206.4,167.6 L207.3,167.8 L207.9,165.1 L208.9,165.3 L209.8,161.6 L210.8,161.9 L209.9,165.3 L210.8,165.6 L210.3,167.6 L211.2,167.8 L210.9,169.0 L211.8,169.3 L211.0,171.7 L211.9,171.9 L212.8,169.0 L213.7,169.3 L214.2,168.0 L215.1,168.3 L214.5,169.9 L215.4,170.3 L216.4,167.7 L217.3,168.0 L218.9,164.0 L219.9,164.4 L218.0,169.0 L218.9,169.3 L218.8,169.6 L219.6,170.0 L219.4,170.4 L220.3,170.8 L220.0,171.4 L220.9,171.8 L220.7,172.2 L221.6,172.6 L222.4,171.0 L223.3,171.4 L223.0,171.9 L223.9,172.3 L224.7,170.8 L225.6,171.3 L225.5,171.3 L226.4,171.8 L227.0,170.9 L227.8,171.4 L227.1,172.5 L228.0,173.0 L225.5,177.0 L226.3,177.5 L228.5,174.0 L229.3,174.6 L227.4,177.5 L228.2,178.1 L230.0,175.4 L230.8,175.9 L230.8,175.8 L231.6,176.4 L231.6,176.4 L232.4,177.0 L231.5,178.2 L232.3,178.8 L233.5,177.2 L234.2,177.8 L232.7,179.8 L233.4,180.4 L234.0,179.7 L234.7,180.4 L234.0,181.2 L234.7,181.8 L234.2,182.4 L234.9,183.0 L236.1,181.6 L236.8,182.3 L239.0,180.0 L239.7,180.7 L239.1,181.3 L239.8,182.0 L239.1,182.7 L239.8,183.4 L239.4,183.8 L240.1,184.5 L240.2,184.4 L240.8,185.1 L241.1,184.9 L241.7,185.6 L241.7,185.6 L242.4,186.3 L239.8,188.6 L240.4,189.3 L242.8,187.3 L243.4,188.0 L242.1,189.1 L242.7,189.8 L239.8,192.2 L240.3,192.9 L246.0,188.5 L246.6,189.3 L242.9,192.0 L243.5,192.8 L244.4,192.1 L244.9,192.9 L245.4,192.5 L246.0,193.3 L245.5,193.7 L246.0,194.4 L247.4,193.5 L248.0,194.3 L247.4,194.7 L247.9,195.5 L250.5,193.9 L251.0,194.7 L247.0,197.1 L247.5,197.9 L248.0,197.6 L248.5,198.4 L247.5,199.0 L248.0,199.8 L251.2,198.1 L251.7,198.9 L255.1,197.1 L255.6,198.1 L253.4,199.2 L253.8,200.1 L253.2,200.4 L253.6,201.3 L250.6,202.7 L251.0,203.6 L253.4,202.5 L253.8,203.4 L254.7,203.0 L255.1,203.9 L257.3,203.0 L257.7,203.9 L251.8,206.3 L252.1,207.2 L253.0,206.8 L253.4,207.7 L253.3,207.7 L253.6,208.6 L257.1,207.4 L257.5,208.4 L253.6,209.6 L253.9,210.5 L253.9,210.5 L254.2,211.4 L258.7,210.1 L258.9,211.1 L258.8,211.1 L259.1,212.1 L254.0,213.5 L254.2,214.4 L257.3,213.6 L257.5,214.6 L261.7,213.6 L261.9,214.6 L259.6,215.1 L259.8,216.1 L257.7,216.5 L257.8,217.5 L260.2,217.1 L260.4,218.1 L254.9,219.0 L255.0,219.9 L255.1,219.9 L255.3,220.8 L258.4,220.4 L258.5,221.4 L260.0,221.2 L260.2,222.2 L257.7,222.4 L257.8,223.4 L259.8,223.2 L259.9,224.2 L257.5,224.4 L257.6,225.4 L258.2,225.3 L258.2,226.3 L258.0,226.3 L258.1,227.3 L257.6,227.3 L257.6,228.2 L257.6,228.2 L257.6,229.2 L257.1,229.2 L257.1,230.2 L252.9,230.1 L252.9,231.0 L254.2,231.0 L254.2,231.9 L254.8,232.0 L254.8,232.9 L255.0,232.9 L254.9,233.8 L254.9,233.8 L254.8,234.7 L255.2,234.8 L255.1,235.7 L252.3,235.4 L252.2,236.3 L256.8,236.8 L256.6,237.8 L257.2,237.8 L257.1,238.8 L257.7,238.9 L257.5,239.8 L256.9,239.7 L256.8,240.7 L257.0,240.7 L256.9,241.7 L256.4,241.6 L256.2,242.5 L254.6,242.2 L254.4,243.1 L253.0,242.8 L252.8,243.7 L254.8,244.2 L254.6,245.1 L257.1,245.7 L256.9,246.7 L256.7,246.6 L256.4,247.6 L258.6,248.2 L258.3,249.2 L254.3,248.0 L254.0,248.9 L254.1,248.9 L253.8,249.8 L253.3,249.6 L253.0,250.5 L258.4,252.4 L258.1,253.4 L257.5,253.2 L257.2,254.1 L254.4,253.1 L254.1,254.0 L254.9,254.3 L254.5,255.3 L253.3,254.7 L252.9,255.6 L251.1,254.9 L250.7,255.7 L251.4,256.0 L251.0,256.9 L249.8,256.3 L249.4,257.1 L252.9,258.9 L252.5,259.8 L252.6,259.8 L252.1,260.7 L253.1,261.2 L252.6,262.1 L251.8,261.6 L251.3,262.5 L246.7,259.9 L246.2,260.7 L251.2,263.6 L250.7,264.5 L248.7,263.3 L248.2,264.1 L244.6,261.8 L244.1,262.6 L248.6,265.5 L248.0,266.3 L250.5,267.9 L249.9,268.8 L249.4,268.4 L248.8,269.3 L245.8,267.1 L245.2,267.9 L246.4,268.8 L245.8,269.6 L245.8,269.5 L245.2,270.3 L244.4,269.7 L243.8,270.5 L243.3,270.1 L242.7,270.8 L243.6,271.6 L243.0,272.3 L243.5,272.7 L242.8,273.5 L243.1,273.7 L242.4,274.5 L241.2,273.3 L240.5,274.0 L238.8,272.5 L238.2,273.1 L240.8,275.6 L240.1,276.3 L241.2,277.4 L240.5,278.1 L238.7,276.3 L238.0,276.9 L237.8,276.8 L237.1,277.5 L238.9,279.4 L238.2,280.1 L234.8,276.3 L234.1,276.9 L235.5,278.5 L234.8,279.2 L237.5,282.5 L236.8,283.1 L235.6,281.7 L234.8,282.4 L233.3,280.4 L232.5,281.0 L234.8,284.0 L234.0,284.6 L232.8,283.0 L232.0,283.6 L231.7,283.2 L230.9,283.8 L230.2,282.7 L229.4,283.2 L229.6,283.6 L228.8,284.1 L227.0,281.4 L226.3,281.9 L225.9,281.4 L225.2,281.9 L224.9,281.4 L224.1,281.9 L226.1,285.2 L225.3,285.7 L225.3,285.7 L224.4,286.2 L225.5,288.1 L224.6,288.6 L222.5,284.5 L221.6,285.0 L221.8,285.3 L221.0,285.7 L222.7,289.1 L221.8,289.6 L220.8,287.5 L219.9,287.9 L218.8,285.4 L217.9,285.8 L218.2,286.3 L217.3,286.7 L217.7,287.6 L216.9,288.0 L217.3,288.9 L216.4,289.3 L218.0,293.4 L217.0,293.8 L216.9,293.5 L216.0,293.8 L216.3,294.7 L215.3,295.0 L214.9,293.9 L214.0,294.2 L213.2,291.8 L212.3,292.1 L211.9,291.1 L211.0,291.3 L210.4,289.2 L209.5,289.5 L210.5,293.2 L209.6,293.5 L210.4,296.4 L209.4,296.7 L208.7,294.0 L207.8,294.3 L207.3,292.0 L206.3,292.3 L206.7,293.9 L205.7,294.1 L205.8,294.6 L204.9,294.7 L204.8,294.4 L203.8,294.5 L203.4,292.1 L202.5,292.2 L202.7,293.6 L201.7,293.7 L201.6,292.9 L200.7,293.0 L200.9,294.9 L199.9,295.0 L200.2,297.1 L199.2,297.2 L199.0,295.7 L198.0,295.8 L197.9,294.3 L197.0,294.4 L197.1,297.1 L196.1,297.2 L196.3,300.5 L195.2,300.6 L195.2,300.5 L194.2,300.5 L194.1,297.6 L193.1,297.6 L193.1,297.1 L192.1,297.1 L192.1,296.4 L191.1,296.4 L191.2,293.5 L190.3,293.5 L190.4,290.9 L189.5,290.8 L189.4,291.2 L188.5,291.1 L188.3,294.0 L187.4,293.9 L187.2,295.8 L186.2,295.7 L186.3,295.2 L185.3,295.1 L185.3,294.7 L184.4,294.6 L183.6,300.5 L182.5,300.4 L183.1,296.5 L182.1,296.4 L183.0,291.1 L182.1,290.9 L182.3,289.7 L181.4,289.5 L181.1,291.1 L180.2,290.9 L179.6,293.4 L178.7,293.2 L178.4,294.4 L177.5,294.1 L177.7,293.0 L176.8,292.8 L176.5,294.0 L175.5,293.8 L175.8,292.9 L174.8,292.6 L175.3,291.1 L174.4,290.8 L174.4,290.7 L173.5,290.4 L172.9,292.3 L172.0,292.0 L171.6,293.1 L170.6,292.8 L171.7,289.9 L170.8,289.6 L171.2,288.5 L170.3,288.1 L169.8,289.5 L168.9,289.1 L167.3,293.0 L166.4,292.6 L167.3,290.5 L166.4,290.2 L166.5,289.8 L165.6,289.4 L166.1,288.4 L165.2,288.0 L164.8,289.0 L163.9,288.5 L164.5,287.2 L163.7,286.8 L163.5,287.1 L162.7,286.7 L162.2,287.6 L161.3,287.1 L163.0,284.1 L162.2,283.6 L161.4,284.9 L160.6,284.5 L159.7,286.0 L158.9,285.5 L158.2,286.6 L157.3,286.1 L156.8,287.0 L155.9,286.5 L156.8,285.0 L156.0,284.5 L157.8,281.8 L157.1,281.3 L155.1,284.1 L154.3,283.6 L153.9,284.0 L153.1,283.5 L154.4,281.7 L153.7,281.1 L152.5,282.7 L151.7,282.0 L151.2,282.7 L150.4,282.1 L150.5,281.9 L149.7,281.3 L153.7,276.6 L153.0,276.0 L152.2,276.9 L151.5,276.3 L151.4,276.4 L150.8,275.7 L150.9,275.6 L150.2,275.0 L147.0,278.3 L146.3,277.6 L148.5,275.4 L147.8,274.7 L147.3,275.2 L146.7,274.5 L144.1,277.0 L143.4,276.3 L146.1,273.7 L145.5,273.0 L142.7,275.6 L142.0,274.8 L144.5,272.6 L143.9,271.9 L143.1,272.6 L142.4,271.8 L143.0,271.4 L142.4,270.6 L140.7,272.0 L140.0,271.2 L142.0,269.6 L141.4,268.9 L140.3,269.7 L139.7,268.9 L141.4,267.7 L140.8,267.0 L140.1,267.5 L139.6,266.7 L139.6,266.6 L139.0,265.9 L137.4,266.9 L136.9,266.1 L140.1,264.0 L139.6,263.2 L140.7,262.5 L140.3,261.7 L136.7,263.9 L136.2,263.1 L133.2,264.8 L132.7,263.9 L133.5,263.5 L133.0,262.6 L136.3,260.8 L135.8,259.9 L135.4,260.2 L134.9,259.3 L134.1,259.7 L133.6,258.9 L131.5,259.9 L131.0,259.0 L131.7,258.7 L131.3,257.8 L131.7,257.6 L131.3,256.6 L132.3,256.2 L132.0,255.3 L132.7,255.0 L132.4,254.1 L133.8,253.5 L133.5,252.6 L131.6,253.3 L131.3,252.4 L134.9,251.1 L134.5,250.2 L134.6,250.2 L134.3,249.3 L130.4,250.6 L130.1,249.7 L131.5,249.3 L131.2,248.3 L131.5,248.2 L131.3,247.3 L130.2,247.6 L130.0,246.7 L128.2,247.2 L128.0,246.2 L128.2,246.1 L128.0,245.2 L130.6,244.5 L130.4,243.6 L130.9,243.5 L130.7,242.6 L128.1,243.1 L128.0,242.1 L128.8,242.0 L128.7,241.0 L129.9,240.8 L129.8,239.8 L127.8,240.2 L127.6,239.2 L126.2,239.4 L126.1,238.4 L123.7,238.7 L123.6,237.7 L126.0,237.4 L125.9,236.4 L129.4,236.1 L129.3,235.1 L130.0,235.1 L129.9,234.1 L128.3,234.2 L128.3,233.3 L129.0,233.2 L129.0,232.3 L126.5,232.4 L126.5,231.4 L132.1,231.2 L132.1,230.3 L126.3,230.4 L126.3,229.4 L129.2,229.4 L129.2,228.5 L125.9,228.4 L125.9,227.4 L127.5,227.5 L127.5,226.5 L127.5,226.5 L127.5,225.5 L129.6,225.6 L129.7,224.7 L126.3,224.4 L126.4,223.5 L124.0,223.2 L124.1,222.2 L128.4,222.7 L128.5,221.7 L128.1,221.7 L128.2,220.7 L130.3,221.0 L130.5,220.1 L131.7,220.2 L131.8,219.3 L130.7,219.1 L130.9,218.2 L129.2,217.9 L129.4,217.0 L129.2,216.9 L129.3,216.0 L130.7,216.3 L130.9,215.3 L132.6,215.7 L132.8,214.8 L134.1,215.1 L134.3,214.3 L127.3,212.4 L127.6,211.5 L129.4,212.0 L129.6,211.0 L131.5,211.6 L131.8,210.7 L129.3,209.9 L129.6,208.9 L129.6,208.9 L129.9,208.0 L131.5,208.5 L131.8,207.6 L132.8,208.0 L133.1,207.1 L130.7,206.2 L131.1,205.3 L131.3,205.4 L131.7,204.5 L129.7,203.6 L130.0,202.7 L131.2,203.2 L131.6,202.3 L133.7,203.2 L134.1,202.3 L135.0,202.7 L135.4,201.9 L136.0,202.2 L136.4,201.3 L135.2,200.7 L135.6,199.8 L135.0,199.5 L135.5,198.7 L134.7,198.3 L135.2,197.4 L133.0,196.2 L133.5,195.3 L137.8,197.7 L138.2,196.9 L138.0,196.8 L138.5,196.0 L139.4,196.6 L139.9,195.8 L138.2,194.7 L138.8,193.9 L139.6,194.4 L140.2,193.7 L141.0,194.2 L141.5,193.4 L141.8,193.6 L142.3,192.9 L142.1,192.7 L142.7,192.0 L142.1,191.5 L142.7,190.8 L139.9,188.7 L140.5,187.9 L141.7,188.9 L142.4,188.1 L144.5,189.9 L145.1,189.2 L144.5,188.7 L145.2,188.0 L143.5,186.5 L144.1,185.8 L143.7,185.4 L144.3,184.6 L144.5,184.8 L145.2,184.1 L143.1,182.1 L143.8,181.4 L143.9,181.5 L144.7,180.8 L146.0,182.1 L146.7,181.4 L145.9,180.6 L146.6,179.9 L149.3,182.8 L150.0,182.1 L148.2,180.1 L148.9,179.4 L151.3,182.2 L152.0,181.5 L149.3,178.3 L150.1,177.7 L149.9,177.5 L150.7,176.9 L152.1,178.7 L152.9,178.1 L151.3,176.0 L152.1,175.4 L154.1,178.1 L154.9,177.5 L153.3,175.3 L154.1,174.7 L156.5,178.2 L157.3,177.7 L157.5,178.0 L158.3,177.5 L156.6,174.9 L157.4,174.4 L157.7,174.8 L158.5,174.3 L158.4,174.2 L159.3,173.7 L159.4,173.8 L160.2,173.3 L160.1,173.1 L160.9,172.6 L161.2,173.1 L162.0,172.6 L162.8,174.1 L163.6,173.6 L163.4,173.2 L164.3,172.8 L163.8,171.9 L164.7,171.5 L165.3,172.7 L166.1,172.3 L165.4,170.7 L166.3,170.3 L165.0,167.5 L165.9,167.1 L167.3,170.3 L168.2,169.9 L167.9,169.2 L168.8,168.8 L168.5,168.2 L169.5,167.8 L170.0,169.3 L170.9,169.0 L170.8,168.6 L171.7,168.3 L172.1,169.4 L173.0,169.1 L172.8,168.5 L173.7,168.2 L173.6,167.9 L174.5,167.6 L174.0,166.0 L175.0,165.7 L174.7,164.6 L175.6,164.3 L175.9,165.5 L176.9,165.2 L177.7,168.4 L178.6,168.2 L179.0,169.9 L179.9,169.7 L179.2,166.7 L180.2,166.5 L184.0,185.5 A45.0,45.0 0 1 0 199.2,185.0Z" fill="#eea024"/>
<path d="M200.7,173.9 L201.6,174.1 L201.6,173.8 L202.4,173.9 L202.1,175.8 L202.9,175.9 L203.3,173.9 L204.1,174.0 L204.4,172.4 L205.3,172.6 L205.0,174.0 L205.8,174.2 L205.8,174.2 L206.6,174.4 L206.3,175.5 L207.1,175.7 L207.3,175.0 L208.2,175.2 L208.3,174.8 L209.1,175.0 L209.3,174.4 L210.1,174.7 L209.7,175.9 L210.5,176.1 L210.5,176.2 L211.3,176.5 L211.2,176.5 L212.0,176.8 L212.1,176.6 L212.9,176.9 L213.6,175.0 L214.4,175.3 L214.1,176.1 L214.9,176.4 L214.8,176.7 L215.6,177.0 L215.4,177.5 L216.1,177.8 L216.4,177.1 L217.2,177.5 L217.9,175.9 L218.7,176.3 L218.6,176.5 L219.4,176.9 L219.5,176.7 L220.3,177.1 L219.4,178.8 L220.2,179.2 L220.5,178.6 L221.3,179.0 L221.0,179.4 L221.8,179.8 L222.1,179.2 L222.9,179.7 L223.0,179.5 L223.7,179.9 L223.6,180.1 L224.3,180.6 L223.3,182.1 L224.0,182.6 L224.3,182.2 L225.0,182.7 L224.8,182.9 L225.5,183.4 L225.9,182.9 L226.6,183.4 L226.5,183.4 L227.2,183.9 L227.7,183.3 L228.4,183.8 L227.4,185.1 L228.0,185.6 L227.9,185.8 L228.6,186.3 L228.8,186.0 L229.5,186.5 L229.8,186.1 L230.5,186.7 L230.3,186.9 L230.9,187.5 L231.0,187.3 L231.6,187.9 L231.7,187.8 L232.3,188.4 L232.9,187.8 L233.5,188.4 L233.2,188.7 L233.8,189.3 L233.8,189.3 L234.4,189.9 L233.3,191.0 L233.9,191.6 L232.8,192.5 L233.4,193.1 L233.5,193.0 L234.1,193.6 L235.2,192.6 L235.7,193.3 L234.7,194.1 L235.3,194.7 L236.4,193.8 L236.9,194.5 L237.1,194.3 L237.7,194.9 L237.8,194.8 L238.4,195.5 L238.0,195.7 L238.5,196.4 L238.5,196.4 L239.0,197.1 L239.8,196.5 L240.3,197.2 L240.4,197.1 L240.8,197.9 L240.7,198.0 L241.1,198.7 L240.7,198.9 L241.2,199.7 L241.4,199.5 L241.9,200.2 L242.6,199.8 L243.1,200.5 L242.7,200.7 L243.1,201.5 L242.7,201.7 L243.1,202.5 L242.3,202.9 L242.7,203.6 L243.2,203.4 L243.6,204.1 L243.1,204.3 L243.5,205.1 L242.9,205.4 L243.3,206.1 L244.5,205.5 L244.9,206.3 L244.5,206.5 L244.9,207.2 L243.7,207.7 L244.0,208.5 L244.3,208.3 L244.6,209.1 L246.6,208.3 L246.9,209.1 L246.5,209.3 L246.8,210.1 L245.8,210.5 L246.0,211.2 L245.7,211.4 L245.9,212.2 L247.0,211.8 L247.3,212.6 L247.6,212.5 L247.9,213.3 L247.9,213.3 L248.2,214.1 L247.9,214.2 L248.1,215.0 L248.5,214.9 L248.7,215.7 L249.6,215.5 L249.8,216.3 L249.5,216.4 L249.7,217.3 L249.1,217.4 L249.3,218.2 L248.0,218.5 L248.2,219.3 L248.9,219.2 L249.1,220.0 L250.3,219.8 L250.4,220.6 L250.4,220.6 L250.5,221.5 L249.0,221.7 L249.1,222.5 L249.5,222.5 L249.6,223.3 L250.6,223.2 L250.7,224.1 L249.7,224.2 L249.8,225.0 L250.2,225.0 L250.2,225.8 L251.0,225.8 L251.0,226.6 L251.7,226.6 L251.8,227.5 L249.7,227.6 L249.7,228.4 L248.5,228.4 L248.5,229.3 L249.5,229.2 L249.5,230.1 L250.3,230.1 L250.3,230.9 L249.9,230.9 L249.8,231.8 L249.9,231.8 L249.8,232.6 L249.6,232.6 L249.5,233.5 L250.6,233.5 L250.5,234.4 L248.5,234.2 L248.4,235.0 L249.3,235.1 L249.2,236.0 L248.4,235.9 L248.3,236.7 L248.4,236.7 L248.3,237.5 L247.7,237.4 L247.6,238.3 L247.8,238.3 L247.6,239.1 L248.4,239.2 L248.2,240.0 L248.6,240.1 L248.5,241.0 L250.0,241.3 L249.8,242.1 L249.1,241.9 L248.9,242.8 L248.9,242.8 L248.7,243.6 L248.8,243.6 L248.6,244.5 L248.5,244.4 L248.3,245.3 L249.1,245.5 L248.9,246.3 L248.3,246.2 L248.1,247.0 L247.8,246.9 L247.6,247.7 L247.2,247.6 L247.0,248.4 L246.9,248.4 L246.6,249.2 L246.5,249.2 L246.2,250.0 L246.9,250.2 L246.6,251.0 L246.3,250.9 L246.0,251.7 L245.8,251.6 L245.5,252.4 L245.4,252.4 L245.0,253.1 L245.5,253.3 L245.1,254.1 L244.5,253.8 L244.2,254.6 L244.8,254.9 L244.4,255.7 L243.8,255.3 L243.4,256.1 L243.9,256.4 L243.5,257.1 L244.5,257.7 L244.1,258.5 L243.5,258.1 L243.1,258.9 L242.6,258.6 L242.2,259.3 L241.2,258.7 L240.8,259.5 L241.5,259.9 L241.1,260.6 L241.0,260.6 L240.5,261.3 L241.0,261.6 L240.6,262.4 L239.8,261.9 L239.4,262.6 L239.7,262.8 L239.2,263.5 L240.2,264.2 L239.7,264.9 L239.3,264.6 L238.8,265.3 L238.2,264.8 L237.6,265.5 L236.8,264.8 L236.2,265.4 L236.5,265.7 L236.0,266.4 L236.6,266.8 L236.0,267.5 L236.2,267.7 L235.7,268.3 L234.8,267.5 L234.2,268.1 L233.9,267.8 L233.3,268.4 L233.1,268.3 L232.6,268.9 L232.5,268.8 L231.9,269.3 L232.2,269.7 L231.6,270.3 L232.1,270.7 L231.5,271.3 L232.5,272.5 L231.9,273.1 L231.6,272.7 L230.9,273.3 L231.4,273.8 L230.7,274.3 L229.4,272.8 L228.8,273.3 L229.7,274.4 L229.0,275.0 L229.1,275.1 L228.4,275.6 L228.3,275.5 L227.6,276.0 L227.7,276.1 L227.0,276.7 L227.0,276.6 L226.3,277.1 L226.8,277.9 L226.1,278.4 L225.9,278.1 L225.2,278.6 L224.0,276.8 L223.3,277.3 L222.7,276.4 L222.0,276.8 L223.1,278.5 L222.4,279.0 L222.2,278.7 L221.5,279.1 L222.0,279.9 L221.2,280.4 L220.8,279.7 L220.1,280.1 L219.8,279.5 L219.0,279.9 L219.0,279.8 L218.2,280.2 L218.4,280.6 L217.7,281.0 L217.7,281.1 L217.0,281.5 L216.7,281.0 L216.0,281.3 L216.2,281.9 L215.4,282.2 L215.6,282.6 L214.8,282.9 L214.4,282.0 L213.6,282.3 L213.4,281.7 L212.6,282.0 L212.3,281.1 L211.5,281.4 L211.8,282.1 L211.0,282.4 L211.2,283.0 L210.4,283.2 L210.3,283.0 L209.5,283.3 L209.5,283.2 L208.7,283.5 L208.8,283.8 L208.0,284.0 L208.1,284.3 L207.3,284.5 L207.4,285.1 L206.6,285.3 L206.7,285.7 L205.9,285.9 L205.9,285.9 L205.0,286.1 L205.1,286.5 L204.3,286.7 L204.0,285.4 L203.2,285.6 L203.3,286.1 L202.4,286.2 L202.5,286.3 L201.6,286.4 L201.5,285.4 L200.6,285.5 L200.6,285.3 L199.8,285.4 L199.8,286.1 L199.0,286.2 L199.0,286.3 L198.2,286.4 L198.1,285.4 L197.3,285.5 L197.3,285.5 L196.4,285.6 L196.5,287.2 L195.7,287.3 L195.7,287.5 L194.8,287.6 L194.8,287.1 L194.0,287.2 L194.0,287.9 L193.1,287.9 L193.1,286.6 L192.2,286.6 L192.3,286.4 L191.4,286.4 L191.4,287.2 L190.5,287.2 L190.6,286.6 L189.7,286.6 L189.8,285.7 L188.9,285.6 L188.9,286.5 L188.0,286.4 L187.9,287.6 L187.1,287.5 L187.3,285.0 L186.5,284.9 L186.4,285.7 L185.6,285.6 L185.7,284.9 L184.8,284.8 L184.8,285.2 L184.0,285.0 L184.1,284.4 L183.2,284.2 L182.8,286.9 L181.9,286.8 L182.1,285.7 L181.3,285.5 L181.3,285.5 L180.5,285.3 L180.6,284.7 L179.8,284.5 L179.9,284.0 L179.1,283.8 L179.1,284.0 L178.2,283.8 L178.1,284.3 L177.3,284.1 L176.9,285.5 L176.0,285.3 L176.2,284.9 L175.3,284.7 L175.1,285.4 L174.3,285.1 L174.8,283.6 L174.0,283.3 L174.0,283.4 L173.2,283.1 L173.3,282.8 L172.5,282.5 L172.9,281.5 L172.1,281.2 L170.8,284.4 L170.0,284.1 L170.5,282.9 L169.7,282.6 L169.8,282.4 L169.0,282.0 L169.4,281.2 L168.6,280.8 L168.8,280.6 L168.0,280.2 L168.2,279.7 L167.5,279.4 L166.9,280.5 L166.1,280.1 L166.3,279.8 L165.6,279.4 L165.6,279.3 L164.9,278.9 L164.7,279.1 L164.0,278.7 L164.5,277.9 L163.8,277.5 L163.4,278.0 L162.7,277.6 L162.7,277.6 L162.0,277.1 L161.8,277.5 L161.0,277.0 L161.3,276.7 L160.6,276.2 L160.5,276.3 L159.8,275.9 L159.6,276.2 L158.9,275.7 L158.5,276.1 L157.8,275.6 L158.4,274.8 L157.8,274.3 L157.3,274.9 L156.6,274.4 L157.3,273.5 L156.7,273.0 L156.6,273.1 L156.0,272.5 L155.8,272.7 L155.2,272.2 L155.1,272.3 L154.5,271.7 L155.8,270.3 L155.2,269.7 L155.0,269.8 L154.4,269.3 L154.0,269.8 L153.4,269.2 L152.5,270.0 L151.9,269.4 L152.4,269.0 L151.8,268.4 L150.8,269.3 L150.2,268.7 L151.6,267.4 L151.0,266.8 L150.6,267.2 L150.1,266.5 L149.6,266.9 L149.1,266.3 L149.2,266.2 L148.6,265.6 L148.5,265.6 L148.0,265.0 L147.5,265.3 L147.0,264.7 L147.8,264.0 L147.3,263.4 L146.9,263.7 L146.4,263.0 L145.9,263.4 L145.4,262.7 L145.9,262.3 L145.4,261.6 L147.0,260.5 L146.6,259.8 L146.7,259.8 L146.2,259.1 L146.0,259.2 L145.6,258.5 L145.6,258.4 L145.2,257.7 L144.3,258.3 L143.9,257.6 L144.2,257.4 L143.8,256.6 L141.8,257.8 L141.3,257.0 L141.6,256.9 L141.2,256.1 L142.6,255.4 L142.2,254.6 L142.3,254.6 L141.9,253.9 L140.6,254.4 L140.3,253.7 L140.2,253.7 L139.9,252.9 L141.1,252.4 L140.7,251.6 L139.9,252.0 L139.5,251.2 L140.2,250.9 L139.9,250.1 L138.3,250.7 L138.0,249.9 L139.1,249.5 L138.9,248.7 L138.6,248.8 L138.3,248.0 L138.2,248.0 L138.0,247.2 L138.7,247.0 L138.4,246.2 L138.5,246.1 L138.3,245.3 L137.4,245.6 L137.2,244.7 L137.2,244.7 L137.0,243.9 L137.4,243.8 L137.2,243.0 L137.1,243.0 L136.9,242.2 L135.8,242.4 L135.6,241.5 L135.7,241.5 L135.6,240.7 L135.9,240.6 L135.8,239.7 L136.1,239.7 L135.9,238.8 L137.5,238.6 L137.4,237.8 L136.9,237.8 L136.8,237.0 L137.0,237.0 L136.9,236.1 L136.1,236.2 L136.0,235.4 L136.6,235.3 L136.5,234.5 L136.0,234.5 L136.0,233.7 L136.9,233.6 L136.8,232.8 L135.8,232.8 L135.7,232.0 L136.4,232.0 L136.4,231.1 L136.2,231.1 L136.2,230.3 L135.7,230.3 L135.7,229.4 L136.1,229.4 L136.1,228.6 L136.0,228.6 L136.1,227.7 L135.2,227.7 L135.3,226.9 L134.3,226.8 L134.4,225.9 L136.6,226.1 L136.7,225.2 L137.1,225.3 L137.2,224.4 L136.2,224.4 L136.3,223.5 L135.6,223.4 L135.7,222.6 L136.4,222.7 L136.5,221.8 L136.5,221.8 L136.6,221.0 L136.8,221.0 L136.9,220.2 L135.1,219.9 L135.3,219.0 L136.3,219.2 L136.4,218.4 L137.6,218.6 L137.8,217.8 L138.7,218.0 L138.9,217.2 L139.1,217.2 L139.3,216.4 L137.5,216.0 L137.7,215.2 L138.1,215.3 L138.3,214.4 L136.7,214.0 L137.0,213.2 L137.2,213.2 L137.4,212.4 L137.7,212.5 L138.0,211.7 L137.9,211.7 L138.2,210.8 L138.1,210.8 L138.3,210.0 L138.2,209.9 L138.5,209.1 L139.8,209.6 L140.1,208.8 L140.4,208.9 L140.7,208.2 L140.9,208.2 L141.2,207.4 L140.8,207.3 L141.2,206.5 L141.2,206.5 L141.6,205.8 L142.3,206.1 L142.6,205.4 L142.6,205.3 L143.0,204.6 L141.3,203.7 L141.7,203.0 L140.6,202.4 L141.0,201.7 L142.5,202.4 L142.9,201.7 L142.8,201.6 L143.2,200.9 L143.4,201.0 L143.9,200.3 L144.5,200.7 L144.9,200.0 L144.3,199.5 L144.7,198.8 L144.9,198.9 L145.3,198.2 L144.3,197.5 L144.8,196.8 L145.0,197.0 L145.5,196.3 L146.1,196.7 L146.6,196.0 L148.4,197.3 L148.9,196.6 L148.2,196.1 L148.7,195.4 L147.7,194.7 L148.3,194.0 L148.8,194.4 L149.3,193.8 L148.6,193.2 L149.1,192.5 L148.9,192.3 L149.4,191.7 L150.7,192.8 L151.3,192.2 L151.0,192.0 L151.6,191.3 L151.2,191.0 L151.8,190.4 L151.3,189.9 L151.9,189.3 L152.0,189.4 L152.6,188.8 L152.8,189.0 L153.4,188.4 L153.6,188.6 L154.2,188.0 L154.3,188.1 L155.0,187.6 L154.8,187.5 L155.5,186.9 L156.0,187.4 L156.6,186.9 L156.0,186.2 L156.6,185.6 L156.8,185.9 L157.5,185.3 L157.1,184.9 L157.8,184.4 L158.1,184.8 L158.8,184.3 L158.5,184.0 L159.2,183.4 L159.2,183.4 L159.9,182.9 L159.6,182.5 L160.3,182.0 L160.3,182.0 L161.0,181.5 L160.8,181.2 L161.5,180.8 L161.9,181.3 L162.6,180.9 L162.8,181.1 L163.5,180.6 L163.6,180.9 L164.4,180.5 L164.8,181.2 L165.5,180.8 L165.3,180.5 L166.1,180.1 L165.5,179.1 L166.3,178.7 L166.1,178.4 L166.9,178.0 L167.4,178.9 L168.1,178.6 L168.0,178.3 L168.7,177.9 L168.5,177.4 L169.3,177.1 L169.9,178.3 L170.6,178.0 L170.4,177.4 L171.2,177.1 L171.0,176.8 L171.8,176.5 L171.7,176.0 L172.5,175.7 L172.5,175.8 L173.3,175.5 L173.9,177.0 L174.6,176.8 L175.0,177.7 L175.7,177.4 L174.9,175.0 L175.8,174.8 L175.9,175.3 L176.7,175.0 L176.4,174.1 L177.3,173.8 L177.1,173.4 L178.0,173.1 L178.1,173.8 L179.0,173.5 L179.3,174.8 L180.1,174.6 L179.8,173.3 L180.6,173.1 L180.7,173.6 L181.6,173.4 L184.0,185.5 A45.0,45.0 0 1 0 199.2,185.0Z" fill="#c8b5e0"/>
<path d="M228.4,198.2L241.8,186.3M159.8,268.5L153.4,276.1M175.9,185.2L168.9,167.0M229.5,194.4L235.0,189.1M166.5,267.3L159.3,277.6M143.9,229.3L130.4,229.2M157.3,259.3L144.8,269.7M144.3,221.9L126.1,219.0M172.4,272.3L163.9,289.9M228.3,263.1L242.3,276.3M159.5,262.7L148.0,274.1M202.5,279.0L205.2,293.0M237.9,250.6L245.4,254.0M160.9,264.9L149.5,277.3M185.4,276.3L183.7,286.8M229.9,259.6L239.9,267.7M167.3,189.7L157.5,174.6M207.6,180.6L209.3,175.0M211.5,276.1L216.5,288.6M143.2,224.6L131.6,223.4M240.1,223.0L257.8,220.5M172.9,277.1L166.7,291.7M203.5,277.6L206.8,292.4M166.1,188.7L158.2,176.5M241.1,217.1L255.3,213.4M162.9,189.0L156.5,180.4M147.5,249.4L139.8,252.8M210.0,183.9L213.4,174.7M211.4,186.6L216.0,176.1M238.2,207.7L247.2,203.3M155.4,263.9L145.5,272.9M146.3,218.2L127.8,213.7M150.4,247.0L132.9,254.2M170.1,185.5L167.3,180.2M173.8,272.6L167.7,286.3M204.3,274.5L207.3,286.7M157.7,193.3L146.2,181.5M181.6,279.9L179.4,289.6M149.5,247.5L139.2,251.8M158.4,195.0L146.6,183.2M147.3,246.7L133.1,252.0M148.2,244.9L132.0,250.3M156.5,258.2L139.6,271.4M243.0,237.5L253.8,239.3M198.8,280.5L199.2,284.5M147.1,248.7L132.4,254.9M188.4,276.5L187.5,285.1M239.8,250.0L252.2,255.4M147.1,246.7L132.2,252.2M206.1,183.3L211.5,164.2M158.9,193.2L147.2,180.7M242.2,242.3L249.8,244.2M146.1,237.6L135.6,239.4M142.1,233.5L129.3,234.5M228.0,260.2L237.5,268.5M197.5,278.7L198.1,284.8M231.5,261.7L242.5,270.9M240.1,234.7L249.7,235.7M165.0,186.5L162.1,182.1M190.5,276.2L189.7,291.0M194.1,281.3L194.3,286.8M243.4,240.4L258.4,243.6M152.5,206.9L141.6,200.9M223.9,267.0L230.0,274.4M150.0,201.4L141.9,196.1M143.2,227.0L137.6,226.8M221.7,187.0L228.9,176.3M176.2,185.5L173.3,177.9M176.6,277.3L171.4,292.3M173.5,182.5L169.8,173.5M146.2,244.9L136.1,248.2M159.5,266.7L150.5,276.6M237.8,254.3L242.7,257.0M181.9,184.6L177.8,168.2M222.3,187.0L229.1,177.1M149.9,205.8L142.5,201.8M206.7,279.5L210.1,292.0M200.4,275.9L203.2,293.3M145.1,221.4L126.4,218.2M235.0,200.1L246.7,192.0M233.3,204.3L249.1,194.3M212.6,274.0L219.1,288.7M243.3,241.8L253.2,244.2M180.8,276.1L179.0,283.0M152.0,255.0L144.7,259.5M212.9,273.2L219.2,286.9M152.9,256.8L146.0,261.4M207.1,276.9L209.8,286.1M213.3,271.4L220.1,285.4M237.5,214.0L246.8,210.7M160.6,195.0L150.5,184.1M235.2,202.5L245.8,195.7M144.4,217.7L129.6,214.1M155.0,259.9L143.3,269.2M168.8,187.9L165.1,181.6M141.8,228.4L129.4,228.1M190.9,277.1L190.2,291.4M149.8,252.8L139.4,258.3M150.9,199.7L148.1,197.6M234.0,197.9L239.4,193.7M162.5,267.5L154.1,277.9M181.0,275.7L176.1,294.5M172.5,276.6L167.0,289.2M242.8,240.5L257.0,243.6M179.1,275.5L174.3,291.2M187.7,280.2L186.5,291.6M240.1,248.7L253.6,254.2M208.2,185.7L212.0,174.8M228.4,196.0L234.6,190.1M178.3,275.8L174.5,288.0M154.2,198.9L143.6,190.5M242.0,213.5L247.4,211.7M165.9,270.8L159.4,280.8M147.0,239.2L133.2,242.1M205.7,184.4L208.8,173.1M180.2,181.3L177.4,170.5M171.5,185.6L168.7,180.0M147.7,211.2L133.9,205.5M220.5,188.5L229.6,174.8M239.2,210.2L247.7,206.7M170.1,187.7L165.5,179.2M155.2,195.4L149.6,190.3M244.1,236.0L253.2,237.1M235.6,257.5L243.2,262.5M145.2,220.4L127.6,217.0M154.9,260.7L150.3,264.5M203.8,182.0L207.8,164.4M224.7,189.3L231.3,180.9M143.2,234.4L128.1,235.9M178.5,279.2L174.9,291.8M205.3,276.5L207.1,283.4" stroke="#7852a6" stroke-width="0.9" fill="none" opacity="0.9"/>
<text x="262" y="70.89999999999999" text-anchor="middle" font-size="12" font-family='"Liberation Sans", sans-serif' fill="#231f20">1</text>
<text x="342.2" y="137.5" text-anchor="middle" font-size="12" font-family='"Liberation Sans", sans-serif' fill="#231f20">2</text>
<text x="368" y="233.3" text-anchor="middle" font-size="12" font-family='"Liberation Sans", sans-serif' fill="#231f20">3</text>
<text x="350" y="312.8" text-anchor="middle" font-size="12" font-family='"Liberation Sans", sans-serif' fill="#231f20">4</text>
<text x="306.2" y="367.90000000000003" text-anchor="middle" font-size="12" font-family='"Liberation Sans", sans-serif' fill="#231f20">5</text>
<text x="252.6" y="399.6" text-anchor="middle" font-size="12" font-family='"Liberation Sans", sans-serif' fill="#231f20">6</text>
<text x="194" y="408.7" text-anchor="middle" font-size="12" font-family='"Liberation Sans", sans-serif' fill="#231f20">7</text>
<text x="139.3" y="400.3" text-anchor="middle" font-size="12" font-family='"Liberation Sans", sans-serif' fill="#231f20">8</text>
<text x="118" y="392.90000000000003" text-anchor="middle" font-size="12" font-family='"Liberation Sans", sans-serif' fill="#231f20">9</text>
<text x="104.1" y="385.5" text-anchor="middle" font-size="12" font-family='"Liberation Sans", sans-serif' fill="#231f20">10</text>
<text x="92" y="378.1" text-anchor="middle" font-size="12" font-family='"Liberation Sans", sans-serif' fill="#231f20">11</text>
<text x="190.6" y="67.1" text-anchor="middle" font-size="13" font-family='"Liberation Sans", sans-serif' fill="#231f20">a</text>
<text x="190.6" y="92.0" text-anchor="middle" font-size="13" font-family='"Liberation Sans", sans-serif' fill="#231f20">b</text>
<text x="190.6" y="120.7" text-anchor="middle" font-size="13" font-family='"Liberation Sans", sans-serif' fill="#231f20">c</text>
<text x="190.6" y="147.4" text-anchor="middle" font-size="13" font-family='"Liberation Sans", sans-serif' fill="#231f20">d</text>
<text x="190.6" y="179.10000000000002" text-anchor="middle" font-size="13" font-family='"Liberation Sans", sans-serif' fill="#231f20">e</text>
<text x="24" y="32.8" font-size="21" font-weight="bold" font-family='"Liberation Sans", sans-serif' fill="#000">a</text>
<text x="394" y="32.8" font-size="21" font-weight="bold" font-family='"Liberation Sans", sans-serif' fill="#000">b</text>
<text x="394" y="284.2" font-size="21" font-weight="bold" font-family='"Liberation Sans", sans-serif' fill="#000">c</text>
<text x="561" y="283.6" font-size="21" font-weight="bold" font-family='"Liberation Sans", sans-serif' fill="#000">d</text>
<defs><linearGradient id="gg" x1="0" x2="1" y1="0" y2="0"><stop offset="0" stop-color="#d9d9d9"/><stop offset="0.55" stop-color="#e6e6e6"/><stop offset="1" stop-color="#ffffff"/></linearGradient><linearGradient id="bg" x1="0" x2="1" y1="0" y2="0"><stop offset="0" stop-color="#cbd1e7"/><stop offset="0.55" stop-color="#dde1ef"/><stop offset="1" stop-color="#ffffff"/></linearGradient><linearGradient id="ln" gradientUnits="objectBoundingBox" x1="0" x2="1" y1="0" y2="0"><stop offset="0" stop-color="#2f4fd0"/><stop offset="0.45" stop-color="#3348b8"/><stop offset="1" stop-color="#333"/></linearGradient></defs>
<rect x="409" y="55" width="275" height="77" fill="url(#gg)"/>
<rect x="409" y="132" width="275" height="113.5" fill="url(#bg)"/>
<rect x="408.15" y="44.65" width="1.5" height="65.6" fill="#3050c8"/>
<rect x="408.9" y="44.65" width="160.10000000000002" height="1.5" fill="url(#ln)"/>
<rect x="408.9" y="108.75" width="31.600000000000023" height="1.5" fill="#3050c8"/>
<rect x="437.5" y="77.3" width="3" height="33.7" fill="#e8101a"/>
<rect x="439.0" y="77.1" width="93.60000000000002" height="3" fill="#e8101a"/>
<rect x="439.85" y="108.75" width="1.5" height="32.5" fill="#3050c8"/>
<rect x="440.6" y="139.75" width="7.899999999999977" height="1.5" fill="#3050c8"/>
<rect x="447.65" y="107.75" width="1.5" height="65.19999999999999" fill="#3050c8"/>
<rect x="448.4" y="107.75" width="13.600000000000023" height="1.5" fill="#3050c8"/>
<rect x="458.75" y="93.95" width="1.5" height="29.0" fill="#3050c8"/>
<rect x="459.5" y="93.95" width="173.10000000000002" height="1.5" fill="url(#ln)"/>
<rect x="459.5" y="121.45" width="116.5" height="1.5" fill="url(#ln)"/>
<rect x="448.4" y="171.45" width="11.600000000000023" height="1.5" fill="#3050c8"/>
<rect x="456.45" y="147.85" width="1.5" height="48.20000000000002" fill="#3050c8"/>
<rect x="457.2" y="147.85" width="61.80000000000001" height="1.5" fill="#3050c8"/>
<rect x="518.25" y="135.55" width="1.5" height="25.799999999999983" fill="#3050c8"/>
<rect x="519" y="135.55" width="52.700000000000045" height="1.5" fill="url(#ln)"/>
<rect x="519" y="159.85" width="47.5" height="1.5" fill="url(#ln)"/>
<rect x="457.2" y="194.55" width="16.600000000000023" height="1.5" fill="#3050c8"/>
<rect x="472.65" y="176.95" width="1.5" height="36.60000000000002" fill="#3050c8"/>
<rect x="473.4" y="176.95" width="105.60000000000002" height="1.5" fill="url(#ln)"/>
<rect x="473.4" y="212.05" width="17.600000000000023" height="1.5" fill="#3050c8"/>
<rect x="490.05" y="197.35" width="1.5" height="30.700000000000017" fill="#3050c8"/>
<rect x="490.8" y="197.35" width="152.99999999999994" height="1.5" fill="url(#ln)"/>
<rect x="490.8" y="226.55" width="56.69999999999999" height="1.5" fill="#3050c8"/>
<rect x="546.65" y="213.65" width="1.5" height="25.599999999999994" fill="#3050c8"/>
<rect x="547.4" y="213.65" width="95.10000000000002" height="1.5" fill="url(#ln)"/>
<rect x="547.4" y="237.75" width="110.60000000000002" height="1.5" fill="url(#ln)"/>
<circle cx="440.6" cy="109.8" r="4.6" fill="#f7a21b"/>
<circle cx="462" cy="108.3" r="4.6" fill="#f7a21b"/>
<circle cx="448.6" cy="140.6" r="4.6" fill="#f7a21b"/>
<circle cx="460" cy="172.2" r="4.6" fill="#f7a21b"/>
<circle cx="518.8" cy="149.2" r="4.6" fill="#f7a21b"/>
<circle cx="473.8" cy="195.3" r="4.6" fill="#f7a21b"/>
<circle cx="490.9" cy="212.9" r="4.6" fill="#f7a21b"/>
<circle cx="547.5" cy="227.4" r="4.6" fill="#f7a21b"/>
<path d="M412.7,206H458.7M412.7,202.5V209.5M458.7,202.5V209.5" stroke="#333" stroke-width="1.2" fill="none"/>
<text x="435.7" y="215.5" text-anchor="middle" font-size="12" font-family='"Liberation Sans", sans-serif' fill="#222">0.2</text>
<text x="571.4" y="49.2" text-anchor="start" font-size="12.2" font-family='"Liberation Sans", sans-serif' fill="#5b2b8c" >DPU</text>
<text x="535.5" y="82.8" text-anchor="start" font-size="12.2" font-family='"Liberation Sans", sans-serif' fill="#5b2b8c" >LMI</text>
<text x="635" y="97.2" text-anchor="start" font-size="12.2" font-family='"Liberation Sans", sans-serif' fill="#5b2b8c" >API</text>
<text x="578" y="126.4" text-anchor="start" font-size="12.2" font-family='"Liberation Sans", sans-serif' fill="#5b2b8c" >PHU</text>
<text x="573" y="140.4" text-anchor="start" font-size="12.2" font-family='"Liberation Sans", sans-serif' fill="#5b2b8c" >NVI</text>
<text x="568.5" y="164.6" text-anchor="start" font-size="12.2" font-family='"Liberation Sans", sans-serif' fill="#5b2b8c" >AME</text>
<text x="581.5" y="181.8" text-anchor="start" font-size="12.2" font-family='"Liberation Sans", sans-serif' fill="#5b2b8c" >TCA</text>
<text x="646" y="200.2" text-anchor="start" font-size="12.2" font-family='"Liberation Sans", sans-serif' fill="#5b2b8c" >BMO</text>
<text x="645" y="218.2" text-anchor="start" font-size="12.2" font-family='"Liberation Sans", sans-serif' fill="#5b2b8c" >AGA</text>
<text x="660" y="242.2" text-anchor="start" font-size="12.2" font-family='"Liberation Sans", sans-serif' fill="#5b2b8c" >DME</text>
<text x="482.4" y="42.8" text-anchor="start" font-size="12" font-family='"Liberation Sans", sans-serif' fill="#231f20" >200 Mb</text>
<text x="459" y="74" text-anchor="start" font-size="12" font-family='"Liberation Sans", sans-serif' fill="#231f20" >6,500 Mb</text>
<text x="494" y="91.7" text-anchor="start" font-size="12" font-family='"Liberation Sans", sans-serif' fill="#231f20" >467 Mb</text>
<text x="496.5" y="118.8" text-anchor="start" font-size="12" font-family='"Liberation Sans", sans-serif' fill="#231f20" >110 Mb</text>
<text x="527" y="134.4" text-anchor="start" font-size="12" font-family='"Liberation Sans", sans-serif' fill="#231f20" >295 Mb</text>
<text x="527.7" y="156" text-anchor="start" font-size="12" font-family='"Liberation Sans", sans-serif' fill="#231f20" >236 Mb</text>
<text x="515.4" y="175.6" text-anchor="start" font-size="12" font-family='"Liberation Sans", sans-serif' fill="#231f20" >160 Mb</text>
<text x="533.7" y="195" text-anchor="start" font-size="12" font-family='"Liberation Sans", sans-serif' fill="#231f20" >429 Mb</text>
<text x="570.4" y="212" text-anchor="start" font-size="12" font-family='"Liberation Sans", sans-serif' fill="#231f20" >278Mb</text>
<text x="571.7" y="234.5" text-anchor="start" font-size="12" font-family='"Liberation Sans", sans-serif' fill="#231f20" >180 Mb</text>
<rect x="731" y="62.5" width="3" height="62" fill="#a89a8c"/>
<rect x="731" y="138.8" width="3.2" height="97.5" fill="#3fa9d6"/>
<text x="0" y="0" text-anchor="middle" font-size="12.3" font-family='"Liberation Sans", sans-serif' fill="#111" transform="translate(747.6,87) rotate(-90)">Hemimetabolous</text>
<text x="0" y="0" text-anchor="middle" font-size="12.3" font-family='"Liberation Sans", sans-serif' fill="#111" transform="translate(747.6,185.5) rotate(-90)">Holometabolous</text>
<path d="M435.3,291V444.5" stroke="#111" stroke-width="1.3"/>
<path d="M430.5,444.0H435.3" stroke="#111" stroke-width="1.2"/>
<path d="M430.5,414.0H435.3" stroke="#111" stroke-width="1.2"/>
<path d="M430.5,384.0H435.3" stroke="#111" stroke-width="1.2"/>
<path d="M430.5,354.0H435.3" stroke="#111" stroke-width="1.2"/>
<path d="M430.5,324.0H435.3" stroke="#111" stroke-width="1.2"/>
<text x="427.5" y="447.4" text-anchor="end" font-size="12.5" font-family='"Liberation Sans", sans-serif' fill="#111" >0</text>
<text x="427.5" y="387.4" text-anchor="end" font-size="12.5" font-family='"Liberation Sans", sans-serif' fill="#111" >10</text>
<text x="427.5" y="327.4" text-anchor="end" font-size="12.5" font-family='"Liberation Sans", sans-serif' fill="#111" >20</text>
<text x="0" y="0" text-anchor="middle" font-size="12.6" font-family='"Liberation Sans", sans-serif' fill="#111" transform="translate(404.8,373.4) rotate(-90)">Length in log2 unit</text>
<rect x="443.3" y="385.8" width="8.2" height="58.199999999999996" fill="#f00" stroke="#600" stroke-width="0.5"/>
<rect x="451.5" y="384" width="8.2" height="60" fill="#000080" stroke="#000040" stroke-width="0.5"/>
<rect x="467.9" y="345.0" width="8.2" height="99.0" fill="#f00" stroke="#600" stroke-width="0.5"/>
<rect x="476.09999999999997" y="384" width="8.2" height="60" fill="#000080" stroke="#000040" stroke-width="0.5"/>
<rect x="493.3" y="294" width="8.2" height="150" fill="#f00" stroke="#600" stroke-width="0.5"/>
<rect x="501.5" y="324" width="8.2" height="120" fill="#000080" stroke="#000040" stroke-width="0.5"/>
<rect x="519.6" y="301.2" width="8.2" height="142.8" fill="#f00" stroke="#600" stroke-width="0.5"/>
<rect x="527.8000000000001" y="352.8" width="8.2" height="91.19999999999999" fill="#000080" stroke="#000040" stroke-width="0.5"/>
<rect x="440.8" y="294" width="4.8" height="8" fill="#f00"/><rect x="440.8" y="305.2" width="4.8" height="7.8" fill="#000080"/>
<text x="447.3" y="301.4" text-anchor="start" font-size="10.2" font-family='"Liberation Sans", sans-serif' fill="#111" >LMI</text>
<text x="447.3" y="312.2" text-anchor="start" font-size="10.2" font-family='"Liberation Sans", sans-serif' fill="#111" >DME</text>
<text x="0" y="0" text-anchor="end" font-size="12.2" font-family='"Liberation Sans", sans-serif' fill="#111" transform="translate(456,454.5) rotate(-45)">Coding</text>
<text x="0" y="0" text-anchor="end" font-size="12.2" font-family='"Liberation Sans", sans-serif' fill="#111" transform="translate(479,454.5) rotate(-45)">Intronic</text>
<text x="0" y="0" text-anchor="end" font-size="12.2" font-family='"Liberation Sans", sans-serif' fill="#111" transform="translate(505,454.5) rotate(-45)">Intergenic</text>
<text x="0" y="0" text-anchor="end" font-size="12.2" font-family='"Liberation Sans", sans-serif' fill="#111" transform="translate(532,454.5) rotate(-45)">Repetitive</text>
<path d="M596.6,283.6H756.4V441.1H596.6Z" fill="none" stroke="#111" stroke-width="1.6"/>
<path d="M592.8,291.6H596.6" stroke="#111" stroke-width="1.2"/>
<text x="588.8" y="296.0" text-anchor="end" font-size="12.5" font-family='"Liberation Sans", sans-serif' fill="#111" >6</text>
<path d="M592.8,343.4H596.6" stroke="#111" stroke-width="1.2"/>
<text x="588.8" y="347.79999999999995" text-anchor="end" font-size="12.5" font-family='"Liberation Sans", sans-serif' fill="#111" >4</text>
<path d="M592.8,395.3H596.6" stroke="#111" stroke-width="1.2"/>
<text x="588.8" y="399.7" text-anchor="end" font-size="12.5" font-family='"Liberation Sans", sans-serif' fill="#111" >2</text>
<path d="M592.8,441.1H596.6" stroke="#111" stroke-width="1.2"/>
<text x="588.8" y="445.5" text-anchor="end" font-size="12.5" font-family='"Liberation Sans", sans-serif' fill="#111" >0</text>
<path d="M619.4,441.1V445" stroke="#111" stroke-width="1.2"/>
<text x="619.4" y="459.4" text-anchor="middle" font-size="12.5" font-family='"Liberation Sans", sans-serif' fill="#111" >5</text>
<path d="M651.8,441.1V445" stroke="#111" stroke-width="1.2"/>
<text x="651.8" y="459.4" text-anchor="middle" font-size="12.5" font-family='"Liberation Sans", sans-serif' fill="#111" >10</text>
<path d="M684.6,441.1V445" stroke="#111" stroke-width="1.2"/>
<text x="684.6" y="459.4" text-anchor="middle" font-size="12.5" font-family='"Liberation Sans", sans-serif' fill="#111" >15</text>
<path d="M717.5,441.1V445" stroke="#111" stroke-width="1.2"/>
<text x="717.5" y="459.4" text-anchor="middle" font-size="12.5" font-family='"Liberation Sans", sans-serif' fill="#111" >20</text>
<path d="M750.4,441.1V445" stroke="#111" stroke-width="1.2"/>
<text x="750.4" y="459.4" text-anchor="middle" font-size="12.5" font-family='"Liberation Sans", sans-serif' fill="#111" >25</text>
<text x="674.5" y="475.2" text-anchor="middle" font-size="12" font-family='"Liberation Sans", sans-serif' fill="#111" >Divergence (%)</text>
<text x="0" y="0" text-anchor="middle" font-size="12" font-family='"Liberation Sans", sans-serif' fill="#111" transform="translate(573,373.5) rotate(-90)">Deletion rates (%)</text>
<path d="M602.5,413.4 L619,408.1 L635.6,392.9 L652,378.1 L668.6,365.4 L684.8,344.5 L701.2,326 L717.6,302 L734.1,289 L750.5,292.7" stroke="#f2a21f" stroke-width="3" fill="none" stroke-linejoin="round" stroke-linecap="round"/>
<path d="M602.5,435.2 L619,422.5 L635.6,413 L652,396 L668.6,383.5 L684.8,370.5 L701.2,352.5 L717.6,334 L734.1,325.4 L750.5,320" stroke="#e020e0" stroke-width="3" fill="none" stroke-linejoin="round" stroke-linecap="round"/>
<path d="M602.5,425.7 L619,419.3 L635.6,410.9 L652,394.5 L668.6,381.6 L684.8,369.5 L701.2,354 L717.6,336.5 L734.1,314.5 L750.5,306" stroke="#6f6f6f" stroke-width="3" fill="none" stroke-linejoin="round" stroke-linecap="round"/>
<path d="M602.5,424.6 L619,414.5 L635.6,415.1 L652,397.7 L668.6,389.7 L684.8,372 L701.2,354 L717.6,344 L734.1,332.6 L750.5,324.5" stroke="#22c322" stroke-width="3" fill="none" stroke-linejoin="round" stroke-linecap="round"/>
<path d="M602.5,426.3 L619,418.7 L635.6,414.1 L652,401 L668.6,392.1 L684.8,386.5 L701.2,375.2 L717.6,356.5 L734.1,348 L750.5,341.3" stroke="#e01010" stroke-width="3" fill="none" stroke-linejoin="round" stroke-linecap="round"/>
<path d="M602.5,433.5 L619,423.6 L635.6,396.1 L652,376 L668.6,367.1 L684.8,347 L701.2,324 L717.6,313.6 L734.1,307.2 L750.5,319" stroke="#000080" stroke-width="3" fill="none" stroke-linejoin="round" stroke-linecap="round"/>
<path d="M601.8,294.5H616.3" stroke="#e01010" stroke-width="3"/>
<text x="620.3" y="298.1" text-anchor="start" font-size="10.2" font-family='"Liberation Sans", sans-serif' fill="#111" >LMI</text>
<path d="M601.8,304.2H616.3" stroke="#000080" stroke-width="3"/>
<text x="620.3" y="307.8" text-anchor="start" font-size="10.2" font-family='"Liberation Sans", sans-serif' fill="#111" >DME</text>
<path d="M601.8,313.9H616.3" stroke="#22c322" stroke-width="3"/>
<text x="620.3" y="317.5" text-anchor="start" font-size="10.2" font-family='"Liberation Sans", sans-serif' fill="#111" >AGA</text>
<path d="M601.8,323.5H616.3" stroke="#6f6f6f" stroke-width="3"/>
<text x="620.3" y="327.1" text-anchor="start" font-size="10.2" font-family='"Liberation Sans", sans-serif' fill="#111" >BMO</text>
<path d="M601.8,333.2H616.3" stroke="#f2a21f" stroke-width="3"/>
<text x="620.3" y="336.8" text-anchor="start" font-size="10.2" font-family='"Liberation Sans", sans-serif' fill="#111" >API</text>
<path d="M601.8,343.4H616.3" stroke="#e020e0" stroke-width="3"/>
<text x="620.3" y="347.0" text-anchor="start" font-size="10.2" font-family='"Liberation Sans", sans-serif' fill="#111" >AME</text>
<g id="insects">
<!-- daphnia -->
<g>
<path d="M686,48 L679,56 M686,49 L683,57 M687,49 L688,57 M686,48 L677,52" stroke="#c9b9a6" stroke-width="0.8" fill="none"/>
<path d="M718,40 L732,37" stroke="#cfc6bb" stroke-width="0.8"/>
<ellipse cx="702" cy="42.5" rx="17" ry="8" transform="rotate(-6 702 42.5)" fill="#dcd3c4"/>
<ellipse cx="706" cy="40.5" rx="10" ry="5.5" transform="rotate(-6 706 40.5)" fill="#5d6a3c"/>
<ellipse cx="694" cy="44" rx="6" ry="3.5" fill="#9aa36a"/>
<ellipse cx="704" cy="45.5" rx="6" ry="2.3" fill="#6b5a40" opacity="0.7"/>
<circle cx="687" cy="45" r="1.6" fill="#2a2418"/>
</g>
<!-- grasshopper -->
<g>
<path d="M684,70 L681,63 M687,70 L686,63" stroke="#a8b070" stroke-width="0.8"/>
<path d="M692,75 L688,80 L694,80 M700,75 L705,80 L710,81 M708,74 L704,80" stroke="#9fae5c" stroke-width="1.2" fill="none"/>
<path d="M684,72 Q686,67 694,68 L720,67 Q726,69 724,72 L712,76 L690,77 Q684,76 684,72Z" fill="#a8b866"/>
<path d="M700,69 L722,66 Q726,69 722,72 L704,73Z" fill="#6a6a48"/>
<ellipse cx="689" cy="72" rx="4" ry="3.5" fill="#9cb356"/>
</g>
<!-- aphid -->
<g>
<path d="M698,93 L684,92 M699,92 L702,84 L706,81 M712,93 L716,95 L716,104 M701,101 L697,106 M708,104 L711,109" stroke="#9ccc5f" stroke-width="0.8" fill="none"/>
<ellipse cx="706" cy="99" rx="7.5" ry="8.5" transform="rotate(-35 706 99)" fill="#8cc84a"/>
<ellipse cx="704" cy="97" rx="4" ry="5" transform="rotate(-35 704 97)" fill="#a6d668"/>
</g>
<!-- louse -->
<g>
<path d="M690,117 L682,114 M690,121 L682,124 M696,116 L700,111 M696,123 L699,129 M692,123 L688,127" stroke="#5f564a" stroke-width="0.9" fill="none"/>
<ellipse cx="710" cy="119.8" rx="13" ry="4.6" fill="#8f8068"/>
<ellipse cx="710" cy="119.5" rx="10" ry="2.5" fill="#6e6250"/>
<ellipse cx="693" cy="119.8" rx="5" ry="3.2" fill="#5a5045"/>
</g>
<!-- wasp -->
<g>
<path d="M694,135 L686,137 M700,140 L698,148 M704,140 L706,147 M700,137 L706,131" stroke="#6b6050" stroke-width="0.8" fill="none"/>
<path d="M701,137 L712,133 L718,137 L706,140Z" fill="#bdb5a8" opacity="0.8"/>
<ellipse cx="712" cy="142" rx="7.5" ry="3.8" transform="rotate(15 712 142)" fill="#2e2a24"/>
<ellipse cx="701.5" cy="138.5" rx="4" ry="3" fill="#3a3228"/>
<circle cx="695" cy="136.5" r="2.8" fill="#231f1a"/>
</g>
<!-- bee -->
<g>
<path d="M688,157 L682,154 M696,161 L694,166 M700,161 L702,166" stroke="#8a7a60" stroke-width="0.7" fill="none"/>
<ellipse cx="709.5" cy="158.5" rx="8.5" ry="3.6" fill="#c09a58"/>
<path d="M705,155 V162 M709,155 V162 M713,155.5 V161.5" stroke="#3d2e1c" stroke-width="1.4"/>
<ellipse cx="697.5" cy="158.8" rx="4" ry="3" fill="#5a4a36"/>
<circle cx="691" cy="159" r="2.5" fill="#2a2420"/>
</g>
<!-- beetle -->
<g>
<path d="M689,172 L684,175 M692,170 L693,166" stroke="#7a3a24" stroke-width="0.8"/>
<ellipse cx="707" cy="178.5" rx="14" ry="6.3" transform="rotate(24 707 178.5)" fill="#8c3b20"/>
<ellipse cx="704" cy="176.5" rx="8" ry="3" transform="rotate(24 704 176.5)" fill="#a95a3a" opacity="0.8"/>
<ellipse cx="692" cy="172.8" rx="3.5" ry="2.6" fill="#7d3a22"/>
</g>
<!-- larva -->
<g>
<path d="M697.5,191 Q697,203 702,204.5 L719,204" stroke="#ecd9c6" stroke-width="6.2" fill="none" stroke-linecap="round"/>
<circle cx="697.5" cy="190.5" r="2.2" fill="#a98b70"/>
</g>
<!-- mosquito -->
<g>
<path d="M692,217 L683,218 M698,219 L692,226 M702,219 L700,226 M700,214 L690,212" stroke="#8a8e96" stroke-width="0.7" fill="none"/>
<path d="M704,214 L720,212" stroke="#c7c7cc" stroke-width="1.2"/>
<ellipse cx="712" cy="220" rx="9" ry="3.6" transform="rotate(18 712 220)" fill="#8c4a34"/>
<ellipse cx="700.5" cy="215.8" rx="4.5" ry="3.4" fill="#c39a72"/>
<circle cx="694.8" cy="216.5" r="1.8" fill="#2a2420"/>
</g>
<!-- fly -->
<g>
<path d="M702,238 L722,232.5 L718,237 Z" fill="#9c9ca0" opacity="0.8"/>
<path d="M698,246 L695,250 M705,247 L705,250 M711,246 L714,250" stroke="#7a5a40" stroke-width="0.8" fill="none"/>
<ellipse cx="706" cy="242" rx="12" ry="5.8" transform="rotate(-5 706 242)" fill="#ad7446"/>
<ellipse cx="712" cy="241.5" rx="6" ry="3.6" fill="#8e5530"/>
<circle cx="695" cy="242.8" r="3" fill="#b04a32"/>
</g>
</g>

</svg></body></html>
